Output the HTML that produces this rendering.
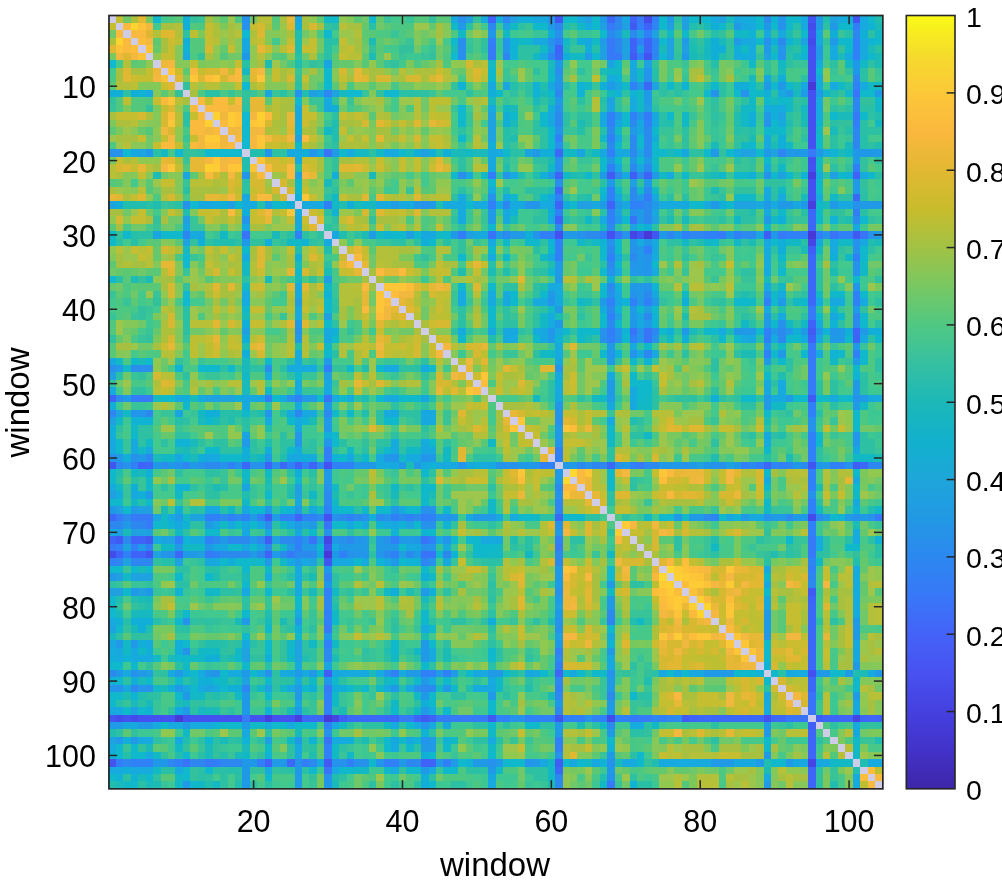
<!DOCTYPE html>
<html><head><meta charset="utf-8"><style>
html,body{margin:0;padding:0;background:#fff;}
svg{display:block;will-change:transform;}
text{font-family:"Liberation Sans",sans-serif;font-size:30.5px;fill:#000;}
</style></head><body>
<svg width="1002" height="887" viewBox="0 0 1002 887">
<rect width="1002" height="887" fill="#fff"/>
<g shape-rendering="crispEdges"><path fill="#cfcce8" d="M108 16h8v7h-8zM116 23h7v7h-7zM123 30h8v8h-8zM131 38h7v7h-7zM138 45h8v8h-8zM146 53h7v7h-7zM153 60h8v8h-8zM161 68h7v7h-7zM168 75h7v7h-7zM175 82h8v8h-8zM183 90h7v7h-7zM190 97h8v8h-8zM198 105h7v7h-7zM205 112h8v8h-8zM213 120h7v7h-7zM220 127h8v8h-8zM228 135h7v7h-7zM235 142h7v7h-7zM242 149h8v8h-8zM250 157h7v7h-7zM257 164h8v8h-8zM265 172h7v7h-7zM272 179h8v8h-8zM280 187h7v7h-7zM287 194h8v7h-8zM295 201h7v8h-7zM302 209h7v7h-7zM309 216h8v8h-8zM317 224h7v7h-7zM324 231h8v8h-8zM332 239h7v7h-7zM339 246h8v8h-8zM347 254h7v7h-7zM354 261h8v7h-8zM362 268h7v8h-7zM369 276h7v7h-7zM376 283h8v8h-8zM384 291h7v7h-7zM391 298h8v8h-8zM399 306h7v7h-7zM406 313h8v7h-8zM414 320h7v8h-7zM421 328h8v7h-8zM429 335h7v8h-7zM436 343h7v7h-7zM443 350h8v8h-8zM451 358h7v7h-7zM458 365h8v7h-8zM466 372h7v8h-7zM473 380h8v7h-8zM481 387h7v8h-7zM488 395h8v7h-8zM496 402h7v8h-7zM503 410h7v7h-7zM510 417h8v8h-8zM518 425h7v7h-7zM525 432h8v7h-8zM533 439h7v8h-7zM540 447h8v7h-8zM548 454h7v8h-7zM555 462h8v7h-8zM563 469h7v8h-7zM570 477h7v7h-7zM577 484h8v7h-8zM585 491h7v8h-7zM592 499h8v7h-8zM600 506h7v8h-7zM607 514h8v7h-8zM615 521h7v8h-7zM622 529h8v7h-8zM630 536h7v8h-7zM637 544h7v7h-7zM644 551h8v7h-8zM652 558h7v8h-7zM659 566h8v7h-8zM667 573h7v8h-7zM674 581h8v7h-8zM682 588h7v8h-7zM689 596h8v7h-8zM697 603h7v7h-7zM704 610h7v8h-7zM711 618h8v7h-8zM719 625h7v8h-7zM726 633h8v7h-8zM734 640h7v8h-7zM741 648h8v7h-8zM749 655h7v7h-7zM756 662h8v8h-8zM764 670h7v7h-7zM771 677h7v8h-7zM778 685h8v7h-8zM786 692h7v8h-7zM793 700h8v7h-8zM801 707h7v8h-7zM808 715h8v7h-8zM816 722h7v7h-7zM823 729h7v8h-7zM830 737h8v7h-8zM838 744h7v8h-7zM845 752h8v7h-8zM853 759h7v8h-7zM860 767h8v7h-8zM868 774h7v7h-7zM875 781h8v8h-8z"/><path fill="#c4be30" d="M116 16h7v7h-7zM108 23h8v7h-8zM205 23h8v7h-8zM250 23h7v7h-7zM205 30h8v8h-8zM205 38h8v7h-8zM257 38h8v7h-8zM287 38h8v7h-8zM309 38h8v7h-8zM339 38h8v7h-8zM168 45h7v8h-7zM228 45h7v8h-7zM265 45h7v8h-7zM302 45h15v8h-15zM347 45h7v8h-7zM161 53h14v7h-14zM339 53h8v7h-8zM190 60h8v8h-8zM235 60h7v8h-7zM146 68h7v7h-7zM198 68h7v7h-7zM228 68h7v7h-7zM272 68h8v7h-8zM481 68h7v7h-7zM138 75h15v7h-15zM272 75h8v7h-8zM302 75h7v7h-7zM339 75h8v7h-8zM697 75h7v7h-7zM235 82h7v8h-7zM257 82h8v8h-8zM153 97h8v8h-8zM205 97h8v8h-8zM228 97h7v8h-7zM161 105h7v7h-7zM302 105h7v7h-7zM116 112h22v8h-22zM190 112h8v8h-8zM302 112h15v8h-15zM339 112h8v8h-8zM354 112h8v8h-8zM429 112h7v8h-7zM399 120h7v7h-7zM339 127h8v8h-8zM138 135h8v7h-8zM161 135h7v7h-7zM190 135h8v7h-8zM309 135h8v7h-8zM347 135h7v7h-7zM362 135h7v7h-7zM399 135h7v7h-7zM429 135h14v7h-14zM153 142h8v7h-8zM175 142h8v7h-8zM265 142h7v7h-7zM436 142h7v7h-7zM116 157h7v7h-7zM280 157h7v7h-7zM302 157h15v7h-15zM376 157h8v7h-8zM399 157h7v7h-7zM414 157h7v7h-7zM131 164h7v8h-7zM175 164h8v8h-8zM399 164h7v8h-7zM414 164h7v8h-7zM138 172h8v7h-8zM235 172h7v7h-7zM161 179h14v8h-14zM250 187h7v7h-7zM302 187h7v7h-7zM131 194h7v7h-7zM309 194h8v7h-8zM339 194h8v7h-8zM138 209h8v7h-8zM168 209h7v7h-7zM198 209h15v7h-15zM250 209h7v7h-7zM280 209h7v7h-7zM384 209h7v7h-7zM399 209h7v7h-7zM131 216h15v8h-15zM205 216h8v8h-8zM228 216h7v8h-7zM250 216h7v8h-7zM287 216h8v8h-8zM339 216h8v8h-8zM362 224h7v7h-7zM399 224h7v7h-7zM436 224h7v7h-7zM131 246h7v8h-7zM146 246h7v8h-7zM168 246h7v8h-7zM205 246h8v8h-8zM220 246h8v8h-8zM287 246h8v8h-8zM309 246h8v8h-8zM362 246h7v8h-7zM138 254h8v7h-8zM228 254h7v7h-7zM205 261h8v7h-8zM436 261h7v7h-7zM481 261h7v7h-7zM726 261h8v7h-8zM228 268h7v8h-7zM317 268h7v8h-7zM339 268h8v8h-8zM436 268h15v8h-15zM473 268h8v8h-8zM250 283h7v8h-7zM421 283h8v8h-8zM302 291h7v7h-7zM436 291h15v7h-15zM436 298h7v8h-7zM213 306h7v7h-7zM228 306h7v7h-7zM250 306h15v7h-15zM302 306h7v7h-7zM317 306h7v7h-7zM414 306h7v7h-7zM250 320h15v8h-15zM399 320h7v8h-7zM376 328h8v7h-8zM205 335h8v8h-8zM228 335h7v8h-7zM228 343h14v7h-14zM317 343h7v7h-7zM354 343h15v7h-15zM384 343h15v7h-15zM362 350h7v8h-7zM384 350h7v8h-7zM510 365h8v7h-8zM622 365h8v7h-8zM652 365h7v7h-7zM496 372h7v8h-7zM659 372h8v8h-8zM362 380h7v7h-7zM659 380h8v7h-8zM161 387h7v8h-7zM354 387h8v8h-8zM518 387h7v8h-7zM570 387h7v8h-7zM466 402h7v8h-7zM533 410h7v7h-7zM563 410h14v7h-14zM585 410h7v7h-7zM458 417h8v8h-8zM585 417h7v8h-7zM481 425h7v7h-7zM525 425h8v7h-8zM577 425h8v7h-8zM659 425h8v7h-8zM719 425h15v7h-15zM823 425h7v7h-7zM838 425h7v7h-7zM518 432h7v7h-7zM533 432h7v7h-7zM503 439h7v8h-7zM525 439h8v8h-8zM563 439h22v8h-22zM622 454h8v8h-8zM503 469h7v8h-7zM533 469h7v8h-7zM652 469h7v8h-7zM719 469h7v8h-7zM481 477h7v7h-7zM503 477h7v7h-7zM533 477h7v7h-7zM622 477h8v7h-8zM682 477h7v7h-7zM719 477h7v7h-7zM734 477h7v7h-7zM518 484h7v7h-7zM533 484h7v7h-7zM659 484h15v7h-15zM726 484h8v7h-8zM503 491h15v8h-15zM600 491h7v8h-7zM652 491h7v8h-7zM823 491h7v8h-7zM838 491h7v8h-7zM585 506h7v8h-7zM615 506h15v8h-15zM600 521h7v8h-7zM667 521h7v8h-7zM682 521h7v8h-7zM458 529h8v7h-8zM548 529h7v7h-7zM570 529h7v7h-7zM600 529h7v7h-7zM630 529h14v7h-14zM726 529h8v7h-8zM622 536h8v8h-8zM622 544h8v7h-8zM458 558h8v8h-8zM563 558h7v8h-7zM585 558h7v8h-7zM689 558h8v8h-8zM466 566h15v7h-15zM518 566h7v7h-7zM577 566h8v7h-8zM786 566h15v7h-15zM823 566h7v7h-7zM845 566h8v7h-8zM577 573h8v8h-8zM615 573h7v8h-7zM793 573h8v8h-8zM823 573h7v8h-7zM801 581h7v7h-7zM570 588h7v8h-7zM615 588h7v8h-7zM704 588h7v8h-7zM749 588h15v8h-15zM801 588h7v8h-7zM652 596h7v7h-7zM741 596h15v7h-15zM168 603h7v7h-7zM786 603h15v7h-15zM682 610h7v8h-7zM734 610h15v8h-15zM756 610h8v8h-8zM786 610h15v8h-15zM719 618h7v7h-7zM734 618h7v7h-7zM786 618h15v7h-15zM518 625h7v8h-7zM563 625h14v8h-14zM711 625h8v8h-8zM749 625h7v8h-7zM793 625h8v8h-8zM845 625h8v8h-8zM354 633h8v7h-8zM518 633h7v7h-7zM577 633h8v7h-8zM622 633h8v7h-8zM845 633h8v7h-8zM570 640h7v8h-7zM704 640h15v8h-15zM771 640h7v8h-7zM845 640h8v8h-8zM689 648h8v7h-8zM704 648h7v7h-7zM793 648h8v7h-8zM823 648h7v7h-7zM682 655h15v7h-15zM719 655h7v7h-7zM771 655h15v7h-15zM801 655h7v7h-7zM823 655h7v7h-7zM682 662h7v8h-7zM704 662h7v8h-7zM786 662h7v8h-7zM801 662h7v8h-7zM734 677h7v8h-7zM749 677h7v8h-7zM749 685h7v7h-7zM793 685h8v7h-8zM659 692h8v8h-8zM697 692h22v8h-22zM756 692h8v8h-8zM659 700h15v7h-15zM697 700h29v7h-29zM741 700h8v7h-8zM778 700h8v7h-8zM674 707h15v8h-15zM749 707h15v8h-15zM518 729h7v8h-7zM585 729h7v8h-7zM659 729h15v8h-15zM741 729h15v8h-15zM518 744h7v8h-7zM585 744h7v8h-7zM659 752h8v7h-8zM719 752h22v7h-22z"/><path fill="#70c868" d="M123 16h8v7h-8zM250 16h7v7h-7zM362 16h7v7h-7zM376 23h8v7h-8zM473 23h8v7h-8zM108 30h8v8h-8zM302 30h7v8h-7zM421 30h8v8h-8zM466 30h7v8h-7zM496 30h7v8h-7zM697 30h7v8h-7zM317 38h7v7h-7zM384 38h7v7h-7zM317 45h7v8h-7zM362 45h7v8h-7zM414 45h7v8h-7zM436 45h7v8h-7zM228 53h14v7h-14zM302 53h7v7h-7zM436 53h7v7h-7zM280 60h7v8h-7zM600 60h7v8h-7zM726 60h8v8h-8zM265 68h7v7h-7zM317 68h7v7h-7zM391 68h8v7h-8zM451 68h7v7h-7zM570 68h7v7h-7zM592 68h8v7h-8zM622 68h8v7h-8zM309 75h15v7h-15zM563 75h7v7h-7zM309 82h8v8h-8zM399 82h15v8h-15zM384 97h7v8h-7zM421 97h8v8h-8zM451 97h7v8h-7zM674 97h8v8h-8zM823 97h7v8h-7zM309 105h8v7h-8zM339 105h8v7h-8zM362 105h7v7h-7zM421 105h8v7h-8zM697 105h7v7h-7zM726 105h8v7h-8zM823 105h7v7h-7zM391 112h8v8h-8zM391 127h8v8h-8zM496 127h7v8h-7zM726 127h8v8h-8zM146 135h7v7h-7zM481 135h7v7h-7zM496 135h7v7h-7zM146 142h7v7h-7zM570 142h7v7h-7zM108 157h8v7h-8zM518 157h7v7h-7zM570 157h7v7h-7zM592 164h8v8h-8zM161 172h7v7h-7zM384 172h7v7h-7zM414 172h7v7h-7zM436 172h15v7h-15zM406 179h8v8h-8zM719 179h7v8h-7zM756 179h8v8h-8zM153 187h8v7h-8zM473 187h8v7h-8zM697 187h7v7h-7zM592 194h8v7h-8zM674 194h8v7h-8zM697 194h7v7h-7zM123 209h8v7h-8zM146 209h7v7h-7zM674 209h8v7h-8zM726 209h8v7h-8zM168 216h15v8h-15zM198 216h7v8h-7zM131 224h15v7h-15zM161 224h14v7h-14zM443 224h8v7h-8zM518 224h7v7h-7zM466 239h7v7h-7zM198 246h7v8h-7zM525 246h8v8h-8zM697 246h7v8h-7zM719 246h7v8h-7zM823 246h7v8h-7zM369 254h7v7h-7zM577 254h8v7h-8zM823 254h7v7h-7zM369 261h7v7h-7zM510 261h8v7h-8zM525 261h8v7h-8zM704 261h7v7h-7zM868 261h15v7h-15zM108 268h8v8h-8zM138 268h8v8h-8zM198 268h7v8h-7zM481 268h7v8h-7zM570 268h7v8h-7zM823 268h7v8h-7zM347 276h15v7h-15zM391 276h8v7h-8zM496 276h14v7h-14zM525 276h8v7h-8zM540 276h8v7h-8zM674 276h8v7h-8zM771 276h7v7h-7zM823 276h7v7h-7zM116 283h7v8h-7zM525 283h8v8h-8zM793 283h8v8h-8zM131 291h7v7h-7zM190 291h8v7h-8zM265 291h7v7h-7zM518 291h7v7h-7zM689 291h8v7h-8zM823 291h7v7h-7zM161 298h7v8h-7zM205 298h8v8h-8zM220 298h8v8h-8zM369 298h7v8h-7zM697 298h7v8h-7zM175 306h8v7h-8zM421 306h8v7h-8zM659 306h8v7h-8zM704 306h7v7h-7zM868 306h7v7h-7zM175 313h8v7h-8zM272 313h8v7h-8zM421 313h8v7h-8zM451 313h7v7h-7zM481 313h7v7h-7zM711 313h8v7h-8zM756 313h8v7h-8zM138 320h8v8h-8zM265 320h7v8h-7zM481 320h7v8h-7zM674 320h8v8h-8zM726 320h8v8h-8zM123 328h8v7h-8zM190 328h15v7h-15zM399 328h15v7h-15zM451 335h7v8h-7zM138 343h15v7h-15zM265 343h7v7h-7zM577 343h23v7h-23zM719 343h7v7h-7zM793 343h8v7h-8zM868 343h7v7h-7zM265 350h7v8h-7zM317 350h7v8h-7zM518 350h7v8h-7zM674 350h8v8h-8zM689 350h8v8h-8zM161 358h7v7h-7zM190 358h8v7h-8zM406 358h8v7h-8zM429 358h7v7h-7zM488 358h8v7h-8zM503 358h7v7h-7zM719 358h7v7h-7zM525 365h8v7h-8zM719 365h7v7h-7zM801 365h7v7h-7zM123 372h8v8h-8zM332 372h7v8h-7zM533 372h7v8h-7zM577 372h8v8h-8zM682 372h7v8h-7zM719 372h7v8h-7zM801 372h7v8h-7zM116 380h7v7h-7zM280 380h7v7h-7zM577 380h8v7h-8zM682 380h7v7h-7zM228 387h7v8h-7zM362 387h7v8h-7zM406 387h15v8h-15zM577 387h8v8h-8zM451 395h7v7h-7zM123 402h8v8h-8zM220 402h15v8h-15zM369 402h7v8h-7zM540 402h8v8h-8zM577 402h15v8h-15zM369 410h7v7h-7zM451 410h7v7h-7zM630 410h14v7h-14zM793 410h8v7h-8zM354 417h8v8h-8zM525 417h15v8h-15zM823 417h7v8h-7zM250 425h7v7h-7zM317 425h7v7h-7zM384 425h7v7h-7zM443 425h8v7h-8zM741 425h8v7h-8zM771 425h7v7h-7zM860 425h15v7h-15zM339 432h8v7h-8zM354 432h8v7h-8zM369 432h15v7h-15zM458 432h8v7h-8zM510 432h8v7h-8zM540 432h8v7h-8zM466 439h7v8h-7zM510 439h8v8h-8zM548 439h7v8h-7zM682 439h7v8h-7zM704 439h7v8h-7zM734 439h7v8h-7zM369 447h7v7h-7zM496 447h7v7h-7zM525 447h8v7h-8zM674 447h8v7h-8zM801 447h7v7h-7zM533 454h7v8h-7zM741 454h8v8h-8zM778 454h8v8h-8zM801 454h7v8h-7zM838 454h7v8h-7zM168 469h7v8h-7zM161 477h7v7h-7zM235 477h7v7h-7zM250 477h7v7h-7zM362 477h7v7h-7zM771 477h7v7h-7zM875 477h8v7h-8zM347 484h7v7h-7zM436 484h7v7h-7zM466 484h22v7h-22zM496 484h7v7h-7zM771 484h7v7h-7zM436 491h7v8h-7zM496 491h7v8h-7zM778 491h8v8h-8zM875 491h8v8h-8zM161 499h7v7h-7zM257 499h8v7h-8zM287 499h8v7h-8zM436 499h7v7h-7zM637 499h7v7h-7zM771 499h7v7h-7zM801 499h7v7h-7zM153 506h8v8h-8zM793 521h8v8h-8zM860 521h8v8h-8zM161 529h7v7h-7zM786 529h7v7h-7zM823 529h7v7h-7zM875 529h8v7h-8zM503 536h7v8h-7zM682 536h7v8h-7zM503 544h7v7h-7zM592 544h8v7h-8zM778 544h8v7h-8zM711 558h8v8h-8zM786 558h7v8h-7zM823 558h7v8h-7zM399 566h7v7h-7zM190 581h8v7h-8zM287 581h8v7h-8zM302 581h7v7h-7zM369 581h7v7h-7zM414 581h7v7h-7zM443 581h8v7h-8zM540 581h8v7h-8zM466 588h15v8h-15zM533 588h7v8h-7zM630 588h7v8h-7zM384 596h7v7h-7zM443 596h8v7h-8zM860 596h8v7h-8zM123 603h8v7h-8zM198 603h7v7h-7zM280 603h15v7h-15zM339 603h8v7h-8zM391 603h8v7h-8zM830 603h8v7h-8zM354 610h8v8h-8zM399 610h7v8h-7zM533 610h7v8h-7zM771 610h7v8h-7zM860 610h8v8h-8zM406 618h8v7h-8zM652 618h7v7h-7zM771 618h7v7h-7zM860 618h8v7h-8zM272 625h8v8h-8zM339 625h8v8h-8zM436 625h7v8h-7zM451 625h22v8h-22zM771 625h7v8h-7zM830 625h8v8h-8zM153 633h8v7h-8zM198 633h7v7h-7zM220 633h8v7h-8zM302 633h7v7h-7zM414 633h7v7h-7zM830 633h8v7h-8zM860 633h8v7h-8zM533 640h7v8h-7zM518 648h7v7h-7zM548 648h7v7h-7zM272 662h8v8h-8zM406 662h8v8h-8zM369 677h7v8h-7zM518 677h7v8h-7zM570 677h15v8h-15zM592 677h8v8h-8zM704 677h22v8h-22zM548 685h7v7h-7zM585 685h7v7h-7zM637 685h7v7h-7zM823 685h7v7h-7zM875 685h8v7h-8zM622 692h8v8h-8zM652 692h7v8h-7zM376 700h8v7h-8zM436 700h7v7h-7zM503 700h7v7h-7zM615 700h7v7h-7zM458 707h15v8h-15zM540 707h15v8h-15zM592 707h8v8h-8zM190 729h15v8h-15zM339 729h15v8h-15zM362 729h14v8h-14zM384 729h7v8h-7zM510 729h8v8h-8zM622 729h8v8h-8zM652 729h7v8h-7zM778 729h8v8h-8zM860 729h8v8h-8zM697 737h7v7h-7zM719 737h15v7h-15zM548 744h7v8h-7zM518 767h7v7h-7zM615 767h7v7h-7zM689 767h8v7h-8zM704 767h15v7h-15zM726 767h8v7h-8zM823 767h7v7h-7zM354 774h8v7h-8zM399 774h7v7h-7zM436 774h7v7h-7zM518 774h7v7h-7zM354 781h8v8h-8zM570 781h7v8h-7zM585 781h7v8h-7zM622 781h8v8h-8zM778 781h8v8h-8z"/><path fill="#acc03c" d="M131 16h7v7h-7zM280 16h7v7h-7zM213 23h7v7h-7zM265 23h7v7h-7zM213 30h7v8h-7zM250 30h7v8h-7zM287 30h8v8h-8zM108 38h8v7h-8zM205 53h8v7h-8zM309 53h8v7h-8zM473 60h8v8h-8zM414 68h22v7h-22zM399 75h7v7h-7zM421 75h8v7h-8zM250 82h7v8h-7zM280 97h7v8h-7zM146 112h7v8h-7zM384 112h7v8h-7zM116 120h15v7h-15zM272 120h8v7h-8zM309 120h8v7h-8zM354 120h8v7h-8zM265 127h7v8h-7zM302 127h7v8h-7zM443 135h8v7h-8zM339 142h30v7h-30zM123 157h8v7h-8zM175 157h8v7h-8zM116 172h7v7h-7zM220 172h8v7h-8zM280 172h7v7h-7zM213 179h7v8h-7zM108 187h8v7h-8zM190 187h8v7h-8zM265 187h7v7h-7zM123 194h8v7h-8zM347 194h7v7h-7zM391 194h8v7h-8zM220 209h8v7h-8zM146 216h7v8h-7zM213 216h7v8h-7zM354 216h8v8h-8zM674 224h8v7h-8zM235 246h7v8h-7zM235 254h7v7h-7zM287 254h8v7h-8zM213 261h7v7h-7zM235 261h7v7h-7zM309 261h8v7h-8zM443 261h8v7h-8zM235 268h7v8h-7zM585 276h7v7h-7zM518 283h7v8h-7zM205 291h8v7h-8zM287 298h8v8h-8zM414 298h7v8h-7zM168 306h7v7h-7zM429 306h7v7h-7zM697 306h7v7h-7zM689 313h15v7h-15zM161 320h7v8h-7zM391 320h8v8h-8zM421 320h8v8h-8zM161 328h14v7h-14zM414 328h7v7h-7zM161 335h7v8h-7zM399 335h7v8h-7zM228 350h7v8h-7zM354 350h8v8h-8zM510 372h8v8h-8zM153 380h8v7h-8zM570 402h7v8h-7zM548 410h7v7h-7zM577 410h8v7h-8zM622 410h8v7h-8zM466 417h7v8h-7zM577 417h8v8h-8zM376 425h8v7h-8zM592 425h8v7h-8zM704 425h7v7h-7zM563 432h7v7h-7zM682 447h7v7h-7zM503 454h7v8h-7zM525 469h8v8h-8zM496 477h7v7h-7zM503 484h15v7h-15zM689 484h8v7h-8zM369 491h7v8h-7zM704 491h7v8h-7zM518 499h7v7h-7zM503 529h7v7h-7zM652 551h7v7h-7zM644 558h8v8h-8zM719 558h15v8h-15zM778 573h8v8h-8zM317 581h7v7h-7zM540 588h8v8h-8zM711 588h8v8h-8zM823 588h7v8h-7zM406 596h8v7h-8zM577 596h8v7h-8zM771 596h7v7h-7zM786 596h7v7h-7zM399 603h15v7h-15zM518 610h7v8h-7zM585 610h7v8h-7zM682 618h7v7h-7zM823 618h7v7h-7zM652 625h7v8h-7zM652 633h7v7h-7zM689 677h8v8h-8zM786 677h7v8h-7zM667 685h7v7h-7zM689 692h8v8h-8zM771 692h7v8h-7zM682 729h7v8h-7zM711 729h8v8h-8z"/><path fill="#e2b832" d="M138 16h8v7h-8zM168 30h7v8h-7zM108 45h8v8h-8zM123 75h8v7h-8zM175 75h8v7h-8zM250 75h7v7h-7zM168 82h7v8h-7zM376 120h8v7h-8zM414 120h7v7h-7zM376 135h8v7h-8zM168 157h7v7h-7zM436 157h7v7h-7zM354 164h8v8h-8zM362 194h7v7h-7zM376 194h8v7h-8zM414 194h7v7h-7zM376 209h8v7h-8zM317 216h7v8h-7zM309 224h8v7h-8zM257 261h8v7h-8zM287 268h8v8h-8zM518 276h7v7h-7zM213 283h7v8h-7zM228 283h7v8h-7zM287 283h8v8h-8zM302 283h7v8h-7zM414 283h7v8h-7zM406 306h8v7h-8zM399 313h7v7h-7zM213 320h7v8h-7zM287 320h8v8h-8zM376 320h8v8h-8zM250 343h7v7h-7zM481 358h7v7h-7zM503 365h7v7h-7zM540 365h15v7h-15zM451 387h7v8h-7zM458 410h8v7h-8zM563 417h7v8h-7zM369 425h7v7h-7zM667 425h7v7h-7zM458 447h8v7h-8zM458 454h8v8h-8zM510 469h8v8h-8zM615 469h7v8h-7zM734 469h7v8h-7zM845 477h8v7h-8zM682 491h15v8h-15zM563 521h7v8h-7zM659 558h8v8h-8zM652 566h7v7h-7zM518 573h7v8h-7zM719 573h7v8h-7zM756 573h8v8h-8zM749 581h15v7h-15zM585 588h7v8h-7zM585 596h7v7h-7zM734 603h7v7h-7zM667 625h7v8h-7zM563 640h7v8h-7zM697 640h7v8h-7zM674 655h8v7h-8zM786 655h15v7h-15zM667 662h15v8h-15zM749 692h7v8h-7zM749 700h7v7h-7zM570 752h7v7h-7z"/><path fill="#78c860" d="M146 16h7v7h-7zM108 53h8v7h-8zM659 60h8v8h-8zM689 60h8v8h-8zM719 60h7v8h-7zM659 68h8v7h-8zM719 68h7v7h-7zM659 75h8v7h-8zM719 75h7v7h-7zM756 75h8v7h-8zM726 97h8v8h-8zM496 112h7v8h-7zM369 120h7v7h-7zM570 135h7v7h-7zM592 135h8v7h-8zM674 135h8v7h-8zM391 142h8v7h-8zM496 164h7v8h-7zM369 179h7v8h-7zM726 179h8v8h-8zM793 179h8v8h-8zM823 179h7v8h-7zM473 209h8v7h-8zM801 224h7v7h-7zM868 224h15v7h-15zM518 246h7v8h-7zM429 261h7v7h-7zM570 261h7v7h-7zM719 261h7v7h-7zM786 261h7v7h-7zM801 261h7v7h-7zM466 268h7v8h-7zM213 276h7v7h-7zM272 276h8v7h-8zM384 276h7v7h-7zM414 276h7v7h-7zM577 276h8v7h-8zM719 276h7v7h-7zM481 283h7v8h-7zM563 283h7v8h-7zM756 283h8v8h-8zM823 283h7v8h-7zM875 283h8v8h-8zM369 291h7v7h-7zM421 291h8v7h-8zM235 298h7v8h-7zM563 306h14v7h-14zM466 313h7v7h-7zM518 313h7v7h-7zM570 313h7v7h-7zM369 320h7v8h-7zM518 320h7v8h-7zM570 320h7v8h-7zM689 320h15v8h-15zM384 328h7v7h-7zM354 335h8v8h-8zM823 343h7v7h-7zM622 358h8v7h-8zM674 358h8v7h-8zM488 365h8v7h-8zM697 365h7v7h-7zM756 365h8v7h-8zM362 372h7v8h-7zM406 372h8v8h-8zM704 372h7v8h-7zM302 380h7v7h-7zM756 380h8v7h-8zM823 380h7v7h-7zM376 387h8v8h-8zM823 387h7v8h-7zM458 395h8v7h-8zM205 402h8v8h-8zM257 402h8v8h-8zM563 402h7v8h-7zM726 402h8v8h-8zM674 410h8v7h-8zM756 410h8v7h-8zM734 417h7v8h-7zM339 425h8v7h-8zM406 425h15v7h-15zM830 425h8v7h-8zM600 432h7v7h-7zM667 432h15v7h-15zM704 432h7v7h-7zM697 439h7v8h-7zM719 439h7v8h-7zM793 439h8v8h-8zM823 439h7v8h-7zM793 447h8v7h-8zM838 447h7v7h-7zM570 454h7v8h-7zM630 454h7v8h-7zM644 454h8v8h-8zM376 469h8v8h-8zM399 469h7v8h-7zM496 469h7v8h-7zM630 469h7v8h-7zM228 477h7v7h-7zM354 477h8v7h-8zM399 477h22v7h-22zM548 477h7v7h-7zM860 477h8v7h-8zM369 484h7v7h-7zM704 484h7v7h-7zM860 484h8v7h-8zM228 499h7v7h-7zM525 506h8v8h-8zM637 506h15v8h-15zM697 521h7v8h-7zM778 521h8v8h-8zM451 529h7v7h-7zM711 529h8v7h-8zM548 536h7v8h-7zM563 536h7v8h-7zM734 536h7v8h-7zM600 544h7v7h-7zM548 551h7v7h-7zM600 551h7v7h-7zM659 551h8v7h-8zM734 551h7v7h-7zM756 558h8v8h-8zM771 558h7v8h-7zM153 566h22v7h-22zM644 566h8v7h-8zM525 573h8v8h-8zM228 581h7v7h-7zM451 581h7v7h-7zM503 581h7v7h-7zM525 581h8v7h-8zM830 588h8v8h-8zM153 596h8v7h-8zM414 596h7v7h-7zM414 603h7v7h-7zM458 603h8v7h-8zM533 603h7v7h-7zM615 603h7v7h-7zM778 603h8v7h-8zM466 610h7v8h-7zM525 610h8v8h-8zM577 610h8v8h-8zM622 618h8v7h-8zM153 625h22v8h-22zM354 625h8v8h-8zM369 625h7v8h-7zM533 625h7v8h-7zM190 633h8v7h-8zM272 633h8v7h-8zM496 633h7v7h-7zM510 640h8v8h-8zM630 640h7v8h-7zM644 640h8v8h-8zM168 662h7v8h-7zM376 662h8v8h-8zM458 662h8v8h-8zM473 662h8v8h-8zM503 662h7v8h-7zM652 662h7v8h-7zM652 677h7v8h-7zM615 685h7v7h-7zM697 685h7v7h-7zM354 692h8v8h-8zM272 700h8v7h-8zM533 700h15v7h-15zM317 707h7v8h-7zM354 707h8v8h-8zM838 707h7v8h-7zM272 729h8v8h-8zM376 729h8v8h-8zM436 729h7v8h-7zM473 729h15v8h-15zM533 729h7v8h-7zM518 737h7v7h-7zM682 737h7v7h-7zM540 744h8v8h-8zM801 744h7v8h-7zM570 767h15v7h-15zM317 774h7v7h-7zM317 781h7v8h-7zM376 781h8v8h-8z"/><path fill="#10b8d0" d="M153 16h8v7h-8zM369 16h7v7h-7zM704 16h7v7h-7zM242 30h8v8h-8zM451 53h7v7h-7zM108 60h8v8h-8zM242 82h8v8h-8zM347 90h15v7h-15zM384 90h15v7h-15zM295 97h7v8h-7zM458 105h8v7h-8zM242 112h8v8h-8zM242 120h8v7h-8zM242 127h8v8h-8zM242 135h8v7h-8zM242 142h8v7h-8zM123 149h8v8h-8zM175 149h8v8h-8zM205 149h37v8h-37zM190 201h8v8h-8zM183 254h7v7h-7zM183 261h7v7h-7zM108 276h8v7h-8zM183 291h7v7h-7zM183 298h7v8h-7zM146 358h7v7h-7zM198 365h7v7h-7zM659 514h15v7h-15zM607 566h8v7h-8zM607 573h8v8h-8zM108 610h8v8h-8z"/><path fill="#43c88d" d="M161 16h7v7h-7zM391 16h8v7h-8zM153 23h8v7h-8zM481 23h7v7h-7zM332 30h7v8h-7zM518 30h7v8h-7zM704 30h7v8h-7zM272 38h8v7h-8zM443 38h8v7h-8zM332 45h7v8h-7zM384 45h15v8h-15zM421 45h8v8h-8zM756 45h8v8h-8zM116 60h7v8h-7zM302 60h7v8h-7zM399 60h7v8h-7zM503 60h15v8h-15zM533 60h15v8h-15zM577 60h15v8h-15zM108 68h8v7h-8zM540 68h8v7h-8zM585 68h7v7h-7zM801 68h7v7h-7zM510 75h8v7h-8zM533 75h15v7h-15zM577 75h15v7h-15zM667 75h7v7h-7zM570 82h7v8h-7zM689 82h8v8h-8zM443 90h15v7h-15zM563 90h14v7h-14zM689 90h8v7h-8zM391 97h8v8h-8zM510 97h8v8h-8zM525 97h8v8h-8zM563 97h7v8h-7zM585 97h7v8h-7zM682 97h7v8h-7zM347 105h7v7h-7zM391 105h8v7h-8zM466 105h7v7h-7zM496 105h7v7h-7zM563 105h7v7h-7zM622 105h8v7h-8zM659 105h15v7h-15zM756 105h8v7h-8zM324 112h8v8h-8zM451 112h7v8h-7zM704 112h7v8h-7zM451 120h7v7h-7zM481 120h7v7h-7zM704 120h7v7h-7zM868 120h7v7h-7zM451 127h7v8h-7zM466 127h7v8h-7zM704 127h7v8h-7zM719 127h7v8h-7zM756 127h8v8h-8zM868 135h15v7h-15zM704 142h7v7h-7zM756 142h8v7h-8zM324 157h8v7h-8zM451 157h7v7h-7zM704 157h22v7h-22zM868 157h7v7h-7zM324 164h8v8h-8zM510 164h8v8h-8zM577 164h8v8h-8zM786 164h7v8h-7zM875 164h8v8h-8zM406 172h8v7h-8zM421 172h8v7h-8zM473 172h8v7h-8zM131 179h7v8h-7zM391 179h8v8h-8zM421 179h8v8h-8zM503 179h15v8h-15zM533 179h7v8h-7zM577 179h15v8h-15zM749 179h7v8h-7zM801 179h7v8h-7zM391 187h8v7h-8zM451 187h7v7h-7zM466 187h7v7h-7zM496 187h7v7h-7zM577 187h8v7h-8zM875 187h8v7h-8zM496 194h7v7h-7zM570 194h7v7h-7zM756 194h8v7h-8zM153 209h8v7h-8zM659 209h8v7h-8zM711 209h8v7h-8zM845 209h8v7h-8zM868 209h15v7h-15zM697 216h7v8h-7zM726 216h8v8h-8zM823 216h7v8h-7zM451 224h7v7h-7zM525 224h15v7h-15zM577 224h8v7h-8zM592 224h8v7h-8zM734 224h7v7h-7zM816 224h7v7h-7zM205 231h8v8h-8zM250 231h15v8h-15zM123 239h8v7h-8zM138 239h8v7h-8zM451 239h7v7h-7zM510 239h8v7h-8zM659 239h8v7h-8zM451 246h7v8h-7zM585 246h7v8h-7zM704 246h7v8h-7zM741 246h8v8h-8zM198 254h7v7h-7zM510 254h8v7h-8zM533 254h7v7h-7zM570 254h7v7h-7zM689 254h8v7h-8zM704 254h7v7h-7zM786 254h15v7h-15zM868 254h7v7h-7zM458 261h8v7h-8zM503 261h7v7h-7zM533 261h7v7h-7zM577 261h15v7h-15zM749 261h7v7h-7zM771 261h7v7h-7zM838 261h15v7h-15zM510 268h8v8h-8zM704 268h22v8h-22zM771 268h7v8h-7zM786 268h22v8h-22zM548 276h7v7h-7zM830 276h8v7h-8zM845 276h8v7h-8zM451 283h7v8h-7zM734 283h7v8h-7zM801 283h7v8h-7zM838 283h7v8h-7zM138 291h8v7h-8zM466 291h7v7h-7zM481 291h7v7h-7zM563 291h7v7h-7zM845 291h8v7h-8zM868 291h7v7h-7zM108 298h8v8h-8zM138 298h8v8h-8zM190 298h15v8h-15zM272 298h15v8h-15zM518 298h7v8h-7zM570 298h7v8h-7zM756 298h8v8h-8zM153 306h8v7h-8zM451 306h7v7h-7zM875 306h8v7h-8zM265 313h7v7h-7zM585 313h7v7h-7zM667 313h7v7h-7zM585 320h7v8h-7zM868 320h7v8h-7zM138 328h8v7h-8zM265 328h15v7h-15zM726 335h8v8h-8zM711 343h8v7h-8zM131 350h7v8h-7zM183 350h7v8h-7zM488 350h8v8h-8zM622 350h8v8h-8zM786 350h7v8h-7zM183 358h7v7h-7zM205 358h23v7h-23zM250 358h7v7h-7zM280 358h7v7h-7zM317 358h7v7h-7zM332 358h15v7h-15zM376 358h8v7h-8zM399 358h7v7h-7zM533 358h7v7h-7zM741 358h8v7h-8zM354 365h8v7h-8zM198 372h7v8h-7zM220 372h8v8h-8zM280 372h7v8h-7zM384 372h7v8h-7zM749 372h7v8h-7zM786 372h7v8h-7zM265 380h7v7h-7zM741 380h15v7h-15zM786 380h7v7h-7zM868 380h7v7h-7zM116 387h7v8h-7zM213 387h7v8h-7zM384 387h7v8h-7zM540 387h8v8h-8zM801 387h7v8h-7zM838 387h15v8h-15zM443 395h8v7h-8zM510 395h8v7h-8zM198 402h7v8h-7zM280 402h15v8h-15zM711 402h8v8h-8zM734 402h7v8h-7zM793 402h8v8h-8zM845 402h8v8h-8zM153 410h8v7h-8zM272 410h8v7h-8zM354 410h8v7h-8zM711 410h8v7h-8zM153 417h8v8h-8zM168 417h7v8h-7zM190 417h8v8h-8zM257 417h8v8h-8zM272 417h8v8h-8zM332 417h7v8h-7zM347 417h7v8h-7zM362 417h7v8h-7zM488 417h8v8h-8zM600 417h7v8h-7zM875 417h8v8h-8zM123 425h8v7h-8zM391 425h8v7h-8zM778 425h8v7h-8zM816 425h7v7h-7zM190 432h8v7h-8zM317 432h7v7h-7zM801 432h7v7h-7zM845 432h8v7h-8zM153 439h8v8h-8zM168 439h7v8h-7zM272 439h8v8h-8zM317 439h7v8h-7zM347 439h15v8h-15zM451 439h7v8h-7zM741 439h8v8h-8zM153 447h22v7h-22zM481 447h7v7h-7zM369 454h7v8h-7zM756 454h8v8h-8zM771 454h7v8h-7zM183 469h22v8h-22zM384 469h7v8h-7zM816 469h7v8h-7zM175 477h15v7h-15zM287 477h8v7h-8zM347 477h7v7h-7zM391 477h8v7h-8zM816 477h7v7h-7zM153 484h8v7h-8zM168 484h7v7h-7zM257 484h8v7h-8zM272 484h15v7h-15zM317 484h7v7h-7zM354 484h8v7h-8zM644 484h8v7h-8zM153 491h22v8h-22zM190 491h8v8h-8zM272 491h8v8h-8zM339 491h8v8h-8zM354 491h8v8h-8zM406 491h15v8h-15zM816 491h7v8h-7zM317 499h7v7h-7zM510 506h8v8h-8zM607 506h8v8h-8zM674 506h8v8h-8zM749 506h7v8h-7zM600 514h7v7h-7zM198 529h7v7h-7zM443 529h8v7h-8zM697 536h7v8h-7zM726 536h8v8h-8zM719 544h7v7h-7zM577 551h8v7h-8zM830 551h8v7h-8zM198 566h7v7h-7zM302 566h7v7h-7zM332 566h7v7h-7zM168 573h7v8h-7zM198 573h7v8h-7zM406 573h8v8h-8zM600 581h7v7h-7zM816 581h7v7h-7zM190 588h8v8h-8zM175 596h15v7h-15zM347 596h7v7h-7zM816 596h7v7h-7zM830 596h8v7h-8zM309 603h8v7h-8zM630 603h7v7h-7zM816 603h7v7h-7zM123 610h8v8h-8zM205 610h23v8h-23zM235 610h7v8h-7zM250 610h7v8h-7zM339 610h15v8h-15zM362 610h7v8h-7zM816 610h7v8h-7zM250 618h7v7h-7zM302 618h7v7h-7zM362 618h7v7h-7zM436 618h7v7h-7zM496 618h14v7h-14zM220 625h8v8h-8zM250 625h7v8h-7zM362 625h7v8h-7zM637 625h7v8h-7zM816 625h7v8h-7zM309 633h8v7h-8zM429 633h7v7h-7zM630 633h7v7h-7zM816 633h7v7h-7zM317 640h7v8h-7zM376 640h8v8h-8zM496 640h7v8h-7zM816 640h7v8h-7zM339 648h8v7h-8zM451 648h7v7h-7zM473 648h8v7h-8zM533 648h7v7h-7zM816 648h7v7h-7zM272 655h8v7h-8zM354 655h8v7h-8zM466 655h15v7h-15zM600 655h7v7h-7zM816 655h7v7h-7zM138 662h8v8h-8zM198 662h7v8h-7zM220 662h8v8h-8zM235 662h7v8h-7zM287 662h8v8h-8zM391 662h8v8h-8zM548 662h7v8h-7zM816 662h7v8h-7zM354 677h15v8h-15zM548 677h7v8h-7zM830 677h8v8h-8zM518 685h7v7h-7zM257 692h8v8h-8zM347 692h7v8h-7zM362 692h7v8h-7zM443 692h8v8h-8zM466 692h15v8h-15zM347 700h7v7h-7zM362 700h7v7h-7zM496 700h7v7h-7zM161 707h7v8h-7zM272 707h8v8h-8zM362 707h7v8h-7zM376 707h8v8h-8zM481 707h7v8h-7zM525 707h8v8h-8zM317 722h7v7h-7zM518 722h7v7h-7zM563 722h14v7h-14zM585 722h7v7h-7zM674 722h8v7h-8zM689 722h22v7h-22zM719 722h45v7h-45zM309 729h8v8h-8zM369 737h7v7h-7zM644 737h8v7h-8zM689 737h8v7h-8zM771 737h7v7h-7zM354 744h8v8h-8zM376 744h8v8h-8zM481 744h7v8h-7zM302 752h7v7h-7zM354 752h8v7h-8zM369 752h7v7h-7zM384 752h7v7h-7zM481 752h7v7h-7zM496 752h7v7h-7zM525 752h8v7h-8zM213 774h7v7h-7zM228 774h7v7h-7zM250 774h7v7h-7zM302 774h7v7h-7zM347 774h7v7h-7zM384 774h7v7h-7zM414 774h7v7h-7zM473 774h8v7h-8zM228 781h7v8h-7zM257 781h8v8h-8zM280 781h7v8h-7zM302 781h7v8h-7zM399 781h7v8h-7zM510 781h8v8h-8z"/><path fill="#4dc883" d="M168 16h7v7h-7zM235 16h7v7h-7zM198 23h7v7h-7zM391 23h23v7h-23zM376 30h15v8h-15zM399 30h7v8h-7zM451 30h7v8h-7zM190 53h8v7h-8zM391 53h8v7h-8zM443 53h8v7h-8zM287 60h8v8h-8zM414 60h7v8h-7zM443 60h8v8h-8zM667 60h15v8h-15zM667 68h7v7h-7zM704 68h7v7h-7zM741 68h8v7h-8zM108 75h8v7h-8zM734 75h7v7h-7zM317 82h7v8h-7zM466 82h7v8h-7zM697 82h7v8h-7zM198 90h7v7h-7zM235 90h7v7h-7zM481 90h7v7h-7zM146 97h7v8h-7zM659 97h15v8h-15zM719 97h7v8h-7zM116 105h7v7h-7zM183 105h7v7h-7zM406 105h8v7h-8zM689 105h8v7h-8zM719 105h7v7h-7zM592 112h8v8h-8zM674 112h8v8h-8zM823 112h7v8h-7zM496 120h7v7h-7zM518 120h7v7h-7zM592 120h8v7h-8zM674 120h8v7h-8zM518 127h15v8h-15zM622 127h8v8h-8zM674 127h8v8h-8zM793 127h8v8h-8zM793 135h8v7h-8zM108 142h8v7h-8zM183 142h7v7h-7zM533 142h7v7h-7zM674 142h8v7h-8zM466 157h7v7h-7zM592 157h8v7h-8zM659 157h15v7h-15zM793 157h8v7h-8zM466 164h7v8h-7zM659 164h15v8h-15zM793 164h8v8h-8zM518 179h7v8h-7zM622 179h8v8h-8zM667 179h7v8h-7zM510 187h8v7h-8zM793 187h8v7h-8zM845 187h8v7h-8zM153 194h8v7h-8zM793 194h8v7h-8zM369 209h7v7h-7zM793 209h8v7h-8zM823 209h7v7h-7zM406 216h8v8h-8zM421 216h8v8h-8zM674 216h8v8h-8zM175 224h8v7h-8zM421 224h8v7h-8zM622 224h8v7h-8zM682 224h7v7h-7zM786 224h7v7h-7zM406 239h8v7h-8zM436 239h7v7h-7zM622 239h8v7h-8zM421 246h15v8h-15zM563 246h7v8h-7zM577 246h8v8h-8zM592 246h8v8h-8zM622 246h8v8h-8zM659 246h8v8h-8zM466 254h7v7h-7zM481 254h7v7h-7zM496 254h7v7h-7zM592 254h8v7h-8zM414 261h7v7h-7zM592 261h8v7h-8zM622 261h8v7h-8zM451 268h7v8h-7zM496 268h7v8h-7zM875 268h8v8h-8zM302 276h7v7h-7zM443 276h8v7h-8zM615 276h7v7h-7zM652 276h7v7h-7zM868 276h7v7h-7zM123 283h8v8h-8zM123 291h8v7h-8zM525 291h8v7h-8zM592 291h8v7h-8zM786 291h7v7h-7zM116 298h7v8h-7zM146 298h7v8h-7zM674 298h8v8h-8zM689 298h8v8h-8zM116 306h15v7h-15zM481 306h7v7h-7zM525 306h8v7h-8zM585 306h7v7h-7zM749 306h7v7h-7zM786 306h15v7h-15zM845 306h8v7h-8zM116 313h7v7h-7zM198 313h7v7h-7zM309 313h8v7h-8zM332 313h7v7h-7zM563 313h7v7h-7zM845 313h8v7h-8zM868 313h15v7h-15zM153 320h8v8h-8zM354 320h8v8h-8zM451 320h7v8h-7zM756 320h8v8h-8zM823 320h7v8h-7zM845 320h8v8h-8zM309 328h15v7h-15zM339 328h8v7h-8zM339 335h8v8h-8zM697 335h7v8h-7zM332 343h7v7h-7zM838 343h7v7h-7zM146 350h15v8h-15zM369 350h7v8h-7zM704 350h7v8h-7zM823 350h7v8h-7zM845 350h8v8h-8zM868 350h7v8h-7zM123 358h8v7h-8zM362 358h7v7h-7zM414 358h7v7h-7zM548 358h7v7h-7zM600 358h7v7h-7zM793 358h15v7h-15zM823 358h7v7h-7zM868 358h7v7h-7zM674 365h8v7h-8zM704 365h7v7h-7zM778 365h8v7h-8zM860 365h15v7h-15zM175 372h8v8h-8zM250 372h15v8h-15zM347 372h7v8h-7zM548 372h7v8h-7zM615 372h7v8h-7zM652 372h7v8h-7zM741 372h8v8h-8zM845 372h8v8h-8zM488 380h8v7h-8zM600 380h7v7h-7zM711 380h8v7h-8zM793 380h8v7h-8zM875 380h8v7h-8zM183 387h7v8h-7zM347 387h7v8h-7zM399 387h7v8h-7zM793 387h8v8h-8zM473 395h8v7h-8zM496 395h7v7h-7zM570 395h7v7h-7zM213 402h7v8h-7zM347 402h7v8h-7zM362 402h7v8h-7zM488 402h8v8h-8zM875 402h8v8h-8zM741 410h15v7h-15zM801 410h7v7h-7zM860 410h8v7h-8zM280 417h7v8h-7zM704 417h7v8h-7zM741 417h8v8h-8zM860 417h8v8h-8zM213 425h15v7h-15zM272 425h8v7h-8zM548 425h7v7h-7zM220 432h8v7h-8zM384 432h7v7h-7zM399 432h7v7h-7zM235 439h7v8h-7zM711 447h8v7h-8zM771 447h7v7h-7zM823 447h7v7h-7zM451 454h7v8h-7zM466 454h7v8h-7zM518 454h7v8h-7zM830 454h8v8h-8zM339 469h8v8h-8zM406 469h8v8h-8zM488 477h8v7h-8zM339 484h8v7h-8zM637 484h7v7h-7zM711 484h8v7h-8zM399 491h7v8h-7zM205 499h15v7h-15zM250 499h7v7h-7zM339 499h23v7h-23zM384 499h7v7h-7zM451 506h7v8h-7zM473 506h8v8h-8zM615 514h7v7h-7zM369 521h7v8h-7zM466 521h7v8h-7zM607 521h8v8h-8zM220 529h8v7h-8zM272 529h8v7h-8zM317 529h7v7h-7zM332 529h15v7h-15zM354 529h8v7h-8zM719 536h7v8h-7zM741 536h15v8h-15zM577 544h8v7h-8zM697 544h7v7h-7zM801 544h7v7h-7zM830 544h15v7h-15zM860 544h15v7h-15zM741 551h15v7h-15zM801 551h7v7h-7zM369 558h7v8h-7zM466 558h7v8h-7zM190 566h8v7h-8zM250 566h15v7h-15zM339 566h8v7h-8zM153 573h15v8h-15zM190 573h8v8h-8zM250 573h15v8h-15zM272 573h8v8h-8zM153 581h8v7h-8zM205 581h23v7h-23zM235 581h7v7h-7zM309 581h8v7h-8zM391 581h8v7h-8zM458 581h8v7h-8zM317 588h7v8h-7zM198 596h7v7h-7zM391 596h8v7h-8zM175 603h8v7h-8zM429 603h7v7h-7zM637 603h7v7h-7zM161 610h7v8h-7zM443 610h8v8h-8zM458 610h8v8h-8zM510 610h8v8h-8zM473 618h8v7h-8zM540 618h8v7h-8zM577 618h8v7h-8zM190 625h15v8h-15zM630 625h7v8h-7zM860 625h15v8h-15zM168 640h7v8h-7zM161 648h7v7h-7zM466 648h7v7h-7zM503 648h15v7h-15zM630 648h7v7h-7zM644 648h8v7h-8zM399 655h7v7h-7zM503 655h7v7h-7zM630 655h7v7h-7zM644 655h8v7h-8zM414 662h7v8h-7zM540 677h8v8h-8zM458 685h8v7h-8zM317 692h7v8h-7zM384 692h7v8h-7zM399 692h7v8h-7zM220 700h15v7h-15zM250 700h15v7h-15zM280 700h15v7h-15zM302 700h7v7h-7zM399 700h7v7h-7zM451 700h7v7h-7zM473 700h15v7h-15zM451 707h7v8h-7zM503 707h7v8h-7zM637 707h15v8h-15zM823 722h7v7h-7zM205 729h8v8h-8zM302 729h7v8h-7zM414 729h7v8h-7zM443 729h15v8h-15zM540 729h8v8h-8zM816 729h7v8h-7zM548 737h7v7h-7zM637 737h7v7h-7zM436 744h7v8h-7zM637 744h7v8h-7zM280 752h7v7h-7zM399 752h22v7h-22zM443 752h8v7h-8zM466 752h7v7h-7zM458 767h8v7h-8zM503 767h15v7h-15zM637 767h7v7h-7zM719 767h7v7h-7zM369 774h7v7h-7zM406 774h8v7h-8zM443 774h23v7h-23zM637 774h7v7h-7zM719 774h7v7h-7zM362 781h7v8h-7zM406 781h8v8h-8zM473 781h8v8h-8zM496 781h7v8h-7z"/><path fill="#5dc873" d="M175 16h8v7h-8zM220 16h8v7h-8zM317 16h7v7h-7zM354 16h8v7h-8zM272 23h8v7h-8zM384 23h7v7h-7zM362 30h7v8h-7zM570 30h7v8h-7zM674 30h8v8h-8zM823 30h7v8h-7zM153 38h8v7h-8zM376 38h8v7h-8zM391 38h8v7h-8zM332 53h7v7h-7zM362 53h7v7h-7zM376 53h8v7h-8zM131 60h7v8h-7zM622 60h8v8h-8zM838 60h7v8h-7zM183 68h7v7h-7zM510 68h8v7h-8zM563 68h7v7h-7zM108 82h8v8h-8zM332 82h7v8h-7zM369 82h7v8h-7zM481 82h7v8h-7zM496 82h7v8h-7zM161 90h7v7h-7zM436 90h7v7h-7zM265 97h7v8h-7zM570 97h7v8h-7zM689 97h8v8h-8zM838 97h7v8h-7zM384 105h7v7h-7zM525 105h8v7h-8zM697 112h7v8h-7zM108 127h8v8h-8zM317 127h7v8h-7zM689 127h8v8h-8zM533 135h7v7h-7zM823 135h7v7h-7zM689 142h8v7h-8zM823 142h7v7h-7zM674 157h8v7h-8zM756 157h8v7h-8zM823 157h7v7h-7zM190 172h8v7h-8zM391 172h8v7h-8zM116 179h7v8h-7zM347 179h7v8h-7zM466 179h7v8h-7zM481 179h7v8h-7zM592 179h8v8h-8zM704 179h7v8h-7zM369 187h7v7h-7zM429 187h7v7h-7zM481 187h7v7h-7zM726 187h8v7h-8zM823 194h7v7h-7zM570 209h7v7h-7zM704 209h7v7h-7zM496 216h7v8h-7zM108 224h8v7h-8zM220 224h8v7h-8zM510 224h8v7h-8zM711 224h8v7h-8zM838 224h15v7h-15zM146 239h7v7h-7zM175 239h8v7h-8zM369 246h7v8h-7zM466 246h7v8h-7zM674 246h8v8h-8zM272 254h8v7h-8zM525 254h8v7h-8zM674 254h8v7h-8zM801 254h7v7h-7zM108 261h8v7h-8zM123 268h8v8h-8zM146 268h7v8h-7zM592 268h8v8h-8zM659 268h8v8h-8zM868 268h7v8h-7zM175 276h8v7h-8zM280 276h7v7h-7zM339 276h8v7h-8zM734 276h7v7h-7zM131 283h7v8h-7zM146 283h7v8h-7zM466 283h7v8h-7zM496 283h7v8h-7zM116 291h7v7h-7zM198 291h7v7h-7zM570 291h7v7h-7zM131 298h7v8h-7zM265 298h7v8h-7zM592 306h8v7h-8zM496 313h7v7h-7zM592 313h8v7h-8zM719 313h7v7h-7zM466 320h7v8h-7zM592 320h8v8h-8zM280 335h7v8h-7zM183 343h7v7h-7zM622 343h8v7h-8zM845 343h8v7h-8zM577 358h8v7h-8zM682 358h7v7h-7zM577 365h8v7h-8zM644 365h8v7h-8zM272 372h8v8h-8zM339 372h8v8h-8zM376 372h8v8h-8zM414 372h7v8h-7zM793 372h8v8h-8zM838 372h7v8h-7zM734 380h7v7h-7zM845 380h8v7h-8zM175 387h8v8h-8zM272 387h15v8h-15zM622 395h8v7h-8zM175 402h8v8h-8zM309 402h8v8h-8zM376 402h8v8h-8zM406 402h8v8h-8zM823 402h7v8h-7zM830 410h8v7h-8zM161 417h7v8h-7zM317 417h7v8h-7zM592 417h8v8h-8zM749 417h7v8h-7zM801 417h7v8h-7zM198 432h7v7h-7zM347 432h7v7h-7zM228 439h7v8h-7zM652 439h7v8h-7zM674 439h8v8h-8zM801 439h7v8h-7zM838 439h7v8h-7zM577 447h8v7h-8zM704 447h7v7h-7zM778 447h8v7h-8zM719 454h7v8h-7zM161 469h7v8h-7zM123 477h8v7h-8zM190 477h8v7h-8zM302 477h7v7h-7zM384 477h7v7h-7zM451 484h15v7h-15zM540 484h8v7h-8zM875 484h8v7h-8zM272 499h8v7h-8zM362 499h7v7h-7zM399 499h22v7h-22zM510 499h8v7h-8zM845 499h8v7h-8zM860 499h8v7h-8zM704 521h7v8h-7zM756 521h8v8h-8zM153 529h8v7h-8zM436 529h7v7h-7zM488 529h8v7h-8zM667 536h7v8h-7zM458 551h8v7h-8zM838 551h7v7h-7zM860 551h8v7h-8zM533 558h7v8h-7zM362 566h7v7h-7zM630 573h7v8h-7zM123 581h8v7h-8zM250 581h7v7h-7zM339 581h15v7h-15zM533 581h7v7h-7zM451 588h7v8h-7zM190 596h8v7h-8zM220 596h8v7h-8zM235 596h7v7h-7zM778 596h8v7h-8zM205 603h8v7h-8zM272 610h8v8h-8zM302 610h7v8h-7zM540 610h8v8h-8zM615 610h7v8h-7zM778 610h8v8h-8zM317 618h7v7h-7zM406 625h8v8h-8zM548 625h7v8h-7zM280 633h7v7h-7zM369 640h7v8h-7zM473 640h8v8h-8zM510 655h8v7h-8zM250 662h7v8h-7zM615 662h7v8h-7zM540 685h8v7h-8zM689 685h8v7h-8zM704 685h7v7h-7zM838 692h7v8h-7zM466 700h7v7h-7zM347 707h7v8h-7zM510 707h8v8h-8zM533 707h7v8h-7zM123 729h8v8h-8zM228 729h14v8h-14zM250 729h7v8h-7zM287 729h8v8h-8zM496 729h7v8h-7zM503 737h7v7h-7zM153 744h8v8h-8zM190 744h8v8h-8zM317 744h7v8h-7zM466 744h7v8h-7zM533 744h7v8h-7zM644 744h8v8h-8zM786 744h7v8h-7zM317 752h7v7h-7zM436 752h7v7h-7zM473 752h8v7h-8zM592 752h8v7h-8zM592 767h8v7h-8zM644 767h8v7h-8zM362 774h7v7h-7zM577 781h8v8h-8z"/><path fill="#11afd7" d="M183 16h7v7h-7zM496 16h7v7h-7zM518 16h15v7h-15zM749 16h7v7h-7zM845 16h8v7h-8zM183 23h7v7h-7zM295 23h7v7h-7zM711 23h8v7h-8zM548 30h7v8h-7zM830 30h8v8h-8zM860 30h8v8h-8zM183 38h7v7h-7zM577 38h8v7h-8zM711 38h8v7h-8zM771 38h7v7h-7zM585 45h7v8h-7zM711 45h15v8h-15zM734 45h7v8h-7zM563 53h7v7h-7zM711 53h8v7h-8zM741 53h8v7h-8zM778 75h8v7h-8zM600 82h7v8h-7zM734 82h15v8h-15zM108 90h15v7h-15zM131 90h7v7h-7zM488 90h8v7h-8zM764 90h7v7h-7zM332 105h7v7h-7zM548 105h7v7h-7zM771 105h7v7h-7zM503 112h7v8h-7zM749 112h7v8h-7zM771 112h7v8h-7zM503 120h7v7h-7zM749 120h7v7h-7zM295 127h7v8h-7zM652 135h7v7h-7zM778 135h8v7h-8zM488 142h8v7h-8zM778 142h8v7h-8zM302 149h7v8h-7zM414 149h7v8h-7zM429 149h7v8h-7zM443 149h8v8h-8zM540 149h15v8h-15zM540 172h8v7h-8zM749 172h7v7h-7zM295 194h7v7h-7zM116 201h7v8h-7zM220 201h8v8h-8zM287 201h8v8h-8zM347 201h7v8h-7zM563 201h7v8h-7zM719 201h7v8h-7zM242 209h8v7h-8zM548 209h7v7h-7zM778 216h8v8h-8zM644 224h8v7h-8zM525 231h8v8h-8zM198 239h7v7h-7zM421 239h8v7h-8zM778 239h8v7h-8zM778 246h8v8h-8zM295 254h7v7h-7zM830 254h8v7h-8zM607 276h8v7h-8zM682 298h7v8h-7zM242 320h8v8h-8zM332 328h7v7h-7zM667 328h7v7h-7zM793 328h8v7h-8zM845 328h8v7h-8zM868 328h15v7h-15zM242 335h8v8h-8zM682 335h7v8h-7zM242 350h8v8h-8zM555 380h8v7h-8zM183 395h7v7h-7zM235 395h7v7h-7zM711 395h8v7h-8zM108 402h8v8h-8zM205 410h15v7h-15zM108 425h8v7h-8zM108 432h8v7h-8zM324 432h8v7h-8zM242 447h8v7h-8zM265 447h7v7h-7zM123 454h8v8h-8zM198 454h7v8h-7zM242 454h8v8h-8zM302 454h7v8h-7zM473 462h8v7h-8zM146 469h7v8h-7zM295 469h7v8h-7zM131 484h7v7h-7zM138 491h8v8h-8zM175 506h8v8h-8zM369 514h7v7h-7zM317 551h7v7h-7zM228 558h7v8h-7zM421 573h8v8h-8zM391 588h8v8h-8zM429 588h7v8h-7zM116 618h7v7h-7zM131 618h22v7h-22zM488 618h8v7h-8zM138 625h8v8h-8zM295 625h7v8h-7zM138 640h8v8h-8zM175 640h8v8h-8zM146 648h7v7h-7zM175 648h8v7h-8zM108 655h8v7h-8zM205 655h15v7h-15zM265 655h7v7h-7zM183 670h7v7h-7zM131 677h7v8h-7zM198 677h15v8h-15zM168 685h7v7h-7zM228 685h14v7h-14zM309 685h8v7h-8zM332 685h15v7h-15zM421 700h8v7h-8zM123 737h8v7h-8zM347 737h7v7h-7zM108 752h8v7h-8zM421 752h8v7h-8zM123 767h8v7h-8zM421 774h8v7h-8zM421 781h8v8h-8z"/><path fill="#33c19d" d="M190 16h8v7h-8zM429 16h7v7h-7zM473 16h8v7h-8zM324 23h8v7h-8zM719 30h7v8h-7zM481 38h7v7h-7zM697 38h7v7h-7zM823 38h7v7h-7zM369 45h7v8h-7zM399 45h15v8h-15zM466 45h7v8h-7zM726 45h8v8h-8zM838 45h7v8h-7zM198 53h7v7h-7zM429 53h7v7h-7zM674 53h8v7h-8zM726 53h8v7h-8zM756 53h8v7h-8zM309 60h8v8h-8zM391 60h8v8h-8zM652 60h7v8h-7zM764 60h7v8h-7zM845 68h8v7h-8zM295 75h7v7h-7zM771 75h7v7h-7zM183 82h7v8h-7zM451 82h7v8h-7zM175 90h8v7h-8zM242 90h8v7h-8zM376 90h8v7h-8zM838 90h7v7h-7zM108 97h8v8h-8zM242 97h8v8h-8zM332 97h7v8h-7zM793 97h8v8h-8zM860 97h15v8h-15zM146 105h7v7h-7zM711 105h8v7h-8zM734 105h7v7h-7zM711 120h8v7h-8zM838 120h15v7h-15zM734 135h15v7h-15zM682 142h7v7h-7zM183 149h15v8h-15zM719 149h7v8h-7zM332 157h7v7h-7zM860 157h8v7h-8zM332 164h7v8h-7zM749 164h7v8h-7zM845 164h8v8h-8zM860 164h8v8h-8zM637 179h7v8h-7zM771 179h7v8h-7zM860 179h8v8h-8zM734 187h22v7h-22zM168 201h7v8h-7zM771 209h7v7h-7zM838 209h7v7h-7zM153 216h8v8h-8zM369 216h7v8h-7zM577 216h8v8h-8zM659 216h8v8h-8zM868 216h7v8h-7zM116 231h7v8h-7zM190 239h8v7h-8zM250 239h15v7h-15zM458 239h8v7h-8zM458 246h8v8h-8zM421 254h8v7h-8zM533 268h7v8h-7zM749 268h7v8h-7zM138 276h8v7h-8zM309 276h8v7h-8zM630 276h7v7h-7zM183 283h7v8h-7zM153 298h8v8h-8zM659 298h8v8h-8zM711 298h8v8h-8zM138 306h8v7h-8zM860 306h8v7h-8zM138 313h8v7h-8zM347 328h7v7h-7zM108 335h8v8h-8zM146 335h7v8h-7zM637 343h7v7h-7zM175 358h8v7h-8zM615 358h7v7h-7zM332 365h15v7h-15zM138 372h8v8h-8zM644 372h8v8h-8zM108 380h8v7h-8zM131 387h7v8h-7zM682 395h7v7h-7zM362 439h7v8h-7zM309 484h8v7h-8zM451 521h7v8h-7zM764 529h7v7h-7zM369 536h7v8h-7zM272 544h8v7h-8zM436 544h7v7h-7zM466 551h7v7h-7zM764 551h7v7h-7zM793 551h8v7h-8zM823 551h7v7h-7zM853 551h7v7h-7zM153 558h8v8h-8zM309 566h8v7h-8zM391 566h8v7h-8zM146 581h7v7h-7zM235 588h7v8h-7zM488 588h8v8h-8zM131 603h7v7h-7zM198 618h7v7h-7zM213 618h7v7h-7zM391 618h8v7h-8zM123 625h8v8h-8zM242 625h8v8h-8zM138 633h15v7h-15zM198 640h7v8h-7zM228 640h7v8h-7zM280 640h7v8h-7zM228 648h7v7h-7zM280 648h7v7h-7zM257 655h8v7h-8zM280 655h7v7h-7zM362 655h7v7h-7zM146 662h7v8h-7zM153 670h8v7h-8zM622 670h8v7h-8zM644 670h8v7h-8zM168 677h7v8h-7zM272 677h8v8h-8zM302 677h7v8h-7zM190 700h8v7h-8zM644 700h8v7h-8zM868 722h7v7h-7zM131 729h7v8h-7zM644 729h8v8h-8zM138 744h8v8h-8zM183 744h7v8h-7zM213 744h7v8h-7zM302 744h7v8h-7zM161 752h7v7h-7zM213 752h7v7h-7zM257 752h8v7h-8zM644 759h8v8h-8zM190 767h8v7h-8zM250 767h15v7h-15zM272 767h8v7h-8zM399 767h7v7h-7zM190 774h8v7h-8zM309 774h8v7h-8zM816 774h7v7h-7z"/><path fill="#38c498" d="M198 16h7v7h-7zM384 16h7v7h-7zM406 16h8v7h-8zM525 23h8v7h-8zM674 23h8v7h-8zM391 30h8v8h-8zM533 30h15v8h-15zM577 30h15v8h-15zM659 30h8v8h-8zM793 30h8v8h-8zM838 30h7v8h-7zM406 38h8v7h-8zM466 38h7v7h-7zM496 38h7v7h-7zM674 38h8v7h-8zM429 45h7v8h-7zM496 45h7v8h-7zM570 45h15v8h-15zM674 45h8v8h-8zM399 53h7v7h-7zM421 53h8v7h-8zM317 60h7v8h-7zM384 60h7v8h-7zM682 60h7v8h-7zM793 60h15v8h-15zM295 68h7v7h-7zM503 68h7v7h-7zM711 68h8v7h-8zM830 68h8v7h-8zM875 68h8v7h-8zM503 75h7v7h-7zM682 75h7v7h-7zM518 82h7v8h-7zM592 82h8v8h-8zM228 90h7v7h-7zM250 90h7v7h-7zM272 90h8v7h-8zM362 90h7v7h-7zM429 90h7v7h-7zM667 90h7v7h-7zM682 90h7v7h-7zM309 97h15v8h-15zM347 97h7v8h-7zM503 97h7v8h-7zM652 97h7v8h-7zM108 105h8v7h-8zM317 105h7v7h-7zM451 105h7v7h-7zM838 105h7v7h-7zM466 112h7v8h-7zM689 112h8v8h-8zM719 112h7v8h-7zM756 112h8v8h-8zM793 112h8v8h-8zM324 120h8v7h-8zM466 120h7v7h-7zM793 120h8v7h-8zM563 127h14v8h-14zM659 127h15v8h-15zM711 127h8v8h-8zM801 127h7v8h-7zM838 127h7v8h-7zM183 135h7v7h-7zM622 135h8v7h-8zM667 135h7v7h-7zM711 135h8v7h-8zM786 135h7v7h-7zM845 135h8v7h-8zM324 142h8v7h-8zM458 142h8v7h-8zM510 142h8v7h-8zM600 142h7v7h-7zM667 142h7v7h-7zM183 157h7v7h-7zM577 157h15v7h-15zM741 157h8v7h-8zM786 157h7v7h-7zM540 164h8v8h-8zM622 164h8v8h-8zM711 164h8v8h-8zM734 164h15v8h-15zM771 164h7v8h-7zM674 172h8v7h-8zM689 172h15v7h-15zM726 172h8v7h-8zM183 179h7v8h-7zM332 179h7v8h-7zM324 187h8v7h-8zM406 187h8v7h-8zM719 187h7v7h-7zM801 187h7v7h-7zM711 194h8v7h-8zM786 194h7v7h-7zM161 201h7v8h-7zM451 209h7v7h-7zM466 209h7v7h-7zM481 209h7v7h-7zM533 209h7v7h-7zM585 209h7v7h-7zM682 209h7v7h-7zM786 209h7v7h-7zM190 216h8v8h-8zM466 216h7v8h-7zM481 216h7v8h-7zM570 216h7v8h-7zM704 216h15v8h-15zM793 216h15v8h-15zM875 216h8v8h-8zM153 224h8v7h-8zM190 224h15v7h-15zM332 224h7v7h-7zM503 224h7v7h-7zM213 231h7v8h-7zM235 231h7v8h-7zM280 231h7v8h-7zM272 239h8v7h-8zM317 239h7v7h-7zM376 239h15v7h-15zM473 239h8v7h-8zM719 239h7v7h-7zM682 246h7v8h-7zM786 246h15v8h-15zM845 246h8v8h-8zM190 254h8v7h-8zM585 254h7v7h-7zM711 254h8v7h-8zM838 254h7v7h-7zM183 268h7v8h-7zM682 268h7v8h-7zM711 276h8v7h-8zM741 276h15v7h-15zM778 276h15v7h-15zM332 283h7v8h-7zM108 291h8v7h-8zM153 291h8v7h-8zM332 291h7v7h-7zM451 291h7v7h-7zM577 291h15v7h-15zM793 291h8v7h-8zM123 298h8v8h-8zM451 298h7v8h-7zM466 298h7v8h-7zM481 298h7v8h-7zM563 298h7v8h-7zM146 306h7v7h-7zM533 306h7v7h-7zM577 306h8v7h-8zM734 306h15v7h-15zM838 306h7v7h-7zM108 313h8v7h-8zM131 313h7v7h-7zM280 313h7v7h-7zM510 313h8v7h-8zM749 313h7v7h-7zM682 320h7v8h-7zM719 320h7v8h-7zM146 328h7v7h-7zM525 328h8v7h-8zM138 335h8v8h-8zM183 335h7v8h-7zM689 335h8v8h-8zM548 343h7v7h-7zM615 343h7v7h-7zM741 343h15v7h-15zM816 343h7v7h-7zM830 343h8v7h-8zM860 343h8v7h-8zM503 350h15v8h-15zM198 358h7v7h-7zM302 358h7v7h-7zM384 358h15v7h-15zM637 358h7v7h-7zM652 358h7v7h-7zM749 358h7v7h-7zM845 358h8v7h-8zM235 365h7v7h-7zM131 372h7v8h-7zM205 372h15v8h-15zM302 372h15v8h-15zM391 372h8v8h-8zM332 380h7v7h-7zM652 380h7v7h-7zM302 387h15v8h-15zM391 387h8v8h-8zM667 395h7v7h-7zM726 395h8v7h-8zM131 402h15v8h-15zM161 410h14v7h-14zM190 410h8v7h-8zM317 410h7v7h-7zM443 410h8v7h-8zM607 410h8v7h-8zM778 410h8v7h-8zM235 417h7v8h-7zM406 417h8v8h-8zM443 417h8v8h-8zM711 417h8v8h-8zM830 417h8v8h-8zM175 425h8v7h-8zM637 425h7v7h-7zM116 432h7v7h-7zM421 432h8v7h-8zM741 432h8v7h-8zM830 432h8v7h-8zM875 432h8v7h-8zM123 439h8v8h-8zM302 439h7v8h-7zM399 439h7v8h-7zM123 447h8v7h-8zM257 447h8v7h-8zM875 447h8v7h-8zM436 454h7v8h-7zM220 469h8v8h-8zM391 469h8v8h-8zM138 477h8v7h-8zM220 477h8v7h-8zM309 477h8v7h-8zM637 477h7v7h-7zM123 484h8v7h-8zM138 484h8v7h-8zM250 484h7v7h-7zM384 484h7v7h-7zM399 484h7v7h-7zM123 491h8v8h-8zM250 491h7v8h-7zM302 491h7v8h-7zM347 491h7v8h-7zM384 491h7v8h-7zM175 499h8v7h-8zM644 499h8v7h-8zM235 506h7v8h-7zM711 506h8v8h-8zM771 506h22v8h-22zM845 506h8v8h-8zM503 514h7v7h-7zM637 514h7v7h-7zM436 521h7v8h-7zM764 521h7v8h-7zM875 521h8v8h-8zM228 529h7v7h-7zM257 529h8v7h-8zM704 536h7v8h-7zM764 536h7v8h-7zM793 536h15v8h-15zM451 544h7v7h-7zM518 544h7v7h-7zM570 544h7v7h-7zM607 544h8v7h-8zM704 544h7v7h-7zM749 544h7v7h-7zM793 544h8v7h-8zM592 551h8v7h-8zM704 551h7v7h-7zM756 551h8v7h-8zM778 551h8v7h-8zM190 558h8v8h-8zM451 558h7v8h-7zM473 558h8v8h-8zM123 566h8v7h-8zM220 566h8v7h-8zM183 573h7v8h-7zM220 573h22v8h-22zM488 573h8v8h-8zM116 581h7v7h-7zM131 581h15v7h-15zM265 581h7v7h-7zM153 588h8v8h-8zM168 588h7v8h-7zM183 588h7v8h-7zM302 588h7v8h-7zM339 588h8v8h-8zM362 588h7v8h-7zM414 588h7v8h-7zM205 596h8v7h-8zM265 596h7v7h-7zM429 596h7v7h-7zM265 603h7v7h-7zM309 610h8v8h-8zM630 610h22v8h-22zM161 618h7v7h-7zM220 618h15v7h-15zM257 618h8v7h-8zM287 618h8v7h-8zM309 618h8v7h-8zM347 618h7v7h-7zM369 618h7v7h-7zM510 618h8v7h-8zM600 618h7v7h-7zM205 625h8v8h-8zM280 625h7v8h-7zM332 625h7v8h-7zM414 625h7v8h-7zM265 633h7v7h-7zM488 633h8v7h-8zM257 640h8v8h-8zM399 640h7v8h-7zM250 648h15v7h-15zM369 648h7v7h-7zM399 648h7v7h-7zM436 648h7v7h-7zM525 648h8v7h-8zM369 655h7v7h-7zM406 655h8v7h-8zM436 655h7v7h-7zM451 655h7v7h-7zM637 655h7v7h-7zM205 662h8v8h-8zM644 662h8v8h-8zM615 670h7v7h-7zM630 670h7v7h-7zM257 677h8v8h-8zM600 677h7v8h-7zM369 685h7v7h-7zM503 685h7v7h-7zM600 685h7v7h-7zM644 685h8v7h-8zM816 685h7v7h-7zM228 692h7v8h-7zM250 692h7v8h-7zM287 692h8v8h-8zM302 692h7v8h-7zM339 692h8v8h-8zM369 692h7v8h-7zM600 692h7v8h-7zM123 700h8v7h-8zM153 700h8v7h-8zM205 700h15v7h-15zM309 700h8v7h-8zM339 700h8v7h-8zM384 700h7v7h-7zM630 700h14v7h-14zM153 707h8v8h-8zM220 707h8v8h-8zM280 707h7v8h-7zM309 707h8v8h-8zM630 707h7v8h-7zM436 722h7v7h-7zM778 722h8v7h-8zM161 737h7v7h-7zM436 737h7v7h-7zM510 737h8v7h-8zM525 737h8v7h-8zM860 737h15v7h-15zM123 744h8v8h-8zM198 744h7v8h-7zM220 744h8v8h-8zM347 744h7v8h-7zM399 744h7v8h-7zM228 752h7v7h-7zM339 752h8v7h-8zM451 752h7v7h-7zM600 752h7v7h-7zM436 767h7v7h-7zM830 767h8v7h-8zM830 774h8v7h-8zM161 781h7v8h-7zM309 781h8v8h-8zM525 781h8v8h-8zM540 781h8v8h-8zM615 781h7v8h-7z"/><path fill="#a8c040" d="M205 16h8v7h-8zM302 16h7v7h-7zM161 23h14v7h-14zM228 23h7v7h-7zM302 23h7v7h-7zM317 23h7v7h-7zM347 23h15v7h-15zM436 23h7v7h-7zM228 30h7v8h-7zM436 30h7v8h-7zM161 38h7v7h-7zM228 38h7v7h-7zM354 38h8v7h-8zM161 45h7v8h-7zM354 45h8v8h-8zM257 60h8v8h-8zM436 60h7v8h-7zM116 68h7v7h-7zM131 68h15v7h-15zM280 68h7v7h-7zM309 68h8v7h-8zM369 68h15v7h-15zM689 68h15v7h-15zM116 75h7v7h-7zM280 75h7v7h-7zM347 75h7v7h-7zM369 75h7v7h-7zM570 75h7v7h-7zM689 75h8v7h-8zM726 75h8v7h-8zM287 82h8v8h-8zM302 82h7v8h-7zM339 82h8v8h-8zM190 90h8v7h-8zM183 97h7v8h-7zM287 97h8v8h-8zM376 97h8v8h-8zM473 97h8v8h-8zM265 105h7v7h-7zM280 105h15v7h-15zM108 112h8v8h-8zM280 112h7v8h-7zM473 112h8v8h-8zM280 120h7v7h-7zM339 120h15v7h-15zM391 120h8v7h-8zM406 120h8v7h-8zM309 127h8v8h-8zM376 127h15v8h-15zM116 135h22v7h-22zM354 135h8v7h-8zM384 135h15v7h-15zM309 142h8v7h-8zM376 142h8v7h-8zM317 157h7v7h-7zM339 157h15v7h-15zM153 164h8v8h-8zM317 164h7v8h-7zM384 164h7v8h-7zM198 172h7v7h-7zM339 172h15v7h-15zM287 179h8v8h-8zM161 187h14v7h-14zM198 187h22v7h-22zM175 194h8v7h-8zM190 194h15v7h-15zM272 194h8v7h-8zM354 194h8v7h-8zM421 194h8v7h-8zM108 209h15v7h-15zM175 209h8v7h-8zM406 209h8v7h-8zM161 216h7v8h-7zM220 216h8v8h-8zM235 216h7v8h-7zM362 216h7v8h-7zM376 216h23v8h-23zM116 224h7v7h-7zM250 224h15v7h-15zM689 224h15v7h-15zM175 246h8v8h-8zM213 246h7v8h-7zM250 246h7v8h-7zM265 246h7v8h-7zM399 246h15v8h-15zM473 246h8v8h-8zM116 254h7v7h-7zM168 254h7v7h-7zM213 254h7v7h-7zM250 254h7v7h-7zM265 254h7v7h-7zM116 261h7v7h-7zM131 261h15v7h-15zM228 261h7v7h-7zM287 261h8v7h-8zM391 261h23v7h-23zM451 261h7v7h-7zM697 261h7v7h-7zM823 261h7v7h-7zM309 268h8v8h-8zM369 268h7v8h-7zM161 276h14v7h-14zM362 276h7v7h-7zM376 276h8v7h-8zM473 276h8v7h-8zM161 283h7v8h-7zM190 283h8v8h-8zM220 283h8v8h-8zM235 283h7v8h-7zM309 283h8v8h-8zM369 283h7v8h-7zM220 291h15v7h-15zM257 291h8v7h-8zM309 291h8v7h-8zM213 298h7v8h-7zM228 298h7v8h-7zM309 298h8v8h-8zM354 298h8v8h-8zM339 306h8v7h-8zM354 306h8v7h-8zM473 306h8v7h-8zM213 313h7v7h-7zM302 313h7v7h-7zM339 313h8v7h-8zM354 313h8v7h-8zM704 313h7v7h-7zM287 328h8v7h-8zM429 328h7v7h-7zM421 335h8v8h-8zM116 343h15v7h-15zM153 343h8v7h-8zM496 343h7v7h-7zM659 343h8v7h-8zM674 343h8v7h-8zM354 358h8v7h-8zM518 365h7v7h-7zM563 365h14v7h-14zM615 365h7v7h-7zM667 365h7v7h-7zM682 365h7v7h-7zM503 372h7v8h-7zM563 372h7v8h-7zM667 372h7v8h-7zM190 380h8v7h-8zM205 380h8v7h-8zM339 380h8v7h-8zM369 380h7v7h-7zM399 380h7v7h-7zM622 380h8v7h-8zM689 380h8v7h-8zM659 387h8v8h-8zM436 402h7v8h-7zM503 402h22v8h-22zM466 410h7v7h-7zM496 410h7v7h-7zM496 417h7v8h-7zM689 417h15v8h-15zM458 425h8v7h-8zM496 425h7v7h-7zM652 425h7v7h-7zM734 425h7v7h-7zM793 425h8v7h-8zM592 432h8v7h-8zM659 447h8v7h-8zM637 454h7v8h-7zM458 469h15v8h-15zM771 469h7v8h-7zM168 477h7v7h-7zM458 477h8v7h-8zM786 477h7v7h-7zM801 477h7v7h-7zM838 477h7v7h-7zM823 484h7v7h-7zM838 484h7v7h-7zM741 491h8v8h-8zM525 499h8v7h-8zM615 499h7v7h-7zM667 499h30v7h-30zM719 499h7v7h-7zM630 506h7v8h-7zM652 506h7v8h-7zM458 521h8v8h-8zM592 521h8v8h-8zM473 529h8v7h-8zM674 529h8v7h-8zM704 529h7v7h-7zM600 536h7v8h-7zM637 536h7v8h-7zM548 544h7v7h-7zM630 544h7v7h-7zM644 544h8v7h-8zM637 551h7v7h-7zM518 558h7v8h-7zM600 558h7v8h-7zM801 558h7v8h-7zM436 566h7v7h-7zM481 566h7v7h-7zM540 566h8v7h-8zM771 566h15v7h-15zM458 573h15v8h-15zM592 573h8v8h-8zM436 581h7v7h-7zM592 581h8v7h-8zM622 581h8v7h-8zM771 581h7v7h-7zM458 588h8v8h-8zM592 588h8v8h-8zM778 588h15v8h-15zM838 588h15v8h-15zM161 596h14v7h-14zM317 596h7v7h-7zM473 596h8v7h-8zM510 596h8v7h-8zM592 596h8v7h-8zM801 596h7v7h-7zM838 596h7v7h-7zM161 603h7v7h-7zM317 603h7v7h-7zM354 603h8v7h-8zM510 603h8v7h-8zM838 603h7v7h-7zM406 610h8v8h-8zM622 610h8v8h-8zM801 610h7v8h-7zM801 618h7v7h-7zM592 625h8v8h-8zM786 625h7v8h-7zM838 625h7v8h-7zM168 633h7v7h-7zM838 633h7v7h-7zM875 633h8v7h-8zM518 640h7v8h-7zM838 640h7v8h-7zM868 640h7v8h-7zM585 648h7v7h-7zM845 648h8v7h-8zM868 648h7v7h-7zM845 655h8v7h-8zM860 655h8v7h-8zM838 662h15v8h-15zM563 677h7v8h-7zM659 677h8v8h-8zM674 677h8v8h-8zM838 677h7v8h-7zM659 685h8v7h-8zM682 685h7v7h-7zM868 685h7v7h-7zM570 692h7v8h-7zM682 692h7v8h-7zM719 692h7v8h-7zM518 700h7v7h-7zM868 700h7v7h-7zM570 707h7v8h-7zM652 707h7v8h-7zM689 707h8v8h-8zM704 707h15v8h-15zM868 707h7v8h-7zM354 729h8v8h-8zM577 729h8v8h-8zM570 744h15v8h-15zM682 744h22v8h-22zM719 744h22v8h-22zM756 744h8v8h-8zM771 744h7v8h-7zM682 752h7v7h-7zM741 752h23v7h-23zM749 767h7v7h-7zM734 774h15v7h-15zM778 774h8v7h-8zM793 774h15v7h-15zM726 781h8v8h-8z"/><path fill="#7dc85b" d="M213 16h7v7h-7zM220 23h8v7h-8zM198 30h7v8h-7zM198 60h7v8h-7zM406 60h8v8h-8zM429 60h7v8h-7zM704 75h7v7h-7zM123 105h8v7h-8zM153 105h8v7h-8zM108 120h8v7h-8zM116 127h7v8h-7zM592 127h8v8h-8zM592 142h8v7h-8zM339 179h8v8h-8zM376 187h8v7h-8zM354 209h8v7h-8zM406 224h8v7h-8zM704 224h7v7h-7zM272 246h8v8h-8zM510 246h8v8h-8zM399 254h15v7h-15zM518 254h7v7h-7zM302 261h7v7h-7zM421 268h8v8h-8zM756 268h8v8h-8zM429 276h7v7h-7zM659 276h8v7h-8zM280 283h7v8h-7zM697 291h7v7h-7zM347 306h7v7h-7zM153 313h8v7h-8zM317 313h7v7h-7zM347 313h7v7h-7zM362 328h7v7h-7zM153 335h8v8h-8zM369 335h7v8h-7zM503 343h7v7h-7zM756 343h8v7h-8zM704 358h7v7h-7zM473 365h8v7h-8zM458 380h8v7h-8zM704 380h7v7h-7zM689 387h8v8h-8zM436 410h7v7h-7zM339 417h8v8h-8zM347 425h7v7h-7zM689 447h15v7h-15zM600 454h7v8h-7zM734 454h7v8h-7zM637 469h7v8h-7zM860 469h8v8h-8zM771 491h7v8h-7zM830 491h8v8h-8zM220 499h8v7h-8zM235 499h7v7h-7zM548 506h7v8h-7zM801 521h7v8h-7zM563 544h7v7h-7zM734 544h7v7h-7zM793 558h8v8h-8zM845 558h8v8h-8zM369 566h7v7h-7zM481 596h7v7h-7zM540 596h8v7h-8zM868 596h15v7h-15zM384 603h7v7h-7zM540 603h8v7h-8zM860 603h8v7h-8zM168 610h7v8h-7zM317 610h7v8h-7zM451 610h7v8h-7zM473 610h8v8h-8zM548 640h7v8h-7zM637 640h7v8h-7zM838 648h7v7h-7zM362 662h7v8h-7zM436 662h7v8h-7zM585 677h7v8h-7zM845 692h8v8h-8zM652 700h7v7h-7zM615 707h7v8h-7zM868 729h15v8h-15zM585 737h7v7h-7zM838 737h7v7h-7zM741 744h8v8h-8zM830 744h8v8h-8zM860 744h8v8h-8zM652 752h7v7h-7zM786 752h7v7h-7zM563 767h7v7h-7zM697 767h7v7h-7zM838 767h7v7h-7zM689 774h8v7h-8zM823 774h7v7h-7zM689 781h8v8h-8zM823 781h7v8h-7z"/><path fill="#9cc64c" d="M228 16h7v7h-7zM235 23h7v7h-7zM280 23h7v7h-7zM414 23h15v7h-15zM220 30h8v8h-8zM339 30h15v8h-15zM473 30h8v8h-8zM302 38h7v7h-7zM347 38h7v7h-7zM436 38h7v7h-7zM384 53h7v7h-7zM272 60h8v8h-8zM496 60h7v8h-7zM347 68h7v7h-7zM406 68h8v7h-8zM518 68h7v7h-7zM391 75h8v7h-8zM451 75h7v7h-7zM496 75h7v7h-7zM518 75h7v7h-7zM674 75h8v7h-8zM198 82h7v8h-7zM436 82h7v8h-7zM362 97h14v8h-14zM399 97h15v8h-15zM697 97h7v8h-7zM175 105h8v7h-8zM376 105h8v7h-8zM436 105h15v7h-15zM473 105h8v7h-8zM525 112h8v8h-8zM421 120h8v7h-8zM123 127h8v8h-8zM280 127h7v8h-7zM354 127h8v8h-8zM399 127h7v8h-7zM414 127h7v8h-7zM436 127h7v8h-7zM823 127h7v8h-7zM108 135h8v7h-8zM317 135h7v7h-7zM339 135h8v7h-8zM406 135h8v7h-8zM116 142h7v7h-7zM384 142h7v7h-7zM399 142h7v7h-7zM481 142h7v7h-7zM496 142h7v7h-7zM384 157h7v7h-7zM406 157h8v7h-8zM443 157h8v7h-8zM473 157h8v7h-8zM369 164h7v8h-7zM406 164h8v8h-8zM697 164h7v8h-7zM726 164h8v8h-8zM823 164h7v8h-7zM272 172h8v7h-8zM153 179h8v8h-8zM265 179h7v8h-7zM317 179h7v8h-7zM362 179h7v8h-7zM414 179h7v8h-7zM496 179h7v8h-7zM689 179h8v8h-8zM116 187h7v7h-7zM220 187h8v7h-8zM309 187h15v7h-15zM362 187h7v7h-7zM436 187h15v7h-15zM570 187h7v7h-7zM317 194h7v7h-7zM406 194h8v7h-8zM131 209h7v7h-7zM339 209h15v7h-15zM280 216h7v8h-7zM399 216h7v8h-7zM414 216h7v8h-7zM228 224h7v7h-7zM272 224h23v7h-23zM339 224h8v7h-8zM123 246h8v8h-8zM228 246h7v8h-7zM302 246h7v8h-7zM317 246h7v8h-7zM414 246h7v8h-7zM123 254h15v7h-15zM161 254h7v7h-7zM302 254h7v7h-7zM436 254h7v7h-7zM220 261h8v7h-8zM496 261h7v7h-7zM659 261h8v7h-8zM689 261h8v7h-8zM190 268h8v8h-8zM272 268h15v8h-15zM689 268h15v8h-15zM190 276h8v7h-8zM257 276h8v7h-8zM399 276h7v7h-7zM451 276h15v7h-15zM481 276h7v7h-7zM592 276h8v7h-8zM689 276h15v7h-15zM726 276h8v7h-8zM198 283h7v8h-7zM592 283h8v8h-8zM786 283h7v8h-7zM868 283h7v8h-7zM146 291h7v7h-7zM235 291h7v7h-7zM250 291h7v7h-7zM726 291h8v7h-8zM168 298h7v8h-7zM190 306h8v7h-8zM220 306h8v7h-8zM235 306h7v7h-7zM309 306h8v7h-8zM369 306h7v7h-7zM518 306h7v7h-7zM674 306h8v7h-8zM756 306h8v7h-8zM161 313h7v7h-7zM190 313h8v7h-8zM228 313h7v7h-7zM250 313h15v7h-15zM287 313h8v7h-8zM116 320h7v8h-7zM220 320h8v8h-8zM272 320h8v8h-8zM309 320h8v8h-8zM339 320h8v8h-8zM116 328h7v7h-7zM213 328h7v7h-7zM131 343h7v7h-7zM175 343h8v7h-8zM198 343h7v7h-7zM220 343h8v7h-8zM280 343h7v7h-7zM347 343h7v7h-7zM458 343h8v7h-8zM563 343h7v7h-7zM726 343h8v7h-8zM198 350h7v8h-7zM250 350h7v8h-7zM280 350h7v8h-7zM570 350h7v8h-7zM168 358h7v7h-7zM369 358h7v7h-7zM496 358h7v7h-7zM585 358h7v7h-7zM659 358h8v7h-8zM369 365h7v7h-7zM436 365h7v7h-7zM496 365h7v7h-7zM585 365h22v7h-22zM637 365h7v7h-7zM659 365h8v7h-8zM585 372h7v8h-7zM622 372h8v8h-8zM756 372h8v8h-8zM123 380h8v7h-8zM198 380h7v7h-7zM250 380h7v7h-7zM503 380h15v7h-15zM585 380h15v7h-15zM674 380h8v7h-8zM235 387h7v8h-7zM369 387h7v8h-7zM488 387h8v8h-8zM503 387h7v8h-7zM585 387h7v8h-7zM726 387h8v8h-8zM481 395h7v7h-7zM153 402h8v8h-8zM168 402h7v8h-7zM235 402h7v8h-7zM272 402h8v8h-8zM354 402h8v8h-8zM451 402h15v8h-15zM533 402h7v8h-7zM473 410h15v7h-15zM682 410h22v7h-22zM838 410h7v7h-7zM473 417h8v8h-8zM540 417h15v8h-15zM622 417h8v8h-8zM674 417h15v8h-15zM838 417h7v8h-7zM161 425h14v7h-14zM399 425h7v7h-7zM540 425h8v7h-8zM801 425h7v7h-7zM845 425h8v7h-8zM205 432h8v7h-8zM577 432h15v7h-15zM622 432h8v7h-8zM659 432h8v7h-8zM726 432h8v7h-8zM496 439h7v8h-7zM540 439h8v8h-8zM592 439h15v8h-15zM622 439h8v8h-8zM659 439h8v8h-8zM726 439h8v8h-8zM510 447h15v7h-15zM533 447h7v7h-7zM570 447h7v7h-7zM585 447h7v7h-7zM600 447h7v7h-7zM667 447h7v7h-7zM510 454h8v8h-8zM667 454h7v8h-7zM682 454h7v8h-7zM436 469h7v8h-7zM600 469h7v8h-7zM711 469h8v8h-8zM280 477h7v7h-7zM443 477h8v7h-8zM540 477h8v7h-8zM600 477h7v7h-7zM615 477h7v7h-7zM652 477h7v7h-7zM741 477h15v7h-15zM525 484h8v7h-8zM622 484h8v7h-8zM741 484h8v7h-8zM786 484h15v7h-15zM451 491h37v8h-37zM525 491h8v8h-8zM540 491h8v8h-8zM630 491h7v8h-7zM749 491h7v8h-7zM801 491h7v8h-7zM860 491h8v8h-8zM369 499h15v7h-15zM458 499h8v7h-8zM473 499h8v7h-8zM533 499h7v7h-7zM756 499h8v7h-8zM823 499h7v7h-7zM458 506h8v8h-8zM533 506h15v8h-15zM563 506h14v8h-14zM719 506h7v8h-7zM734 506h7v8h-7zM570 521h7v8h-7zM838 521h7v8h-7zM466 529h7v7h-7zM510 529h8v7h-8zM525 529h15v7h-15zM577 529h8v7h-8zM719 529h7v7h-7zM749 529h15v7h-15zM868 529h7v7h-7zM585 536h7v8h-7zM458 544h8v7h-8zM667 544h7v7h-7zM570 558h7v8h-7zM741 558h15v8h-15zM354 566h8v7h-8zM451 566h15v7h-15zM525 566h15v7h-15zM868 566h7v7h-7zM540 573h15v8h-15zM637 573h7v8h-7zM868 573h7v8h-7zM168 581h7v7h-7zM399 581h7v7h-7zM473 581h8v7h-8zM510 581h8v7h-8zM838 581h7v7h-7zM503 588h15v8h-15zM548 588h7v8h-7zM868 588h7v8h-7zM272 596h8v7h-8zM354 596h22v7h-22zM503 596h7v7h-7zM190 603h8v7h-8zM257 603h8v7h-8zM362 603h14v7h-14zM503 603h7v7h-7zM563 618h7v7h-7zM600 625h7v8h-7zM622 625h8v8h-8zM257 633h8v7h-8zM369 633h7v7h-7zM384 633h7v7h-7zM436 633h7v7h-7zM481 633h7v7h-7zM525 633h15v7h-15zM778 633h8v7h-8zM600 640h7v8h-7zM860 640h8v8h-8zM875 640h8v8h-8zM570 648h15v7h-15zM652 648h7v7h-7zM860 648h8v7h-8zM570 655h7v7h-7zM585 655h7v7h-7zM622 655h8v7h-8zM652 655h7v7h-7zM838 655h7v7h-7zM868 655h15v7h-15zM399 662h7v8h-7zM466 662h7v8h-7zM592 662h8v8h-8zM622 662h8v8h-8zM726 685h8v7h-8zM376 692h8v8h-8zM577 692h8v8h-8zM577 700h8v7h-8zM518 707h7v8h-7zM585 707h7v8h-7zM220 729h8v8h-8zM257 729h8v8h-8zM592 729h8v8h-8zM503 744h15v8h-15zM615 744h7v8h-7zM674 744h8v8h-8zM749 744h7v8h-7zM518 752h7v7h-7zM860 752h8v7h-8zM585 767h7v7h-7zM734 767h15v7h-15zM845 767h8v7h-8zM376 774h8v7h-8zM622 774h8v7h-8zM659 774h15v7h-15zM682 774h7v7h-7zM749 774h7v7h-7zM734 781h7v8h-7zM749 781h7v8h-7z"/><path fill="#2692eb" d="M242 16h8v7h-8zM548 16h7v7h-7zM242 23h8v7h-8zM778 23h8v7h-8zM555 30h8v8h-8zM548 38h7v7h-7zM764 38h7v7h-7zM778 53h8v7h-8zM644 75h8v7h-8zM555 82h8v8h-8zM295 90h7v7h-7zM711 90h8v7h-8zM741 90h8v7h-8zM555 105h8v7h-8zM764 120h7v7h-7zM555 127h8v8h-8zM555 142h8v7h-8zM108 149h15v8h-15zM555 157h8v7h-8zM555 164h8v8h-8zM764 172h7v7h-7zM488 194h8v7h-8zM183 201h7v8h-7zM421 201h8v8h-8zM853 201h7v8h-7zM630 209h7v7h-7zM577 231h8v8h-8zM622 231h8v8h-8zM823 231h7v8h-7zM868 231h7v8h-7zM607 239h8v7h-8zM853 239h7v7h-7zM630 246h7v8h-7zM853 246h7v8h-7zM644 254h8v7h-8zM853 261h7v7h-7zM607 268h8v8h-8zM853 268h7v8h-7zM607 291h8v7h-8zM630 291h7v7h-7zM764 291h7v7h-7zM778 320h8v8h-8zM295 328h7v7h-7zM600 328h7v7h-7zM615 328h7v7h-7zM637 328h7v7h-7zM600 335h7v8h-7zM615 335h7v8h-7zM652 335h7v8h-7zM287 395h8v7h-8zM853 395h7v7h-7zM555 417h8v8h-8zM808 417h8v8h-8zM808 425h8v7h-8zM108 454h8v8h-8zM131 454h7v8h-7zM123 462h8v7h-8zM175 462h8v7h-8zM198 462h7v7h-7zM220 462h8v7h-8zM235 462h7v7h-7zM250 462h15v7h-15zM510 462h8v7h-8zM585 462h7v7h-7zM615 462h7v7h-7zM682 462h7v7h-7zM711 462h15v7h-15zM845 462h8v7h-8zM324 484h8v7h-8zM555 491h8v8h-8zM808 491h8v8h-8zM421 506h15v8h-15zM332 514h7v7h-7zM362 514h7v7h-7zM384 514h7v7h-7zM764 514h7v7h-7zM853 514h7v7h-7zM868 514h7v7h-7zM421 521h15v8h-15zM555 521h8v8h-8zM324 529h8v7h-8zM302 536h7v8h-7zM339 536h8v8h-8zM384 536h7v8h-7zM421 544h8v7h-8zM168 551h7v7h-7zM347 551h7v7h-7zM429 558h7v8h-7zM555 588h8v8h-8zM183 618h7v7h-7zM555 618h8v7h-8zM555 625h8v8h-8zM183 648h7v7h-7zM131 670h7v7h-7zM213 670h7v7h-7zM265 670h7v7h-7zM384 670h7v7h-7zM607 670h8v7h-8zM116 685h7v7h-7zM146 685h7v7h-7zM414 685h7v7h-7zM510 715h15v7h-15zM585 715h7v7h-7zM324 729h8v8h-8zM555 752h8v7h-8zM295 759h7v8h-7zM332 759h15v8h-15zM354 759h15v8h-15zM488 759h8v8h-8zM607 759h8v8h-8zM324 774h8v7h-8zM607 774h8v7h-8z"/><path fill="#b7c036" d="M257 16h15v7h-15zM339 23h8v7h-8zM235 30h7v8h-7zM213 38h7v7h-7zM250 38h7v7h-7zM280 45h7v8h-7zM339 45h8v8h-8zM257 53h8v7h-8zM347 53h15v7h-15zM481 60h7v8h-7zM287 68h8v7h-8zM362 68h7v7h-7zM399 68h7v7h-7zM466 68h7v7h-7zM443 75h8v7h-8zM466 75h7v7h-7zM481 75h7v7h-7zM190 82h8v8h-8zM205 82h15v8h-15zM175 97h8v8h-8zM272 97h8v8h-8zM414 97h7v8h-7zM272 105h8v7h-8zM414 105h7v7h-7zM429 105h7v7h-7zM175 112h8v8h-8zM414 112h7v8h-7zM131 120h7v7h-7zM175 120h8v7h-8zM473 135h8v7h-8zM123 142h8v7h-8zM414 142h7v7h-7zM429 142h7v7h-7zM473 142h8v7h-8zM131 157h7v7h-7zM429 157h7v7h-7zM108 164h8v8h-8zM146 164h7v8h-7zM473 164h8v8h-8zM108 172h8v7h-8zM190 179h15v8h-15zM138 187h8v7h-8zM161 194h7v7h-7zM399 194h7v7h-7zM414 224h7v7h-7zM116 246h7v8h-7zM138 246h8v8h-8zM146 254h7v7h-7zM146 261h7v7h-7zM376 261h8v7h-8zM161 268h7v8h-7zM414 268h7v8h-7zM429 268h7v8h-7zM436 276h7v7h-7zM466 276h7v7h-7zM354 283h8v8h-8zM674 283h8v8h-8zM689 283h15v8h-15zM726 283h8v8h-8zM414 291h7v7h-7zM473 291h8v7h-8zM443 298h8v8h-8zM161 306h7v7h-7zM287 306h8v7h-8zM443 306h8v7h-8zM414 313h7v7h-7zM429 313h7v7h-7zM190 320h23v8h-23zM235 320h7v8h-7zM317 320h7v8h-7zM362 320h7v8h-7zM384 320h7v8h-7zM406 320h8v8h-8zM198 335h7v8h-7zM235 335h7v8h-7zM250 335h7v8h-7zM362 335h7v8h-7zM406 335h8v8h-8zM369 343h7v7h-7zM451 343h7v7h-7zM518 343h7v7h-7zM168 350h7v8h-7zM391 350h15v8h-15zM436 358h7v7h-7zM481 365h7v7h-7zM161 372h14v8h-14zM369 372h7v8h-7zM228 380h14v7h-14zM257 380h8v7h-8zM384 380h7v7h-7zM563 380h7v7h-7zM697 380h7v7h-7zM153 387h8v8h-8zM168 387h7v8h-7zM458 387h8v8h-8zM510 387h8v8h-8zM563 387h7v8h-7zM659 410h15v7h-15zM481 417h7v8h-7zM436 425h7v7h-7zM622 425h8v7h-8zM473 469h15v8h-15zM592 469h8v8h-8zM786 469h22v8h-22zM592 477h8v7h-8zM592 484h8v7h-8zM793 491h8v8h-8zM563 499h22v7h-22zM697 499h7v7h-7zM518 529h7v7h-7zM801 529h7v7h-7zM503 566h7v7h-7zM801 566h7v7h-7zM503 573h7v8h-7zM771 573h7v8h-7zM838 573h15v8h-15zM376 581h8v7h-8zM875 581h8v7h-8zM771 588h7v8h-7zM793 588h8v8h-8zM376 596h8v7h-8zM823 596h7v7h-7zM376 603h8v7h-8zM473 603h8v7h-8zM592 603h8v7h-8zM771 603h7v7h-7zM875 603h8v7h-8zM823 610h7v8h-7zM875 610h8v8h-8zM875 618h8v7h-8zM741 625h8v8h-8zM823 625h7v8h-7zM376 633h8v7h-8zM771 633h7v7h-7zM868 633h7v7h-7zM778 640h8v8h-8zM823 640h7v8h-7zM719 648h7v7h-7zM875 648h8v7h-8zM823 662h7v8h-7zM667 677h7v8h-7zM682 677h7v8h-7zM697 677h7v8h-7zM726 677h8v8h-8zM793 677h15v8h-15zM734 685h7v7h-7zM860 685h8v7h-8zM563 692h7v8h-7zM823 692h7v8h-7zM868 692h15v8h-15zM563 700h7v7h-7zM585 700h7v7h-7zM682 700h7v7h-7zM771 700h7v7h-7zM823 700h7v7h-7zM563 707h7v8h-7zM622 707h8v8h-8zM659 707h8v8h-8zM771 707h7v8h-7zM689 729h8v8h-8zM704 729h7v8h-7zM719 729h7v8h-7zM734 729h7v8h-7zM756 729h8v8h-8zM786 729h15v8h-15zM845 729h8v8h-8zM667 744h7v8h-7zM845 744h8v8h-8zM667 752h7v7h-7zM823 752h7v7h-7zM838 752h7v7h-7zM778 767h8v7h-8zM726 774h8v7h-8zM786 774h7v7h-7zM674 781h8v8h-8zM697 781h22v8h-22zM741 781h8v8h-8zM786 781h7v8h-7z"/><path fill="#53c87d" d="M272 16h8v7h-8zM414 16h15v7h-15zM190 23h8v7h-8zM190 38h15v7h-15zM190 45h15v8h-15zM220 53h8v7h-8zM280 53h7v7h-7zM518 60h7v8h-7zM257 90h8v7h-8zM116 97h7v8h-7zM131 97h15v8h-15zM131 105h15v7h-15zM570 105h7v7h-7zM585 105h7v7h-7zM518 112h7v8h-7zM525 120h8v7h-8zM146 127h7v8h-7zM838 157h7v7h-7zM183 164h7v8h-7zM108 179h8v8h-8zM563 179h7v8h-7zM146 187h7v7h-7zM525 194h8v7h-8zM756 209h8v7h-8zM667 261h7v7h-7zM823 313h7v7h-7zM108 320h8v8h-8zM108 328h8v7h-8zM466 335h7v8h-7zM525 335h8v8h-8zM563 350h7v8h-7zM592 358h8v7h-8zM823 365h15v7h-15zM845 365h8v7h-8zM429 372h7v8h-7zM153 425h8v7h-8zM205 425h8v7h-8zM644 425h8v7h-8zM213 432h7v7h-7zM287 432h8v7h-8zM429 432h7v7h-7zM682 432h7v7h-7zM830 447h8v7h-8zM845 447h8v7h-8zM577 454h8v8h-8zM272 469h8v8h-8zM443 469h8v8h-8zM198 477h7v7h-7zM548 484h7v7h-7zM749 484h7v7h-7zM198 491h7v8h-7zM451 499h7v7h-7zM786 499h7v7h-7zM518 551h7v7h-7zM354 573h8v8h-8zM525 588h8v8h-8zM875 588h8v8h-8zM577 655h8v7h-8zM302 662h7v8h-7zM592 692h8v8h-8zM406 729h8v8h-8zM458 729h8v8h-8zM458 737h8v7h-8zM540 737h8v7h-8zM845 737h8v7h-8zM250 744h7v8h-7zM458 752h8v7h-8zM540 752h8v7h-8zM830 752h8v7h-8zM682 781h7v8h-7z"/><path fill="#e6b836" d="M287 16h8v7h-8zM257 45h8v8h-8zM250 68h7v7h-7zM354 68h8v7h-8zM354 75h8v7h-8zM436 75h7v7h-7zM250 97h15v8h-15zM250 105h15v7h-15zM287 112h8v8h-8zM287 120h8v7h-8zM429 120h7v7h-7zM161 157h7v7h-7zM190 157h15v7h-15zM138 164h8v8h-8zM190 164h15v8h-15zM309 172h8v7h-8zM108 194h8v7h-8zM205 194h15v7h-15zM265 216h7v8h-7zM354 246h8v8h-8zM161 261h14v7h-14zM339 261h8v7h-8zM362 261h7v7h-7zM473 261h8v7h-8zM354 268h8v8h-8zM384 268h15v8h-15zM429 283h7v8h-7zM443 283h8v8h-8zM362 291h7v7h-7zM362 298h7v8h-7zM399 298h7v8h-7zM391 306h8v7h-8zM213 335h7v8h-7zM376 335h8v8h-8zM168 343h7v7h-7zM481 343h7v7h-7zM376 350h8v8h-8zM466 365h7v7h-7zM458 372h8v8h-8zM354 380h8v7h-8zM436 387h7v8h-7zM510 410h8v7h-8zM503 417h7v8h-7zM548 447h7v7h-7zM540 454h8v8h-8zM674 469h8v8h-8zM592 491h8v8h-8zM585 499h7v7h-7zM741 566h8v7h-8zM563 581h7v7h-7zM793 581h8v7h-8zM749 633h15v7h-15zM823 633h7v7h-7zM756 640h8v8h-8zM659 648h8v7h-8zM786 648h7v7h-7zM726 655h8v7h-8zM726 662h15v8h-15zM741 692h8v8h-8zM674 700h8v7h-8zM726 729h8v8h-8z"/><path fill="#1ba5e0" d="M295 16h7v7h-7zM242 45h8v8h-8zM324 60h8v8h-8zM607 60h8v8h-8zM630 68h7v7h-7zM503 82h7v8h-7zM265 90h7v7h-7zM607 105h8v7h-8zM138 149h8v8h-8zM525 149h8v8h-8zM577 149h8v8h-8zM183 172h7v7h-7zM108 201h8v8h-8zM153 231h8v8h-8zM756 231h8v8h-8zM175 410h8v7h-8zM242 432h8v7h-8zM242 484h8v7h-8zM153 514h8v7h-8zM198 514h7v7h-7zM161 536h7v8h-7zM324 662h8v8h-8z"/><path fill="#90c850" d="M309 16h8v7h-8zM339 16h8v7h-8zM280 30h7v8h-7zM309 30h8v8h-8zM213 45h7v8h-7zM250 45h7v8h-7zM153 53h8v7h-8zM250 53h7v7h-7zM287 53h8v7h-8zM146 60h7v8h-7zM220 60h8v8h-8zM250 60h7v8h-7zM369 60h7v8h-7zM451 60h15v8h-15zM570 60h7v8h-7zM384 68h7v7h-7zM674 68h8v7h-8zM823 68h7v7h-7zM823 75h7v7h-7zM220 82h15v8h-15zM414 82h7v8h-7zM466 97h7v8h-7zM138 120h8v7h-8zM153 127h8v8h-8zM175 127h8v8h-8zM362 127h7v8h-7zM429 127h7v8h-7zM443 127h8v8h-8zM473 127h8v8h-8zM175 135h8v7h-8zM518 135h15v7h-15zM525 142h8v7h-8zM138 157h23v7h-23zM518 164h15v8h-15zM674 164h8v8h-8zM354 179h8v8h-8zM376 179h8v8h-8zM399 179h7v8h-7zM436 179h15v8h-15zM473 179h8v8h-8zM123 187h8v7h-8zM399 187h7v7h-7zM146 194h7v7h-7zM473 194h8v7h-8zM726 194h8v7h-8zM108 216h8v8h-8zM123 216h8v8h-8zM339 239h8v7h-8zM354 239h8v7h-8zM108 246h8v8h-8zM332 246h7v8h-7zM481 246h7v8h-7zM473 254h8v7h-8zM272 261h8v7h-8zM332 261h7v7h-7zM518 261h7v7h-7zM756 261h8v7h-8zM220 268h8v8h-8zM518 268h7v8h-7zM726 268h8v8h-8zM153 276h8v7h-8zM510 276h8v7h-8zM622 276h8v7h-8zM838 276h7v7h-7zM272 283h8v8h-8zM570 283h7v8h-7zM711 283h8v8h-8zM161 291h7v7h-7zM429 298h7v8h-7zM272 306h15v7h-15zM823 306h7v7h-7zM674 313h8v7h-8zM175 320h8v8h-8zM220 335h8v8h-8zM391 335h8v8h-8zM272 343h8v7h-8zM525 343h8v7h-8zM220 350h8v8h-8zM272 350h8v8h-8zM525 350h8v8h-8zM153 358h8v7h-8zM518 358h7v7h-7zM563 358h7v7h-7zM726 358h8v7h-8zM153 365h8v7h-8zM838 365h7v7h-7zM190 372h8v8h-8zM697 372h7v8h-7zM726 372h8v8h-8zM823 372h7v8h-7zM220 380h8v7h-8zM272 380h8v7h-8zM287 380h8v7h-8zM347 380h7v7h-7zM339 387h8v8h-8zM697 387h7v8h-7zM756 387h8v8h-8zM734 410h7v7h-7zM845 410h8v7h-8zM369 417h7v8h-7zM615 417h7v8h-7zM652 417h7v8h-7zM719 417h7v8h-7zM845 417h8v8h-8zM228 425h7v7h-7zM257 425h8v7h-8zM354 425h15v7h-15zM451 425h7v7h-7zM786 425h7v7h-7zM228 432h14v7h-14zM257 432h8v7h-8zM436 432h15v7h-15zM697 432h7v7h-7zM756 439h8v8h-8zM630 447h7v7h-7zM734 447h15v7h-15zM451 469h7v8h-7zM868 469h15v8h-15zM153 477h8v7h-8zM376 477h8v7h-8zM637 491h7v8h-7zM793 499h8v7h-8zM659 506h8v8h-8zM838 506h7v8h-7zM510 521h8v8h-8zM734 521h7v8h-7zM749 521h7v8h-7zM369 529h7v7h-7zM793 529h8v7h-8zM838 529h7v7h-7zM540 536h8v8h-8zM585 544h7v7h-7zM510 558h8v8h-8zM600 566h7v7h-7zM875 566h8v7h-8zM875 573h8v8h-8zM161 581h7v7h-7zM257 581h8v7h-8zM406 581h8v7h-8zM466 603h7v7h-7zM481 603h7v7h-7zM525 603h8v7h-8zM376 618h8v7h-8zM510 625h8v8h-8zM287 633h8v7h-8zM362 633h7v7h-7zM451 633h7v7h-7zM466 633h7v7h-7zM503 640h7v8h-7zM540 640h8v8h-8zM615 640h7v8h-7zM540 648h8v7h-8zM615 655h7v7h-7zM354 662h8v8h-8zM481 662h7v8h-7zM533 662h7v8h-7zM778 662h8v8h-8zM756 685h8v7h-8zM518 692h7v8h-7zM860 692h8v8h-8zM592 700h8v7h-8zM622 700h8v7h-8zM860 700h8v7h-8zM161 729h14v8h-14zM399 729h7v8h-7zM466 729h7v8h-7zM369 744h7v8h-7zM458 744h8v8h-8zM600 744h7v8h-7zM622 744h8v8h-8zM503 752h15v7h-15zM786 767h15v7h-15zM563 774h7v7h-7zM563 781h7v8h-7zM659 781h15v8h-15z"/><path fill="#13b8c5" d="M324 16h8v7h-8zM451 23h7v7h-7zM510 23h8v7h-8zM577 23h8v7h-8zM458 30h8v8h-8zM503 30h7v8h-7zM667 30h7v8h-7zM734 30h15v8h-15zM875 30h8v8h-8zM518 38h7v7h-7zM563 38h7v7h-7zM592 38h8v7h-8zM540 45h8v8h-8zM741 45h8v8h-8zM533 53h7v7h-7zM570 53h15v7h-15zM749 60h7v8h-7zM778 60h8v8h-8zM845 60h8v8h-8zM860 60h8v8h-8zM548 68h7v7h-7zM607 68h15v7h-15zM637 68h7v7h-7zM548 75h7v7h-7zM637 75h7v7h-7zM585 82h7v8h-7zM622 82h8v8h-8zM838 82h7v8h-7zM868 82h15v8h-15zM607 90h8v7h-8zM637 90h7v7h-7zM756 90h8v7h-8zM823 90h7v7h-7zM637 97h7v8h-7zM749 97h7v8h-7zM786 97h7v8h-7zM503 105h7v7h-7zM637 105h7v7h-7zM741 105h15v7h-15zM786 105h7v7h-7zM875 105h8v7h-8zM682 112h7v8h-7zM741 112h8v8h-8zM682 120h7v7h-7zM741 120h8v7h-8zM875 120h8v7h-8zM324 127h8v8h-8zM615 127h7v8h-7zM771 127h7v8h-7zM816 127h7v8h-7zM600 135h7v7h-7zM741 142h8v7h-8zM786 142h7v7h-7zM354 149h8v8h-8zM376 149h8v8h-8zM466 149h7v8h-7zM563 149h14v8h-14zM592 149h8v8h-8zM845 149h8v8h-8zM652 157h7v7h-7zM816 157h7v7h-7zM548 164h7v8h-7zM778 164h8v8h-8zM816 164h7v8h-7zM481 172h7v7h-7zM563 172h7v7h-7zM659 172h8v7h-8zM615 187h7v7h-7zM637 187h7v7h-7zM652 187h7v7h-7zM778 187h8v7h-8zM332 194h7v7h-7zM734 194h7v7h-7zM749 194h7v7h-7zM830 194h8v7h-8zM332 201h7v8h-7zM585 216h7v8h-7zM734 216h7v8h-7zM771 216h7v8h-7zM108 231h8v8h-8zM220 231h8v8h-8zM376 231h8v8h-8zM436 231h7v8h-7zM287 239h15v7h-15zM577 239h8v7h-8zM592 239h8v7h-8zM682 239h7v7h-7zM704 239h7v7h-7zM734 239h7v7h-7zM786 239h15v7h-15zM838 239h15v7h-15zM816 246h7v8h-7zM540 254h8v7h-8zM845 254h8v7h-8zM242 261h8v7h-8zM860 261h8v7h-8zM860 268h8v8h-8zM242 283h8v8h-8zM324 283h8v8h-8zM778 283h8v8h-8zM682 291h7v7h-7zM771 291h7v7h-7zM816 291h7v7h-7zM577 298h8v8h-8zM749 298h7v8h-7zM793 298h8v8h-8zM548 306h7v7h-7zM830 306h8v7h-8zM540 313h8v7h-8zM540 320h8v8h-8zM741 320h8v8h-8zM786 320h7v8h-7zM801 320h7v8h-7zM667 335h7v8h-7zM324 343h8v7h-8zM778 343h8v7h-8zM540 350h15v8h-15zM116 358h7v7h-7zM830 358h8v7h-8zM123 365h8v7h-8zM242 372h8v8h-8zM265 387h7v8h-7zM533 395h7v7h-7zM592 395h15v7h-15zM644 395h8v7h-8zM823 395h7v7h-7zM838 395h7v7h-7zM637 402h15v8h-15zM771 402h15v8h-15zM860 402h8v8h-8zM123 410h8v7h-8zM198 410h7v7h-7zM116 417h7v8h-7zM131 425h7v7h-7zM644 432h8v7h-8zM146 439h7v8h-7zM488 439h8v8h-8zM607 439h8v8h-8zM138 447h8v7h-8zM347 447h7v7h-7zM406 447h15v7h-15zM443 447h8v7h-8zM161 454h14v8h-14zM257 454h8v8h-8zM399 454h7v8h-7zM443 454h8v8h-8zM853 454h22v8h-22zM131 469h7v8h-7zM242 469h8v8h-8zM265 469h7v8h-7zM146 477h7v7h-7zM242 477h8v7h-8zM116 484h7v7h-7zM146 484h7v7h-7zM332 484h7v7h-7zM391 484h8v7h-8zM175 491h8v8h-8zM309 491h8v8h-8zM853 491h7v8h-7zM131 499h7v7h-7zM242 499h8v7h-8zM332 499h7v7h-7zM488 499h8v7h-8zM228 506h7v8h-7zM488 506h8v8h-8zM764 506h7v8h-7zM816 506h7v8h-7zM875 506h8v8h-8zM161 514h7v7h-7zM183 514h7v7h-7zM533 514h7v7h-7zM644 514h8v7h-8zM682 514h7v7h-7zM161 521h7v8h-7zM220 521h8v8h-8zM280 521h7v8h-7zM175 529h8v7h-8zM161 544h14v7h-14zM183 544h22v7h-22zM280 544h7v7h-7zM496 544h7v7h-7zM711 544h8v7h-8zM488 551h15v7h-15zM525 551h8v7h-8zM607 551h8v7h-8zM250 558h7v8h-7zM280 558h7v8h-7zM816 558h7v8h-7zM265 566h7v7h-7zM123 573h8v8h-8zM429 573h7v8h-7zM205 588h15v8h-15zM332 588h7v8h-7zM384 588h7v8h-7zM607 588h8v8h-8zM332 610h7v8h-7zM637 618h7v7h-7zM123 640h8v8h-8zM287 640h8v8h-8zM309 640h8v8h-8zM332 640h7v8h-7zM123 648h8v7h-8zM138 648h8v7h-8zM198 648h22v7h-22zM235 648h7v7h-7zM414 648h7v7h-7zM153 655h8v7h-8zM190 655h15v7h-15zM287 655h8v7h-8zM391 655h8v7h-8zM183 662h7v8h-7zM600 670h7v7h-7zM220 677h8v8h-8zM309 677h8v8h-8zM384 677h7v8h-7zM496 677h7v8h-7zM153 685h8v7h-8zM257 685h8v7h-8zM280 685h7v7h-7zM376 685h8v7h-8zM436 685h7v7h-7zM496 685h7v7h-7zM190 692h15v8h-15zM235 692h7v8h-7zM332 692h7v8h-7zM414 692h7v8h-7zM332 700h7v7h-7zM391 700h8v7h-8zM414 707h7v8h-7zM220 722h8v7h-8zM250 722h15v7h-15zM339 722h8v7h-8zM384 722h7v7h-7zM600 722h7v7h-7zM652 722h7v7h-7zM183 729h7v8h-7zM488 729h8v8h-8zM287 737h8v7h-8zM399 737h7v7h-7zM451 737h7v7h-7zM853 737h7v7h-7zM175 744h8v8h-8zM332 744h7v8h-7zM488 744h8v8h-8zM853 744h7v8h-7zM153 752h8v7h-8zM242 752h8v7h-8zM332 752h7v7h-7zM347 752h7v7h-7zM853 752h7v7h-7zM548 759h7v8h-7zM585 759h7v8h-7zM830 759h23v8h-23zM153 767h8v7h-8zM354 767h15v7h-15zM496 767h7v7h-7zM548 767h7v7h-7zM175 774h8v7h-8zM548 774h7v7h-7zM123 781h8v8h-8zM175 781h8v8h-8zM198 781h7v8h-7zM213 781h7v8h-7zM600 781h7v8h-7z"/><path fill="#10b8cb" d="M332 16h7v7h-7zM563 16h14v7h-14zM592 16h8v7h-8zM659 16h8v7h-8zM689 16h15v7h-15zM756 16h8v7h-8zM786 16h15v7h-15zM868 16h7v7h-7zM533 23h15v7h-15zM592 23h8v7h-8zM659 23h8v7h-8zM719 23h7v7h-7zM756 23h8v7h-8zM771 23h7v7h-7zM786 23h7v7h-7zM838 23h15v7h-15zM324 30h8v8h-8zM600 30h7v8h-7zM682 30h7v8h-7zM801 30h7v8h-7zM451 38h7v7h-7zM525 38h8v7h-8zM659 38h8v7h-8zM756 38h8v7h-8zM838 38h15v7h-15zM875 38h8v7h-8zM801 45h7v8h-7zM845 45h8v8h-8zM592 53h8v7h-8zM659 53h8v7h-8zM771 53h7v7h-7zM868 53h7v7h-7zM615 60h7v8h-7zM324 68h8v7h-8zM488 68h8v7h-8zM816 68h7v7h-7zM324 75h8v7h-8zM488 75h8v7h-8zM324 82h8v8h-8zM667 82h7v8h-7zM711 82h8v8h-8zM749 82h7v8h-7zM771 82h7v8h-7zM786 82h7v8h-7zM496 90h7v7h-7zM548 90h7v7h-7zM704 90h7v7h-7zM734 90h7v7h-7zM749 90h7v7h-7zM845 90h8v7h-8zM860 90h15v7h-15zM764 97h7v8h-7zM778 97h8v8h-8zM875 97h8v8h-8zM458 112h8v8h-8zM510 112h8v8h-8zM540 112h8v8h-8zM622 112h8v8h-8zM667 112h7v8h-7zM830 112h8v8h-8zM860 112h8v8h-8zM458 120h8v7h-8zM540 120h8v7h-8zM622 120h8v7h-8zM771 120h7v7h-7zM548 127h7v8h-7zM652 127h7v8h-7zM764 127h7v8h-7zM778 127h8v8h-8zM458 135h8v7h-8zM548 135h7v7h-7zM637 135h7v7h-7zM816 135h7v7h-7zM295 142h7v7h-7zM548 142h7v7h-7zM615 142h7v7h-7zM637 142h7v7h-7zM652 142h7v7h-7zM749 142h7v7h-7zM816 142h7v7h-7zM339 149h8v8h-8zM399 149h7v8h-7zM503 149h7v8h-7zM652 149h15v8h-15zM674 149h8v8h-8zM704 149h7v8h-7zM726 149h8v8h-8zM756 149h8v8h-8zM600 157h7v7h-7zM615 157h7v7h-7zM637 157h7v7h-7zM764 157h7v7h-7zM600 164h7v8h-7zM652 164h7v8h-7zM451 172h7v7h-7zM585 172h7v7h-7zM682 172h7v7h-7zM719 172h7v7h-7zM734 172h15v7h-15zM771 172h7v7h-7zM786 172h7v7h-7zM838 172h7v7h-7zM868 172h7v7h-7zM295 179h7v8h-7zM488 179h8v8h-8zM816 179h7v8h-7zM295 187h7v7h-7zM600 187h7v7h-7zM816 187h7v7h-7zM510 194h8v7h-8zM540 194h8v7h-8zM741 194h8v7h-8zM235 201h7v8h-7zM272 201h15v8h-15zM362 201h7v8h-7zM466 201h7v8h-7zM570 201h7v8h-7zM689 201h15v8h-15zM726 201h8v8h-8zM816 201h7v8h-7zM778 209h8v7h-8zM816 209h7v7h-7zM622 216h8v8h-8zM816 216h7v8h-7zM860 216h8v8h-8zM488 224h8v7h-8zM637 224h7v7h-7zM764 224h7v7h-7zM123 231h8v8h-8zM161 231h22v8h-22zM391 231h15v8h-15zM414 231h7v8h-7zM443 231h8v8h-8zM108 239h8v7h-8zM429 239h7v7h-7zM503 239h7v7h-7zM525 239h15v7h-15zM615 239h7v7h-7zM711 239h8v7h-8zM771 239h7v7h-7zM242 246h8v8h-8zM488 246h8v8h-8zM548 246h7v8h-7zM600 246h7v8h-7zM615 246h7v8h-7zM860 246h8v8h-8zM458 254h8v7h-8zM503 254h7v7h-7zM600 254h7v7h-7zM778 254h8v7h-8zM860 254h8v7h-8zM615 261h7v7h-7zM652 261h7v7h-7zM295 268h7v8h-7zM548 268h7v8h-7zM600 268h7v8h-7zM778 268h8v8h-8zM853 276h7v7h-7zM458 283h8v8h-8zM488 283h8v8h-8zM600 283h7v8h-7zM510 291h8v7h-8zM540 291h8v7h-8zM600 291h7v7h-7zM830 291h15v7h-15zM860 291h8v7h-8zM324 298h8v8h-8zM510 298h8v8h-8zM734 298h15v8h-15zM771 298h7v8h-7zM801 298h7v8h-7zM242 306h8v7h-8zM324 306h8v7h-8zM488 306h8v7h-8zM637 306h7v7h-7zM652 306h7v7h-7zM488 313h8v7h-8zM600 313h7v7h-7zM816 313h7v7h-7zM838 313h7v7h-7zM860 313h8v7h-8zM324 320h8v8h-8zM488 320h8v8h-8zM600 320h7v8h-7zM615 320h7v8h-7zM771 320h7v8h-7zM860 320h8v8h-8zM563 328h7v7h-7zM577 328h23v7h-23zM659 328h8v7h-8zM704 328h15v7h-15zM756 328h8v7h-8zM332 335h7v8h-7zM458 335h8v8h-8zM533 335h7v8h-7zM577 335h8v8h-8zM622 335h8v8h-8zM719 335h7v8h-7zM734 335h7v8h-7zM786 335h15v8h-15zM845 335h8v8h-8zM875 335h8v8h-8zM644 343h8v7h-8zM324 350h8v8h-8zM600 350h7v8h-7zM771 350h7v8h-7zM801 350h7v8h-7zM838 350h7v8h-7zM860 350h8v8h-8zM131 358h7v7h-7zM265 358h7v7h-7zM630 358h7v7h-7zM778 358h8v7h-8zM860 358h8v7h-8zM205 365h15v7h-15zM228 365h7v7h-7zM347 365h7v7h-7zM376 365h8v7h-8zM429 365h7v7h-7zM853 365h7v7h-7zM295 372h7v8h-7zM630 372h7v8h-7zM764 372h7v8h-7zM630 380h22v7h-22zM637 387h15v8h-15zM161 395h14v7h-14zM272 395h8v7h-8zM317 395h7v7h-7zM339 395h8v7h-8zM376 395h8v7h-8zM399 395h22v7h-22zM637 395h7v7h-7zM741 395h15v7h-15zM793 395h15v7h-15zM816 395h7v7h-7zM845 395h8v7h-8zM183 402h7v8h-7zM242 410h8v7h-8zM332 410h7v7h-7zM347 410h7v7h-7zM764 410h7v7h-7zM853 410h7v7h-7zM205 417h8v8h-8zM287 417h8v8h-8zM384 417h15v8h-15zM853 417h7v8h-7zM607 425h8v7h-8zM853 425h7v7h-7zM131 432h7v7h-7zM332 432h7v7h-7zM607 432h8v7h-8zM816 432h7v7h-7zM116 439h7v8h-7zM332 439h7v8h-7zM429 439h7v8h-7zM816 439h7v8h-7zM116 447h7v7h-7zM205 447h15v7h-15zM287 447h8v7h-8zM384 447h7v7h-7zM764 447h7v7h-7zM183 454h7v8h-7zM220 454h22v8h-22zM339 454h8v8h-8zM362 454h7v8h-7zM108 469h8v8h-8zM421 469h8v8h-8zM607 469h8v8h-8zM764 469h7v8h-7zM853 469h7v8h-7zM108 477h8v7h-8zM295 477h7v7h-7zM607 477h8v7h-8zM421 484h15v7h-15zM607 484h8v7h-8zM764 484h7v7h-7zM853 484h7v7h-7zM265 491h7v8h-7zM421 491h8v8h-8zM108 499h15v7h-15zM146 499h7v7h-7zM421 499h8v7h-8zM764 499h7v7h-7zM123 506h8v8h-8zM250 506h15v8h-15zM280 506h7v8h-7zM339 506h15v8h-15zM362 506h7v8h-7zM376 506h15v8h-15zM406 506h15v8h-15zM443 506h8v8h-8zM518 514h15v7h-15zM563 514h22v7h-22zM719 514h7v7h-7zM830 514h8v7h-8zM153 521h8v8h-8zM235 521h7v8h-7zM250 521h7v8h-7zM332 521h15v8h-15zM354 521h8v8h-8zM414 521h7v8h-7zM205 529h15v7h-15zM309 529h8v7h-8zM429 529h7v7h-7zM451 536h7v8h-7zM466 536h15v8h-15zM786 536h7v8h-7zM228 544h14v7h-14zM250 544h7v7h-7zM317 544h7v7h-7zM399 544h7v7h-7zM473 544h23v7h-23zM845 544h15v7h-15zM436 551h7v7h-7zM473 551h15v7h-15zM220 558h8v8h-8zM235 558h15v8h-15zM257 558h8v8h-8zM354 558h8v8h-8zM399 558h7v8h-7zM108 566h15v7h-15zM131 566h7v7h-7zM146 566h7v7h-7zM242 566h8v7h-8zM421 566h8v7h-8zM175 573h8v8h-8zM205 573h8v8h-8zM764 573h7v8h-7zM242 581h8v7h-8zM123 588h8v8h-8zM265 588h7v8h-7zM764 588h7v8h-7zM108 596h8v7h-8zM295 596h7v7h-7zM108 603h8v7h-8zM295 603h7v7h-7zM183 610h7v8h-7zM242 610h8v8h-8zM421 610h8v8h-8zM175 618h8v7h-8zM332 618h7v7h-7zM421 618h8v7h-8zM116 625h7v8h-7zM265 625h7v8h-7zM429 625h7v8h-7zM607 625h8v8h-8zM242 633h8v7h-8zM295 633h7v7h-7zM183 640h7v8h-7zM265 640h7v8h-7zM391 640h8v8h-8zM429 640h7v8h-7zM764 640h7v8h-7zM265 648h7v7h-7zM287 648h8v7h-8zM391 648h8v7h-8zM488 648h8v7h-8zM764 648h7v7h-7zM175 655h15v7h-15zM235 655h7v7h-7zM488 655h8v7h-8zM764 655h7v7h-7zM108 662h15v8h-15zM131 662h7v8h-7zM242 662h8v8h-8zM421 662h8v8h-8zM190 670h8v7h-8zM220 670h8v7h-8zM250 670h7v7h-7zM317 670h7v7h-7zM466 670h7v7h-7zM503 670h7v7h-7zM540 670h8v7h-8zM563 670h7v7h-7zM577 670h8v7h-8zM592 670h8v7h-8zM667 670h7v7h-7zM682 670h7v7h-7zM734 670h22v7h-22zM771 670h7v7h-7zM830 670h15v7h-15zM116 677h7v8h-7zM146 677h7v8h-7zM175 677h8v8h-8zM213 677h7v8h-7zM265 677h7v8h-7zM332 677h7v8h-7zM391 677h8v8h-8zM414 677h7v8h-7zM443 677h8v8h-8zM764 677h7v8h-7zM853 677h7v8h-7zM190 685h8v7h-8zM220 685h8v7h-8zM302 685h7v7h-7zM347 685h7v7h-7zM362 685h7v7h-7zM451 685h7v7h-7zM853 685h7v7h-7zM108 692h15v8h-15zM175 692h8v8h-8zM265 692h7v8h-7zM429 692h7v8h-7zM630 692h7v8h-7zM108 700h8v7h-8zM429 700h7v7h-7zM488 700h8v7h-8zM123 707h8v8h-8zM138 707h8v8h-8zM391 707h8v8h-8zM443 707h8v8h-8zM488 707h8v8h-8zM161 722h7v7h-7zM228 722h14v7h-14zM272 722h15v7h-15zM295 722h22v7h-22zM406 722h8v7h-8zM488 722h8v7h-8zM525 722h15v7h-15zM205 737h8v7h-8zM384 737h7v7h-7zM607 737h8v7h-8zM764 737h7v7h-7zM116 744h7v8h-7zM131 744h7v8h-7zM265 744h7v8h-7zM384 744h7v8h-7zM406 744h8v8h-8zM443 744h8v8h-8zM764 744h7v8h-7zM116 752h7v7h-7zM131 752h15v7h-15zM183 752h7v7h-7zM429 752h7v7h-7zM488 752h8v7h-8zM637 752h7v7h-7zM369 759h7v8h-7zM458 759h8v8h-8zM503 759h22v8h-22zM563 759h7v8h-7zM577 759h8v8h-8zM637 759h7v8h-7zM771 759h15v8h-15zM183 767h7v7h-7zM205 767h8v7h-8zM309 767h8v7h-8zM339 767h15v7h-15zM384 767h7v7h-7zM406 767h15v7h-15zM443 767h15v7h-15zM108 774h8v7h-8zM146 774h7v7h-7zM183 774h7v7h-7zM265 774h7v7h-7zM131 781h7v8h-7zM190 781h8v8h-8zM429 781h7v8h-7z"/><path fill="#83c858" d="M347 16h7v7h-7zM443 23h8v7h-8zM265 30h15v8h-15zM414 30h7v8h-7zM429 30h7v8h-7zM481 30h7v8h-7zM265 38h7v7h-7zM414 38h7v7h-7zM175 45h8v8h-8zM175 53h8v7h-8zM175 60h8v8h-8zM205 60h15v8h-15zM354 60h8v8h-8zM756 68h8v7h-8zM183 75h7v7h-7zM332 75h7v7h-7zM138 82h23v8h-23zM265 82h22v8h-22zM354 82h15v8h-15zM376 82h8v8h-8zM421 82h15v8h-15zM443 82h8v8h-8zM473 82h8v8h-8zM168 90h7v7h-7zM369 90h7v7h-7zM302 97h7v8h-7zM354 97h8v8h-8zM399 105h7v7h-7zM153 112h8v8h-8zM317 112h7v8h-7zM399 112h7v8h-7zM153 120h8v7h-8zM697 120h7v7h-7zM369 127h7v8h-7zM406 127h8v8h-8zM481 127h7v8h-7zM697 127h7v8h-7zM369 135h7v7h-7zM726 135h8v7h-8zM317 142h7v7h-7zM421 142h8v7h-8zM697 142h7v7h-7zM697 157h7v7h-7zM123 172h15v7h-15zM175 172h8v7h-8zM317 172h7v7h-7zM376 172h8v7h-8zM123 179h8v8h-8zM175 179h8v8h-8zM309 179h8v8h-8zM175 187h8v7h-8zM347 187h7v7h-7zM838 187h7v7h-7zM190 209h8v7h-8zM421 209h8v7h-8zM592 209h8v7h-8zM689 209h15v7h-15zM272 216h8v8h-8zM436 216h7v8h-7zM205 224h8v7h-8zM235 224h7v7h-7zM265 224h7v7h-7zM473 224h8v7h-8zM563 224h7v7h-7zM659 224h15v7h-15zM719 224h7v7h-7zM168 239h7v7h-7zM108 254h8v7h-8zM280 254h7v7h-7zM756 254h8v7h-8zM153 261h8v7h-8zM175 261h8v7h-8zM190 261h8v7h-8zM175 268h8v8h-8zM674 268h8v8h-8zM183 276h7v7h-7zM220 276h15v7h-15zM682 276h7v7h-7zM175 283h8v8h-8zM265 283h7v8h-7zM719 283h7v8h-7zM845 283h8v8h-8zM421 298h8v8h-8zM473 298h8v8h-8zM198 306h15v7h-15zM726 306h8v7h-8zM220 313h8v7h-8zM726 313h8v7h-8zM123 320h15v8h-15zM175 328h8v7h-8zM235 328h7v7h-7zM302 328h7v7h-7zM391 328h8v7h-8zM123 335h8v8h-8zM175 335h8v8h-8zM309 343h8v7h-8zM667 343h7v7h-7zM704 343h7v7h-7zM116 350h7v8h-7zM175 350h8v8h-8zM697 350h7v8h-7zM667 358h7v7h-7zM734 358h7v7h-7zM756 358h8v7h-8zM689 365h8v7h-8zM734 365h7v7h-7zM488 372h8v8h-8zM592 372h15v8h-15zM674 372h8v8h-8zM734 372h7v8h-7zM175 380h8v7h-8zM317 380h7v7h-7zM391 380h8v7h-8zM123 387h8v8h-8zM220 387h8v8h-8zM667 387h15v8h-15zM466 395h7v7h-7zM622 402h8v8h-8zM667 402h15v8h-15zM697 402h14v8h-14zM719 402h7v8h-7zM726 417h8v8h-8zM749 425h7v7h-7zM667 439h7v8h-7zM592 447h8v7h-8zM637 447h15v7h-15zM719 447h15v7h-15zM585 454h7v8h-7zM317 469h7v8h-7zM778 469h8v8h-8zM830 469h8v8h-8zM830 477h8v7h-8zM868 477h7v7h-7zM652 484h7v7h-7zM719 484h7v7h-7zM845 484h8v7h-8zM548 491h7v8h-7zM644 491h8v8h-8zM711 491h8v8h-8zM845 491h8v8h-8zM868 491h7v8h-7zM302 499h7v7h-7zM466 499h7v7h-7zM540 499h8v7h-8zM630 499h7v7h-7zM652 499h7v7h-7zM711 499h8v7h-8zM741 499h8v7h-8zM838 499h7v7h-7zM466 506h7v8h-7zM667 506h7v8h-7zM682 506h7v8h-7zM726 506h8v8h-8zM793 506h8v8h-8zM496 529h7v7h-7zM771 529h15v7h-15zM592 536h8v8h-8zM540 544h8v7h-8zM659 544h8v7h-8zM540 551h8v7h-8zM585 551h7v7h-7zM577 558h8v8h-8zM592 558h8v8h-8zM704 558h7v8h-7zM778 558h8v8h-8zM317 566h7v7h-7zM637 566h7v7h-7zM838 566h7v7h-7zM317 573h7v8h-7zM436 573h7v8h-7zM451 573h7v8h-7zM481 573h7v8h-7zM496 573h7v8h-7zM533 573h7v8h-7zM600 573h7v8h-7zM860 573h8v8h-8zM362 581h7v7h-7zM466 581h7v7h-7zM481 581h7v7h-7zM496 581h7v7h-7zM369 588h7v8h-7zM600 588h7v8h-7zM302 596h7v7h-7zM458 596h8v7h-8zM213 603h15v7h-15zM235 603h7v7h-7zM250 603h7v7h-7zM302 603h7v7h-7zM443 603h8v7h-8zM496 603h7v7h-7zM436 610h7v8h-7zM496 610h7v8h-7zM652 610h7v8h-7zM838 610h7v8h-7zM585 618h15v7h-15zM317 625h7v8h-7zM376 625h8v8h-8zM496 625h7v8h-7zM540 625h8v8h-8zM577 625h8v8h-8zM801 625h7v8h-7zM228 633h7v7h-7zM399 633h15v7h-15zM510 633h8v7h-8zM540 633h8v7h-8zM600 633h7v7h-7zM451 640h22v8h-22zM830 640h8v8h-8zM592 648h8v7h-8zM518 655h7v7h-7zM161 662h7v8h-7zM347 662h7v8h-7zM451 662h7v8h-7zM860 662h15v8h-15zM622 677h8v8h-8zM823 677h7v8h-7zM845 677h8v8h-8zM860 677h23v8h-23zM563 685h7v7h-7zM622 685h8v7h-8zM652 685h7v7h-7zM600 700h7v7h-7zM875 700h8v7h-8zM719 707h7v8h-7zM771 729h7v8h-7zM838 729h7v8h-7zM563 737h14v7h-14zM734 737h7v7h-7zM280 744h7v8h-7zM592 744h8v8h-8zM659 744h8v8h-8zM704 744h7v8h-7zM823 744h7v8h-7zM376 752h8v7h-8zM577 752h15v7h-15zM771 752h7v7h-7zM868 752h15v7h-15zM667 767h7v7h-7zM756 767h8v7h-8zM771 767h7v7h-7zM570 774h7v7h-7zM585 774h7v7h-7zM756 774h8v7h-8zM771 774h7v7h-7zM845 774h8v7h-8zM771 781h7v8h-7zM793 781h8v8h-8zM845 781h8v8h-8z"/><path fill="#65c86d" d="M376 16h8v7h-8zM362 23h7v7h-7zM429 23h7v7h-7zM362 38h7v7h-7zM421 38h8v7h-8zM153 45h8v8h-8zM220 45h8v8h-8zM138 60h8v8h-8zM339 60h15v8h-15zM421 60h8v8h-8zM458 68h8v7h-8zM525 68h8v7h-8zM525 75h8v7h-8zM592 90h8v7h-8zM756 97h8v8h-8zM481 105h7v7h-7zM726 112h8v8h-8zM726 120h8v7h-8zM138 127h8v8h-8zM421 127h8v8h-8zM563 135h7v7h-7zM689 135h8v7h-8zM704 135h7v7h-7zM756 135h8v7h-8zM451 142h7v7h-7zM466 142h7v7h-7zM518 142h7v7h-7zM726 142h8v7h-8zM481 157h7v7h-7zM496 157h7v7h-7zM525 157h8v7h-8zM689 157h8v7h-8zM726 157h8v7h-8zM570 164h7v8h-7zM689 164h8v8h-8zM756 164h8v8h-8zM399 172h7v7h-7zM429 172h7v7h-7zM429 179h7v8h-7zM570 179h7v8h-7zM659 179h8v8h-8zM563 187h7v7h-7zM689 187h8v7h-8zM756 187h8v7h-8zM823 187h7v7h-7zM689 194h8v7h-8zM443 216h8v8h-8zM473 216h8v8h-8zM429 224h7v7h-7zM466 224h7v7h-7zM153 246h8v8h-8zM689 246h8v8h-8zM756 246h8v8h-8zM153 254h8v7h-8zM697 254h7v7h-7zM563 261h7v7h-7zM741 261h8v7h-8zM116 268h7v8h-7zM131 268h7v8h-7zM563 268h7v8h-7zM600 276h7v7h-7zM108 283h8v8h-8zM659 283h15v8h-15zM674 291h8v7h-8zM265 306h7v7h-7zM711 306h8v7h-8zM659 313h8v7h-8zM563 320h7v8h-7zM659 320h8v8h-8zM131 328h7v7h-7zM153 328h8v7h-8zM220 328h8v7h-8zM116 335h7v8h-7zM265 335h15v8h-15zM317 335h7v8h-7zM488 343h8v7h-8zM309 350h8v8h-8zM496 350h7v8h-7zM592 350h8v8h-8zM659 350h8v8h-8zM235 358h7v7h-7zM161 365h7v7h-7zM533 365h7v7h-7zM726 365h8v7h-8zM235 372h7v8h-7zM317 372h7v8h-7zM525 372h8v8h-8zM309 380h8v7h-8zM719 380h7v7h-7zM198 387h7v8h-7zM250 387h7v8h-7zM592 387h8v8h-8zM682 387h7v8h-7zM719 387h7v8h-7zM436 395h7v7h-7zM525 395h8v7h-8zM250 402h7v8h-7zM443 402h8v8h-8zM689 402h8v8h-8zM756 402h8v8h-8zM704 410h7v7h-7zM823 410h7v7h-7zM235 425h7v7h-7zM875 425h8v7h-8zM161 432h14v7h-14zM250 432h7v7h-7zM466 432h7v7h-7zM488 432h8v7h-8zM689 432h8v7h-8zM719 432h7v7h-7zM734 432h7v7h-7zM756 432h8v7h-8zM793 432h8v7h-8zM823 432h7v7h-7zM458 439h8v8h-8zM749 447h15v7h-15zM228 469h7v8h-7zM280 469h7v8h-7zM354 469h15v8h-15zM414 469h7v8h-7zM257 477h8v7h-8zM272 477h8v7h-8zM183 499h7v7h-7zM443 499h8v7h-8zM481 499h7v7h-7zM749 499h7v7h-7zM369 506h7v8h-7zM674 521h8v8h-8zM830 529h8v7h-8zM845 529h8v7h-8zM860 529h8v7h-8zM860 558h8v8h-8zM272 566h8v7h-8zM376 566h8v7h-8zM406 566h15v7h-15zM443 566h8v7h-8zM860 566h8v7h-8zM376 573h8v8h-8zM830 573h8v8h-8zM384 581h7v7h-7zM615 581h7v7h-7zM860 581h8v7h-8zM481 588h7v8h-7zM860 588h8v8h-8zM228 596h7v7h-7zM250 596h15v7h-15zM280 596h15v7h-15zM339 596h8v7h-8zM496 596h7v7h-7zM525 596h8v7h-8zM347 603h7v7h-7zM228 610h7v8h-7zM503 610h7v8h-7zM399 618h7v7h-7zM473 625h15v8h-15zM525 625h8v8h-8zM205 633h15v7h-15zM235 633h7v7h-7zM250 633h7v7h-7zM458 633h8v7h-8zM525 640h8v8h-8zM354 648h8v7h-8zM540 655h8v7h-8zM592 655h8v7h-8zM190 662h8v8h-8zM228 662h7v8h-7zM257 662h8v8h-8zM280 662h7v8h-7zM339 662h8v8h-8zM496 662h7v8h-7zM525 662h8v8h-8zM540 662h8v8h-8zM830 685h15v7h-15zM525 700h8v7h-8zM280 729h7v8h-7zM503 729h7v8h-7zM525 729h8v8h-8zM622 737h8v7h-8zM667 737h7v7h-7zM778 737h8v7h-8zM778 744h8v8h-8zM622 752h8v7h-8zM622 767h8v7h-8zM652 767h15v7h-15zM674 767h15v7h-15zM518 781h7v8h-7z"/><path fill="#48c888" d="M399 16h7v7h-7zM317 30h7v8h-7zM525 30h8v8h-8zM563 30h7v8h-7zM689 30h8v8h-8zM399 38h7v7h-7zM429 38h7v7h-7zM473 38h8v7h-8zM473 45h8v8h-8zM317 53h7v7h-7zM466 53h7v7h-7zM525 60h8v8h-8zM563 60h7v8h-7zM704 60h7v8h-7zM771 60h7v8h-7zM823 60h7v8h-7zM771 68h7v7h-7zM786 68h15v7h-15zM242 75h8v7h-8zM458 75h8v7h-8zM622 75h8v7h-8zM786 75h15v7h-15zM845 75h8v7h-8zM347 82h7v8h-7zM391 82h8v8h-8zM220 90h8v7h-8zM287 90h8v7h-8zM458 90h8v7h-8zM473 90h8v7h-8zM518 90h7v7h-7zM585 90h7v7h-7zM697 90h7v7h-7zM458 97h8v8h-8zM674 105h8v7h-8zM689 120h8v7h-8zM183 127h7v8h-7zM585 127h7v8h-7zM577 135h15v7h-15zM659 135h8v7h-8zM577 142h15v7h-15zM168 149h7v8h-7zM563 157h7v7h-7zM585 164h7v8h-7zM682 164h7v8h-7zM704 164h7v8h-7zM838 164h7v8h-7zM324 172h8v7h-8zM451 179h15v8h-15zM540 179h8v8h-8zM734 179h15v8h-15zM830 179h8v8h-8zM845 179h8v8h-8zM868 179h7v8h-7zM518 187h7v7h-7zM585 187h7v7h-7zM868 187h7v7h-7zM183 194h7v7h-7zM369 194h7v7h-7zM518 194h7v7h-7zM868 194h7v7h-7zM756 216h8v8h-8zM123 224h8v7h-8zM146 224h7v7h-7zM265 231h7v8h-7zM347 239h7v7h-7zM362 239h14v7h-14zM481 239h7v7h-7zM570 246h7v8h-7zM175 254h8v7h-8zM332 254h7v7h-7zM429 254h7v7h-7zM443 254h15v7h-15zM563 254h7v7h-7zM659 254h8v7h-8zM875 254h8v7h-8zM421 261h8v7h-8zM682 261h7v7h-7zM711 261h8v7h-8zM734 261h7v7h-7zM332 268h7v8h-7zM525 268h8v8h-8zM287 276h8v7h-8zM332 276h7v7h-7zM585 283h7v8h-7zM711 291h15v7h-15zM175 298h8v8h-8zM726 298h8v8h-8zM108 306h8v7h-8zM131 306h7v7h-7zM496 306h7v7h-7zM510 306h8v7h-8zM719 306h7v7h-7zM771 306h7v7h-7zM525 313h8v7h-8zM786 313h15v7h-15zM525 320h8v8h-8zM704 320h7v8h-7zM354 328h8v7h-8zM473 328h8v7h-8zM131 335h7v8h-7zM347 335h7v8h-7zM496 335h7v8h-7zM518 335h7v8h-7zM570 335h7v8h-7zM734 343h7v7h-7zM786 343h7v7h-7zM347 350h7v8h-7zM756 350h8v8h-8zM793 350h8v8h-8zM272 358h8v7h-8zM347 358h7v7h-7zM540 358h8v7h-8zM168 365h7v7h-7zM183 365h15v7h-15zM272 365h8v7h-8zM630 365h7v7h-7zM741 365h8v7h-8zM771 365h7v7h-7zM146 372h7v8h-7zM637 372h7v8h-7zM868 372h7v8h-7zM131 380h15v7h-15zM183 380h7v7h-7zM421 380h8v7h-8zM540 380h8v7h-8zM332 387h7v8h-7zM734 387h7v8h-7zM503 395h7v7h-7zM659 395h8v7h-8zM399 402h7v8h-7zM429 402h7v8h-7zM592 402h8v8h-8zM682 402h7v8h-7zM801 402h7v8h-7zM488 410h8v7h-8zM644 410h8v7h-8zM399 417h7v8h-7zM793 417h8v8h-8zM183 425h7v7h-7zM280 425h15v7h-15zM429 425h7v7h-7zM630 425h7v7h-7zM123 432h8v7h-8zM153 432h8v7h-8zM362 432h7v7h-7zM406 432h15v7h-15zM615 432h7v7h-7zM652 432h7v7h-7zM711 432h8v7h-8zM786 432h7v7h-7zM838 432h7v7h-7zM615 439h7v8h-7zM689 439h8v8h-8zM786 439h7v8h-7zM845 439h8v8h-8zM272 447h8v7h-8zM451 447h7v7h-7zM473 447h8v7h-8zM592 454h8v8h-8zM689 454h15v8h-15zM726 454h8v8h-8zM749 454h7v8h-7zM793 454h8v8h-8zM123 469h8v8h-8zM153 469h8v8h-8zM250 469h7v8h-7zM347 469h7v8h-7zM644 469h8v8h-8zM339 477h8v7h-8zM429 477h7v7h-7zM778 477h8v7h-8zM228 484h14v7h-14zM778 484h8v7h-8zM830 484h8v7h-8zM868 484h7v7h-7zM183 491h7v8h-7zM220 491h22v8h-22zM257 491h8v8h-8zM280 491h7v8h-7zM376 491h8v8h-8zM496 499h7v7h-7zM548 499h7v7h-7zM778 499h8v7h-8zM830 499h8v7h-8zM868 499h7v7h-7zM689 506h15v8h-15zM741 506h8v8h-8zM801 506h7v8h-7zM823 506h15v8h-15zM525 521h15v8h-15zM771 521h7v8h-7zM868 521h7v8h-7zM168 529h7v7h-7zM458 536h8v8h-8zM518 536h7v8h-7zM689 536h8v8h-8zM830 536h15v8h-15zM860 536h8v8h-8zM466 544h7v7h-7zM689 544h8v7h-8zM726 544h8v7h-8zM741 544h8v7h-8zM756 544h22v7h-22zM503 551h7v7h-7zM563 551h7v7h-7zM674 551h8v7h-8zM689 551h8v7h-8zM719 551h15v7h-15zM525 558h8v8h-8zM868 558h7v8h-7zM228 566h7v7h-7zM347 566h7v7h-7zM488 566h8v7h-8zM830 566h8v7h-8zM816 573h7v8h-7zM198 581h7v7h-7zM644 581h8v7h-8zM830 581h8v7h-8zM257 588h8v8h-8zM354 588h8v8h-8zM496 588h7v8h-7zM123 596h8v7h-8zM213 596h7v7h-7zM533 596h7v7h-7zM548 596h7v7h-7zM600 596h7v7h-7zM630 596h22v7h-22zM183 603h7v7h-7zM548 603h7v7h-7zM600 603h7v7h-7zM153 610h8v8h-8zM257 610h8v8h-8zM414 610h7v8h-7zM830 610h8v8h-8zM354 618h8v7h-8zM384 618h7v7h-7zM525 618h8v7h-8zM838 618h7v7h-7zM384 625h7v8h-7zM399 625h7v8h-7zM644 625h8v8h-8zM875 625h8v8h-8zM391 633h8v7h-8zM548 633h7v7h-7zM637 633h15v7h-15zM272 640h8v8h-8zM354 640h8v8h-8zM436 640h7v8h-7zM481 640h7v8h-7zM272 648h8v7h-8zM458 648h8v7h-8zM600 648h7v7h-7zM637 648h7v7h-7zM830 648h8v7h-8zM548 655h7v7h-7zM830 655h8v7h-8zM309 662h8v8h-8zM443 662h8v8h-8zM637 662h7v8h-7zM830 662h8v8h-8zM637 670h7v7h-7zM153 677h15v8h-15zM399 677h7v8h-7zM458 677h8v8h-8zM615 677h7v8h-7zM637 677h7v8h-7zM570 685h15v7h-15zM592 685h8v7h-8zM845 685h8v7h-8zM161 692h14v8h-14zM406 692h8v8h-8zM436 692h7v8h-7zM525 692h15v8h-15zM161 700h14v7h-14zM406 700h8v7h-8zM443 700h8v7h-8zM510 700h8v7h-8zM548 700h7v7h-7zM496 707h7v8h-7zM600 707h7v8h-7zM667 722h7v7h-7zM845 722h8v7h-8zM153 729h8v8h-8zM600 729h7v8h-7zM830 729h8v8h-8zM272 737h8v7h-8zM577 737h8v7h-8zM592 737h15v7h-15zM630 737h7v7h-7zM659 737h8v7h-8zM674 737h8v7h-8zM704 737h7v7h-7zM741 737h23v7h-23zM823 737h7v7h-7zM257 744h8v8h-8zM525 744h8v8h-8zM630 744h7v8h-7zM711 744h8v8h-8zM868 744h15v8h-15zM168 752h7v7h-7zM272 752h8v7h-8zM533 752h7v7h-7zM778 752h8v7h-8zM816 752h7v7h-7zM630 767h7v7h-7zM272 774h23v7h-23zM466 774h7v7h-7zM577 774h8v7h-8zM592 774h8v7h-8zM615 774h7v7h-7zM652 774h7v7h-7zM838 774h7v7h-7zM347 781h7v8h-7zM719 781h7v8h-7zM838 781h7v8h-7z"/><path fill="#58c878" d="M436 16h15v7h-15zM369 30h7v8h-7zM406 30h8v8h-8zM726 30h8v8h-8zM376 45h8v8h-8zM443 45h8v8h-8zM272 53h8v7h-8zM473 53h8v7h-8zM332 60h7v8h-7zM362 60h7v8h-7zM376 60h8v8h-8zM734 60h7v8h-7zM756 60h8v8h-8zM838 68h7v7h-7zM868 68h7v7h-7zM868 75h7v7h-7zM496 97h7v8h-7zM518 97h7v8h-7zM622 97h8v8h-8zM354 105h8v7h-8zM518 105h7v7h-7zM369 112h7v8h-7zM570 120h7v7h-7zM823 120h7v7h-7zM451 135h7v7h-7zM451 164h7v8h-7zM563 164h7v8h-7zM719 164h7v8h-7zM868 164h7v8h-7zM146 179h7v8h-7zM384 179h7v8h-7zM525 179h8v8h-8zM674 179h8v8h-8zM711 179h8v8h-8zM838 179h7v8h-7zM421 187h8v7h-8zM659 187h8v7h-8zM674 187h8v7h-8zM429 216h7v8h-7zM369 224h7v7h-7zM540 224h8v7h-8zM741 224h15v7h-15zM771 224h7v7h-7zM153 239h8v7h-8zM198 261h7v7h-7zM153 268h8v8h-8zM123 276h8v7h-8zM205 276h8v7h-8zM317 276h7v7h-7zM533 276h7v7h-7zM704 276h7v7h-7zM793 276h15v7h-15zM138 283h8v8h-8zM153 283h8v8h-8zM272 291h8v7h-8zM496 291h7v7h-7zM704 291h7v7h-7zM756 291h8v7h-8zM466 306h7v7h-7zM667 306h7v7h-7zM123 313h8v7h-8zM280 328h7v7h-7zM309 335h8v8h-8zM108 343h8v7h-8zM533 343h15v7h-15zM682 343h7v7h-7zM108 350h8v8h-8zM138 350h8v8h-8zM228 358h7v7h-7zM257 358h8v7h-8zM525 358h8v7h-8zM793 365h8v7h-8zM399 372h7v8h-7zM146 380h7v7h-7zM533 387h7v8h-7zM704 387h7v8h-7zM518 395h7v7h-7zM563 395h7v7h-7zM190 402h8v8h-8zM384 402h7v8h-7zM771 417h7v8h-7zM190 425h15v7h-15zM488 425h8v7h-8zM272 432h8v7h-8zM451 432h7v7h-7zM369 439h7v8h-7zM436 439h7v8h-7zM481 439h7v8h-7zM637 439h7v8h-7zM830 439h8v8h-8zM317 447h7v7h-7zM436 447h7v7h-7zM257 469h8v8h-8zM488 469h8v8h-8zM213 477h7v7h-7zM704 506h7v8h-7zM756 506h8v8h-8zM823 521h7v8h-7zM845 521h8v8h-8zM190 529h8v7h-8zM659 536h8v8h-8zM533 544h7v7h-7zM280 566h7v7h-7zM630 566h7v7h-7zM399 573h7v8h-7zM272 581h15v7h-15zM436 588h7v8h-7zM369 610h7v8h-7zM384 610h7v8h-7zM481 610h7v8h-7zM600 610h7v8h-7zM272 618h8v7h-8zM778 618h8v7h-8zM257 625h8v8h-8zM778 625h8v8h-8zM123 633h8v7h-8zM153 640h8v8h-8zM317 648h7v7h-7zM317 655h7v7h-7zM153 662h8v8h-8zM384 662h7v8h-7zM600 662h7v8h-7zM317 677h7v8h-7zM510 677h8v8h-8zM711 685h15v7h-15zM369 700h7v7h-7zM458 700h8v7h-8zM369 707h7v8h-7zM213 729h7v8h-7zM615 729h7v8h-7zM533 737h7v7h-7zM161 744h7v8h-7zM272 744h8v8h-8zM615 752h7v7h-7zM161 774h14v7h-14zM257 774h8v7h-8z"/><path fill="#18a8e0" d="M451 16h7v7h-7zM533 16h15v7h-15zM622 16h8v7h-8zM734 16h7v7h-7zM801 16h7v7h-7zM741 23h8v7h-8zM764 30h7v8h-7zM778 30h8v8h-8zM816 30h7v8h-7zM242 38h8v7h-8zM533 38h15v7h-15zM585 38h7v7h-7zM741 38h8v7h-8zM816 38h7v7h-7zM183 53h7v7h-7zM540 53h8v7h-8zM764 75h7v7h-7zM488 82h8v8h-8zM548 82h7v8h-7zM615 82h7v8h-7zM801 82h7v8h-7zM146 90h7v7h-7zM317 90h7v7h-7zM778 90h8v7h-8zM295 105h7v7h-7zM324 105h8v7h-8zM295 112h7v8h-7zM548 112h7v8h-7zM600 112h7v8h-7zM652 112h7v8h-7zM548 120h7v7h-7zM600 120h7v7h-7zM615 120h7v7h-7zM637 120h7v7h-7zM637 127h7v8h-7zM615 135h7v7h-7zM131 149h7v8h-7zM287 149h8v8h-8zM317 149h7v8h-7zM488 149h8v8h-8zM600 149h7v8h-7zM615 149h15v8h-15zM637 149h7v8h-7zM682 149h7v8h-7zM488 157h8v7h-8zM488 164h8v8h-8zM615 164h7v8h-7zM637 164h7v8h-7zM622 172h8v7h-8zM242 194h8v7h-8zM548 194h7v7h-7zM615 194h7v7h-7zM652 194h7v7h-7zM764 194h7v7h-7zM198 201h15v8h-15zM309 201h8v8h-8zM518 201h7v8h-7zM548 201h7v8h-7zM592 201h8v8h-8zM622 201h8v8h-8zM682 201h7v8h-7zM793 201h8v8h-8zM838 201h15v8h-15zM503 209h7v7h-7zM652 209h7v7h-7zM764 209h7v7h-7zM295 216h7v8h-7zM503 216h7v8h-7zM183 224h7v7h-7zM242 224h8v7h-8zM853 224h7v7h-7zM198 231h7v8h-7zM332 231h7v8h-7zM421 231h15v8h-15zM473 231h15v8h-15zM324 239h8v7h-8zM652 239h7v7h-7zM764 239h7v7h-7zM816 239h7v7h-7zM860 239h8v7h-8zM652 246h7v8h-7zM548 254h7v7h-7zM615 254h7v7h-7zM764 268h7v8h-7zM652 291h7v7h-7zM503 298h7v8h-7zM555 298h8v8h-8zM615 298h7v8h-7zM830 298h8v8h-8zM637 313h7v7h-7zM830 313h8v7h-8zM637 320h7v8h-7zM324 328h8v7h-8zM488 328h8v7h-8zM503 328h15v7h-15zM540 328h8v7h-8zM324 335h8v8h-8zM503 335h7v8h-7zM540 335h8v8h-8zM749 335h7v8h-7zM816 335h7v8h-7zM860 335h8v8h-8zM652 350h7v8h-7zM816 350h7v8h-7zM108 358h8v7h-8zM555 358h8v7h-8zM555 372h8v8h-8zM607 372h8v8h-8zM324 380h8v7h-8zM764 380h7v7h-7zM324 387h8v8h-8zM630 387h7v8h-7zM764 387h7v8h-7zM175 395h8v7h-8zM242 395h23v7h-23zM421 395h8v7h-8zM555 395h8v7h-8zM778 395h8v7h-8zM868 395h7v7h-7zM607 402h8v8h-8zM630 402h7v8h-7zM302 410h15v7h-15zM391 410h8v7h-8zM421 410h15v7h-15zM421 417h8v8h-8zM295 425h7v7h-7zM764 432h7v7h-7zM108 439h8v8h-8zM131 439h7v8h-7zM108 447h8v7h-8zM131 447h7v7h-7zM146 447h7v7h-7zM421 447h15v7h-15zM853 447h7v7h-7zM175 454h8v8h-8zM205 454h15v8h-15zM287 454h15v8h-15zM347 454h7v8h-7zM391 462h8v7h-8zM451 462h7v7h-7zM466 462h7v7h-7zM488 462h8v7h-8zM764 477h7v7h-7zM853 477h7v7h-7zM131 491h7v8h-7zM295 499h7v7h-7zM853 499h7v7h-7zM205 506h15v8h-15zM242 506h8v8h-8zM466 514h7v7h-7zM496 514h7v7h-7zM726 514h8v7h-8zM749 514h15v7h-15zM175 521h8v8h-8zM213 521h7v8h-7zM228 521h7v8h-7zM242 521h8v8h-8zM257 521h8v8h-8zM287 521h8v8h-8zM347 521h7v8h-7zM391 521h8v8h-8zM108 529h8v7h-8zM242 529h8v7h-8zM265 529h7v7h-7zM295 529h7v7h-7zM481 536h7v8h-7zM496 536h7v8h-7zM213 544h15v7h-15zM242 544h8v7h-8zM257 544h8v7h-8zM406 544h15v7h-15zM205 558h8v8h-8zM287 558h8v8h-8zM302 558h7v8h-7zM332 558h15v8h-15zM384 558h7v8h-7zM443 558h8v8h-8zM764 566h7v7h-7zM764 581h7v7h-7zM242 588h8v8h-8zM295 588h7v8h-7zM764 596h7v7h-7zM764 603h7v7h-7zM607 633h8v7h-8zM108 640h8v8h-8zM853 640h7v8h-7zM116 648h7v7h-7zM131 648h7v7h-7zM853 648h7v7h-7zM429 655h7v7h-7zM607 655h8v7h-8zM853 655h7v7h-7zM607 662h8v8h-8zM123 670h8v7h-8zM168 670h7v7h-7zM287 670h8v7h-8zM302 670h7v7h-7zM332 670h7v7h-7zM362 670h7v7h-7zM473 670h15v7h-15zM525 670h8v7h-8zM570 670h7v7h-7zM659 670h8v7h-8zM674 670h8v7h-8zM689 670h15v7h-15zM786 670h7v7h-7zM123 685h8v7h-8zM183 685h7v7h-7zM488 685h8v7h-8zM764 692h7v8h-7zM295 700h7v7h-7zM853 700h7v7h-7zM108 707h8v8h-8zM175 707h8v8h-8zM853 707h7v8h-7zM123 722h15v7h-15zM332 722h7v7h-7zM429 722h7v7h-7zM443 722h8v7h-8zM853 722h7v7h-7zM853 729h7v8h-7zM391 737h8v7h-8zM406 737h8v7h-8zM295 744h7v8h-7zM295 752h7v7h-7zM317 759h7v8h-7zM540 759h8v8h-8zM570 759h7v8h-7zM592 759h8v8h-8zM734 759h22v8h-22zM793 759h15v8h-15zM816 759h14v8h-14zM332 767h7v7h-7zM429 767h7v7h-7zM488 774h8v7h-8z"/><path fill="#2a8eed" d="M458 16h8v7h-8zM458 38h8v7h-8zM458 45h8v8h-8zM458 53h8v7h-8zM555 68h8v7h-8zM458 172h8v7h-8zM555 179h8v8h-8zM108 365h8v7h-8zM131 365h22v7h-22zM265 365h7v7h-7zM161 462h7v7h-7zM272 462h8v7h-8z"/><path fill="#209fe1" d="M466 16h7v7h-7zM510 16h8v7h-8zM585 16h7v7h-7zM682 16h7v7h-7zM600 23h7v7h-7zM622 23h8v7h-8zM667 23h7v7h-7zM682 23h7v7h-7zM622 38h8v7h-8zM600 45h7v8h-7zM682 45h7v8h-7zM600 53h7v7h-7zM622 53h8v7h-8zM764 53h7v7h-7zM309 90h8v7h-8zM644 105h8v7h-8zM295 135h7v7h-7zM421 149h8v8h-8zM830 172h8v7h-8zM630 179h7v8h-7zM228 201h7v8h-7zM577 201h15v8h-15zM183 216h7v8h-7zM406 231h8v8h-8zM466 231h7v8h-7zM644 306h8v7h-8zM324 313h8v7h-8zM242 328h8v7h-8zM108 372h8v8h-8zM324 372h8v8h-8zM108 417h8v8h-8zM697 462h7v7h-7zM726 462h8v7h-8zM295 484h7v7h-7zM108 491h8v8h-8zM295 491h7v8h-7zM116 506h7v8h-7zM138 506h15v8h-15zM116 529h7v7h-7zM131 529h7v7h-7zM146 529h7v7h-7zM272 536h8v8h-8zM198 551h7v7h-7zM399 551h7v7h-7zM116 573h7v8h-7zM108 588h15v8h-15zM138 588h8v8h-8zM555 603h8v7h-8zM555 633h8v7h-8zM146 670h7v7h-7zM265 737h7v7h-7z"/><path fill="#16aade" d="M481 16h7v7h-7zM577 16h8v7h-8zM711 16h8v7h-8zM741 16h8v7h-8zM838 16h7v7h-7zM860 16h8v7h-8zM749 23h7v7h-7zM801 23h7v7h-7zM860 23h8v7h-8zM749 38h7v7h-7zM860 38h8v7h-8zM749 45h7v8h-7zM830 45h8v8h-8zM860 45h8v8h-8zM734 53h7v7h-7zM749 53h7v7h-7zM830 53h8v7h-8zM845 53h8v7h-8zM860 53h8v7h-8zM630 60h7v8h-7zM816 60h7v8h-7zM607 75h8v7h-8zM816 75h7v7h-7zM816 82h7v8h-7zM830 82h8v8h-8zM860 82h8v8h-8zM324 97h8v8h-8zM630 97h7v8h-7zM816 97h7v8h-7zM488 105h8v7h-8zM630 105h7v7h-7zM764 105h7v7h-7zM778 105h8v7h-8zM816 105h7v7h-7zM816 112h7v8h-7zM652 120h7v7h-7zM778 120h8v7h-8zM764 135h7v7h-7zM764 142h7v7h-7zM295 149h7v8h-7zM347 149h7v8h-7zM384 149h15v8h-15zM496 149h7v8h-7zM734 149h7v8h-7zM823 149h7v8h-7zM295 157h7v7h-7zM764 164h7v8h-7zM466 172h7v7h-7zM510 172h8v7h-8zM667 172h7v7h-7zM816 172h7v7h-7zM860 172h8v7h-8zM488 187h8v7h-8zM764 187h7v7h-7zM458 194h8v7h-8zM503 194h7v7h-7zM778 194h8v7h-8zM816 194h7v7h-7zM242 201h15v8h-15zM302 201h7v8h-7zM317 201h7v8h-7zM376 201h15v8h-15zM399 201h15v8h-15zM443 201h23v8h-23zM473 201h15v8h-15zM496 201h7v8h-7zM510 201h8v8h-8zM540 201h8v8h-8zM659 201h23v8h-23zM704 201h7v8h-7zM756 201h8v8h-8zM771 201h7v8h-7zM295 209h7v7h-7zM458 209h8v7h-8zM458 216h8v8h-8zM548 216h7v8h-7zM600 216h7v8h-7zM295 224h7v7h-7zM190 231h8v8h-8zM488 239h8v7h-8zM637 239h7v7h-7zM830 239h8v7h-8zM764 246h7v8h-7zM830 246h8v8h-8zM242 254h8v7h-8zM488 254h8v7h-8zM652 254h7v7h-7zM764 254h7v7h-7zM764 261h7v7h-7zM615 268h7v8h-7zM652 268h7v8h-7zM295 283h7v8h-7zM548 283h15v8h-15zM764 283h7v8h-7zM242 291h8v7h-8zM295 291h7v7h-7zM458 291h8v7h-8zM488 291h8v7h-8zM503 291h7v7h-7zM555 291h8v7h-8zM615 291h7v7h-7zM778 291h8v7h-8zM242 298h8v8h-8zM458 298h8v8h-8zM488 298h8v8h-8zM533 298h15v8h-15zM816 298h7v8h-7zM838 298h7v8h-7zM860 298h8v8h-8zM295 306h7v7h-7zM600 306h7v7h-7zM764 306h7v7h-7zM295 313h7v7h-7zM548 313h7v7h-7zM778 313h8v7h-8zM548 320h7v8h-7zM816 320h7v8h-7zM533 328h7v7h-7zM555 328h8v7h-8zM719 328h7v7h-7zM510 335h8v8h-8zM741 335h8v8h-8zM771 335h7v8h-7zM801 335h7v8h-7zM555 343h8v7h-8zM630 343h7v7h-7zM295 350h7v8h-7zM555 350h8v8h-8zM637 350h7v8h-7zM295 358h7v7h-7zM287 365h30v7h-30zM384 365h15v7h-15zM265 372h7v8h-7zM295 380h7v7h-7zM778 380h8v7h-8zM108 387h8v8h-8zM295 387h7v8h-7zM555 387h8v8h-8zM778 387h8v8h-8zM198 395h7v7h-7zM280 395h7v7h-7zM332 395h7v7h-7zM347 395h7v7h-7zM384 395h15v7h-15zM630 395h7v7h-7zM771 395h7v7h-7zM830 395h8v7h-8zM875 395h8v7h-8zM242 402h8v8h-8zM295 402h7v8h-7zM287 410h8v7h-8zM384 410h7v7h-7zM265 417h7v8h-7zM295 417h7v8h-7zM429 417h7v8h-7zM607 417h8v8h-8zM391 439h8v8h-8zM421 439h8v8h-8zM764 439h7v8h-7zM295 447h7v7h-7zM391 447h8v7h-8zM309 454h8v8h-8zM376 454h8v8h-8zM406 454h15v8h-15zM376 462h15v7h-15zM421 462h8v7h-8zM436 462h15v7h-15zM481 462h7v7h-7zM108 484h8v7h-8zM309 506h8v8h-8zM399 506h7v8h-7zM168 514h7v7h-7zM510 514h8v7h-8zM362 521h7v8h-7zM384 521h7v8h-7zM853 529h7v7h-7zM153 536h8v8h-8zM190 536h15v8h-15zM436 536h7v8h-7zM488 536h8v8h-8zM816 536h7v8h-7zM853 536h7v8h-7zM332 544h7v7h-7zM443 544h8v7h-8zM816 544h7v7h-7zM213 558h7v8h-7zM347 558h7v8h-7zM362 558h7v8h-7zM295 566h7v7h-7zM853 566h7v7h-7zM265 573h7v8h-7zM295 573h7v8h-7zM853 573h7v8h-7zM295 581h7v7h-7zM853 581h7v7h-7zM853 588h7v8h-7zM853 596h7v7h-7zM853 603h7v7h-7zM295 610h7v8h-7zM853 610h7v8h-7zM108 618h8v7h-8zM421 625h8v8h-8zM146 640h7v8h-7zM242 640h8v8h-8zM108 648h8v7h-8zM429 648h7v7h-7zM116 655h7v7h-7zM131 655h22v7h-22zM295 662h7v8h-7zM198 670h7v7h-7zM228 670h14v7h-14zM257 670h8v7h-8zM280 670h7v7h-7zM339 670h23v7h-23zM376 670h8v7h-8zM399 670h7v7h-7zM533 670h7v7h-7zM793 670h15v7h-15zM868 670h7v7h-7zM295 677h7v8h-7zM429 677h7v8h-7zM488 677h8v8h-8zM198 685h7v7h-7zM213 685h7v7h-7zM287 685h8v7h-8zM384 685h7v7h-7zM406 685h8v7h-8zM473 685h15v7h-15zM764 700h7v7h-7zM116 707h7v8h-7zM429 707h7v8h-7zM764 707h7v8h-7zM153 722h8v7h-8zM168 722h15v7h-15zM190 722h23v7h-23zM265 722h7v7h-7zM287 722h8v7h-8zM391 722h8v7h-8zM414 722h7v7h-7zM630 722h14v7h-14zM242 729h8v8h-8zM138 737h15v7h-15zM175 737h8v7h-8zM332 737h15v7h-15zM488 737h8v7h-8zM108 744h8v8h-8zM391 744h8v8h-8zM146 752h7v7h-7zM622 759h15v8h-15zM659 759h52v8h-52zM868 759h15v8h-15zM108 767h15v7h-15zM131 767h22v7h-22zM175 767h8v7h-8zM265 767h7v7h-7zM391 767h8v7h-8zM764 774h7v7h-7zM853 774h7v7h-7zM488 781h8v8h-8zM853 781h7v8h-7z"/><path fill="#3f62f8" d="M488 16h8v7h-8zM630 16h7v7h-7zM644 23h8v7h-8zM630 38h7v7h-7zM644 38h8v7h-8zM555 45h8v8h-8zM630 45h7v8h-7zM644 45h8v8h-8zM555 172h8v7h-8zM644 172h8v7h-8zM853 172h7v7h-7zM555 201h8v8h-8zM607 201h8v8h-8zM555 216h8v8h-8zM808 320h8v8h-8zM853 328h7v7h-7zM808 335h8v8h-8zM853 335h7v8h-7zM108 395h8v7h-8zM138 462h8v7h-8zM265 462h7v7h-7zM295 462h7v7h-7zM309 462h8v7h-8zM295 514h7v7h-7zM108 536h8v8h-8zM131 536h15v8h-15zM116 551h7v7h-7zM131 551h15v7h-15zM265 551h7v7h-7zM808 596h8v7h-8zM414 715h7v7h-7zM429 715h7v7h-7zM689 715h8v7h-8zM265 759h7v8h-7zM421 759h15v8h-15z"/><path fill="#2e87f1" d="M503 16h7v7h-7zM615 16h7v7h-7zM555 23h8v7h-8zM652 23h7v7h-7zM853 30h7v8h-7zM615 38h7v7h-7zM652 38h7v7h-7zM615 45h7v8h-7zM652 45h7v8h-7zM503 53h7v7h-7zM548 53h7v7h-7zM652 53h7v7h-7zM853 75h7v7h-7zM324 90h8v7h-8zM555 90h8v7h-8zM853 97h7v8h-7zM853 105h7v7h-7zM853 127h7v8h-7zM853 135h7v7h-7zM853 142h7v7h-7zM778 149h8v8h-8zM503 201h7v8h-7zM183 231h7v8h-7zM667 231h7v8h-7zM689 231h15v8h-15zM853 313h7v7h-7zM652 328h7v7h-7zM644 350h8v8h-8zM108 410h8v7h-8zM146 410h7v7h-7zM295 410h7v7h-7zM146 454h7v8h-7zM116 462h7v7h-7zM183 462h7v7h-7zM592 462h15v7h-15zM771 462h7v7h-7zM786 462h7v7h-7zM868 462h7v7h-7zM555 499h8v7h-8zM555 506h8v8h-8zM711 514h8v7h-8zM108 521h8v8h-8zM131 521h15v8h-15zM443 551h8v7h-8zM116 558h7v8h-7zM131 558h22v8h-22zM421 558h8v8h-8zM808 558h8v8h-8zM324 573h8v8h-8zM808 573h8v8h-8zM324 596h8v7h-8zM324 603h8v7h-8zM607 618h8v7h-8zM555 677h8v8h-8zM242 685h8v7h-8zM555 692h8v8h-8zM652 715h7v7h-7zM667 715h7v7h-7zM123 759h8v8h-8zM168 759h7v8h-7zM190 759h15v8h-15zM220 759h22v8h-22zM406 759h8v8h-8zM555 774h8v7h-8z"/><path fill="#4156f0" d="M555 16h8v7h-8zM637 231h7v8h-7zM652 231h7v8h-7zM108 462h8v7h-8zM808 462h8v7h-8zM324 544h8v7h-8zM324 558h8v8h-8zM555 715h8v7h-8z"/><path fill="#2098e8" d="M600 16h7v7h-7zM764 23h7v7h-7zM488 30h8v8h-8zM242 53h8v7h-8zM682 53h7v7h-7zM555 60h8v8h-8zM853 60h7v8h-7zM853 68h7v7h-7zM555 75h8v7h-8zM146 149h7v8h-7zM793 149h15v8h-15zM853 149h22v8h-22zM853 157h7v7h-7zM659 231h8v8h-8zM674 231h8v8h-8zM726 231h8v8h-8zM771 231h7v8h-7zM875 231h8v8h-8zM630 239h7v7h-7zM644 239h8v7h-8zM630 320h7v8h-7zM123 395h8v7h-8zM153 462h8v7h-8zM168 462h7v7h-7zM704 462h7v7h-7zM734 462h7v7h-7zM793 462h8v7h-8zM816 462h7v7h-7zM108 506h8v8h-8zM860 514h8v7h-8zM332 536h7v8h-7zM414 536h7v8h-7zM332 551h7v7h-7zM324 566h8v7h-8zM324 581h8v7h-8zM146 588h7v8h-7zM555 610h8v8h-8zM324 633h8v7h-8zM555 640h8v8h-8zM116 670h7v7h-7zM324 677h8v8h-8zM242 700h8v7h-8zM555 700h8v7h-8zM242 707h8v8h-8zM555 722h8v7h-8zM153 759h15v8h-15zM242 759h15v8h-15zM242 767h8v7h-8zM607 767h8v7h-8zM242 774h8v7h-8zM324 781h8v8h-8z"/><path fill="#3c68f8" d="M607 16h8v7h-8zM555 53h8v7h-8zM644 82h8v8h-8zM555 149h8v8h-8zM555 187h8v7h-8zM853 194h7v7h-7zM808 209h8v7h-8zM808 216h8v8h-8zM808 224h8v7h-8zM808 254h8v7h-8zM808 261h8v7h-8zM808 268h8v8h-8zM808 276h8v7h-8zM808 283h8v8h-8zM808 291h8v7h-8zM808 298h8v8h-8zM146 462h7v7h-7zM242 462h8v7h-8zM280 462h7v7h-7zM607 462h8v7h-8zM860 462h8v7h-8zM108 514h8v7h-8zM555 514h8v7h-8zM175 551h8v7h-8zM808 603h8v7h-8zM808 610h8v8h-8zM808 618h8v7h-8zM808 625h8v8h-8zM808 633h8v7h-8zM808 640h8v8h-8zM808 648h8v7h-8zM808 655h8v7h-8zM808 662h8v8h-8zM808 677h8v8h-8zM808 685h8v7h-8zM302 715h22v7h-22zM347 715h52v7h-52zM697 715h67v7h-67zM771 715h15v7h-15zM287 759h8v8h-8zM555 767h8v7h-8z"/><path fill="#367af8" d="M637 16h7v7h-7zM607 23h8v7h-8zM607 38h8v7h-8zM488 45h8v8h-8zM607 45h8v8h-8zM488 53h8v7h-8zM607 53h15v7h-15zM644 112h8v8h-8zM853 112h7v8h-7zM808 149h8v8h-8zM644 194h8v7h-8zM719 231h7v8h-7zM778 231h8v8h-8zM808 306h8v7h-8zM808 313h8v7h-8zM808 343h8v7h-8zM808 350h8v8h-8zM808 358h8v7h-8zM808 365h8v7h-8zM808 372h8v8h-8zM808 380h8v7h-8zM808 387h8v8h-8zM138 395h15v7h-15zM637 462h7v7h-7zM116 514h7v7h-7zM131 514h22v7h-22zM875 514h8v7h-8zM146 521h7v8h-7zM808 536h8v8h-8zM108 544h8v7h-8zM555 544h8v7h-8zM808 544h8v7h-8zM205 551h8v7h-8zM287 551h8v7h-8zM808 551h8v7h-8zM324 625h8v8h-8zM324 685h8v7h-8zM242 715h8v7h-8zM399 715h15v7h-15zM436 715h52v7h-52zM630 715h22v7h-22zM205 759h8v8h-8zM607 781h8v8h-8z"/><path fill="#444beb" d="M644 16h8v7h-8zM808 23h8v7h-8zM808 38h8v7h-8zM808 514h8v7h-8zM108 551h8v7h-8zM116 715h7v7h-7zM131 715h7v7h-7zM607 715h8v7h-8z"/><path fill="#3081f7" d="M652 16h7v7h-7zM637 23h7v7h-7zM644 30h8v8h-8zM555 38h8v7h-8zM637 38h7v7h-7zM853 38h7v7h-7zM853 45h7v8h-7zM637 53h7v7h-7zM853 53h7v7h-7zM630 82h7v8h-7zM853 82h7v8h-7zM607 112h8v8h-8zM630 112h7v8h-7zM607 120h8v7h-8zM644 120h8v7h-8zM555 135h8v7h-8zM607 135h8v7h-8zM607 149h8v8h-8zM607 164h8v8h-8zM607 187h8v7h-8zM555 194h8v7h-8zM607 194h8v7h-8zM324 201h8v8h-8zM488 201h8v8h-8zM630 201h14v8h-14zM555 209h8v7h-8zM607 209h8v7h-8zM607 216h8v8h-8zM295 231h7v8h-7zM600 231h7v8h-7zM682 231h7v8h-7zM704 231h15v8h-15zM734 231h7v8h-7zM786 231h22v8h-22zM816 231h7v8h-7zM838 231h15v8h-15zM555 239h8v7h-8zM555 246h8v8h-8zM644 246h8v8h-8zM555 254h8v7h-8zM607 254h8v7h-8zM853 254h7v7h-7zM853 291h7v7h-7zM607 298h8v8h-8zM630 298h7v8h-7zM644 298h8v8h-8zM764 298h7v8h-7zM853 298h7v8h-7zM607 313h8v7h-8zM764 328h7v7h-7zM607 335h8v8h-8zM630 335h7v8h-7zM764 335h7v8h-7zM764 350h7v8h-7zM853 350h7v8h-7zM295 395h7v7h-7zM808 402h8v8h-8zM808 410h8v7h-8zM808 432h8v7h-8zM808 439h8v8h-8zM555 447h8v7h-8zM808 447h8v7h-8zM555 454h8v8h-8zM808 454h8v8h-8zM131 462h7v7h-7zM228 462h7v7h-7zM287 462h8v7h-8zM302 462h7v7h-7zM332 462h22v7h-22zM540 462h15v7h-15zM630 462h7v7h-7zM741 462h8v7h-8zM778 462h8v7h-8zM830 462h15v7h-15zM808 469h8v8h-8zM808 477h8v7h-8zM808 484h8v7h-8zM808 499h8v7h-8zM324 506h8v8h-8zM808 506h8v8h-8zM205 514h15v7h-15zM228 514h7v7h-7zM242 514h8v7h-8zM257 514h8v7h-8zM280 514h15v7h-15zM302 514h15v7h-15zM347 514h7v7h-7zM391 514h8v7h-8zM406 514h8v7h-8zM429 514h7v7h-7zM808 521h8v8h-8zM808 529h8v7h-8zM175 536h8v8h-8zM205 536h8v8h-8zM295 536h7v8h-7zM391 536h8v8h-8zM429 536h7v8h-7zM555 536h8v8h-8zM116 544h7v7h-7zM131 544h7v7h-7zM146 544h7v7h-7zM295 544h7v7h-7zM123 551h8v7h-8zM213 551h7v7h-7zM339 551h8v7h-8zM391 551h8v7h-8zM108 558h8v8h-8zM808 566h8v7h-8zM324 588h8v8h-8zM324 610h8v8h-8zM324 618h8v7h-8zM324 640h8v8h-8zM555 648h8v7h-8zM391 670h8v7h-8zM421 670h15v7h-15zM443 670h8v7h-8zM555 685h8v7h-8zM324 692h8v8h-8zM324 700h8v7h-8zM324 707h8v8h-8zM496 715h14v7h-14zM525 715h30v7h-30zM563 715h22v7h-22zM592 715h15v7h-15zM615 715h15v7h-15zM659 715h8v7h-8zM324 722h8v7h-8zM555 737h8v7h-8zM324 744h8v8h-8zM555 744h8v8h-8zM324 752h8v7h-8zM131 759h22v8h-22zM175 759h8v8h-8zM347 759h7v8h-7zM384 759h15v8h-15zM443 759h8v8h-8z"/><path fill="#209ae6" d="M667 16h7v7h-7zM816 16h7v7h-7zM458 23h8v7h-8zM548 23h7v7h-7zM734 23h7v7h-7zM816 23h7v7h-7zM830 23h8v7h-8zM615 30h7v8h-7zM600 38h7v7h-7zM682 38h7v7h-7zM734 38h7v7h-7zM830 38h8v7h-8zM548 45h7v8h-7zM637 45h7v8h-7zM764 45h7v8h-7zM816 45h7v8h-7zM585 53h7v7h-7zM816 53h7v7h-7zM607 82h8v8h-8zM637 82h7v8h-7zM764 82h7v8h-7zM778 82h8v8h-8zM644 90h8v7h-8zM786 90h7v7h-7zM801 90h7v7h-7zM816 90h7v7h-7zM875 90h8v7h-8zM555 97h8v8h-8zM644 97h8v8h-8zM615 112h7v8h-7zM637 112h7v8h-7zM764 112h7v8h-7zM630 127h7v8h-7zM332 149h7v8h-7zM533 149h7v8h-7zM711 149h8v8h-8zM764 149h7v8h-7zM786 149h7v8h-7zM816 149h7v8h-7zM875 149h8v8h-8zM607 157h8v7h-8zM630 157h7v7h-7zM644 157h8v7h-8zM548 172h7v7h-7zM600 172h7v7h-7zM652 172h7v7h-7zM607 179h8v8h-8zM644 179h8v8h-8zM853 179h7v8h-7zM853 187h7v7h-7zM637 194h7v7h-7zM414 201h7v8h-7zM429 201h7v8h-7zM600 201h7v8h-7zM615 201h7v8h-7zM652 201h7v8h-7zM711 201h8v8h-8zM764 201h7v8h-7zM778 201h15v8h-15zM801 201h7v8h-7zM830 201h8v8h-8zM860 201h23v8h-23zM488 209h8v7h-8zM637 209h7v7h-7zM488 216h8v8h-8zM615 216h7v8h-7zM637 216h7v8h-7zM764 216h7v8h-7zM451 231h7v8h-7zM496 231h7v8h-7zM510 231h15v8h-15zM563 231h14v8h-14zM242 239h8v7h-8zM637 246h7v8h-7zM637 254h7v7h-7zM555 261h8v7h-8zM637 261h7v7h-7zM555 268h8v8h-8zM630 268h14v8h-14zM555 276h8v7h-8zM630 283h14v8h-14zM548 291h7v7h-7zM637 291h7v7h-7zM600 298h7v8h-7zM637 298h7v8h-7zM652 298h7v8h-7zM778 298h8v8h-8zM555 306h8v7h-8zM630 306h7v7h-7zM853 306h7v7h-7zM630 313h7v7h-7zM764 313h7v7h-7zM295 320h7v8h-7zM555 320h8v8h-8zM644 320h8v8h-8zM764 320h7v8h-7zM682 328h7v7h-7zM734 328h22v7h-22zM771 328h7v7h-7zM786 328h7v7h-7zM801 328h7v7h-7zM838 328h7v7h-7zM860 328h8v7h-8zM295 335h7v8h-7zM548 335h7v8h-7zM830 335h15v8h-15zM607 343h8v7h-8zM764 343h7v7h-7zM853 343h7v7h-7zM778 350h8v8h-8zM324 358h8v7h-8zM607 358h8v7h-8zM764 358h7v7h-7zM853 358h7v7h-7zM116 365h7v7h-7zM607 380h8v7h-8zM853 380h7v7h-7zM607 387h8v8h-8zM853 387h7v8h-7zM302 395h15v7h-15zM607 395h8v7h-8zM764 395h7v7h-7zM786 395h7v7h-7zM860 395h8v7h-8zM324 402h8v8h-8zM764 402h7v8h-7zM853 402h7v8h-7zM324 417h8v8h-8zM324 425h8v7h-8zM555 425h8v7h-8zM555 432h8v7h-8zM242 439h8v8h-8zM853 439h7v8h-7zM116 454h7v8h-7zM138 454h8v8h-8zM265 454h7v8h-7zM384 454h7v8h-7zM429 454h7v8h-7zM190 462h8v7h-8zM354 462h22v7h-22zM399 462h7v7h-7zM414 462h7v7h-7zM518 462h15v7h-15zM563 462h14v7h-14zM622 462h8v7h-8zM659 462h23v7h-23zM689 462h8v7h-8zM823 462h7v7h-7zM324 469h8v8h-8zM555 469h8v8h-8zM324 477h8v7h-8zM555 477h8v7h-8zM146 491h7v8h-7zM131 506h7v8h-7zM265 506h7v8h-7zM295 506h7v8h-7zM391 506h8v8h-8zM175 514h8v7h-8zM250 514h7v7h-7zM272 514h8v7h-8zM436 514h7v7h-7zM451 514h7v7h-7zM473 514h23v7h-23zM674 514h8v7h-8zM689 514h15v7h-15zM741 514h8v7h-8zM771 514h15v7h-15zM793 514h15v7h-15zM823 514h7v7h-7zM845 514h8v7h-8zM123 521h8v8h-8zM205 521h8v8h-8zM295 521h7v8h-7zM309 521h8v8h-8zM555 529h8v7h-8zM220 536h8v8h-8zM250 536h7v8h-7zM362 536h7v8h-7zM376 536h8v8h-8zM399 536h15v8h-15zM138 544h8v7h-8zM175 544h8v7h-8zM205 544h8v7h-8zM287 544h8v7h-8zM302 544h15v7h-15zM339 544h30v7h-30zM376 544h23v7h-23zM183 551h15v7h-15zM250 551h7v7h-7zM272 551h8v7h-8zM414 551h7v7h-7zM265 558h7v8h-7zM295 558h7v8h-7zM391 558h8v8h-8zM555 566h8v7h-8zM108 573h8v8h-8zM555 573h8v8h-8zM555 581h8v7h-8zM607 581h8v7h-8zM131 588h7v8h-7zM421 588h8v8h-8zM555 596h8v7h-8zM607 596h8v7h-8zM607 603h8v7h-8zM764 610h7v8h-7zM242 618h8v7h-8zM295 618h7v7h-7zM764 618h7v7h-7zM853 618h7v7h-7zM764 625h7v8h-7zM853 625h7v8h-7zM764 633h7v7h-7zM853 633h7v7h-7zM116 640h7v8h-7zM131 640h7v8h-7zM421 640h8v8h-8zM421 648h8v7h-8zM607 648h8v7h-8zM421 655h8v7h-8zM853 662h7v8h-7zM138 670h8v7h-8zM175 670h8v7h-8zM205 670h8v7h-8zM242 670h8v7h-8zM295 670h7v7h-7zM309 670h8v7h-8zM406 670h15v7h-15zM436 670h7v7h-7zM451 670h7v7h-7zM488 670h15v7h-15zM704 670h30v7h-30zM816 670h14v7h-14zM845 670h8v7h-8zM875 670h8v7h-8zM421 677h8v8h-8zM607 677h8v8h-8zM175 685h8v7h-8zM295 685h7v7h-7zM391 685h8v7h-8zM443 685h8v7h-8zM607 685h8v7h-8zM183 692h7v8h-7zM242 692h8v8h-8zM295 692h7v8h-7zM421 692h8v8h-8zM488 692h8v8h-8zM853 692h7v8h-7zM607 700h8v7h-8zM183 707h7v8h-7zM295 707h7v8h-7zM421 707h8v8h-8zM607 707h8v8h-8zM108 722h15v7h-15zM138 722h15v7h-15zM183 722h7v7h-7zM242 722h8v7h-8zM764 722h7v7h-7zM555 729h8v8h-8zM607 729h8v8h-8zM764 729h7v8h-7zM116 737h7v7h-7zM131 737h7v7h-7zM295 737h7v7h-7zM429 737h7v7h-7zM421 744h15v8h-15zM607 752h8v7h-8zM764 752h7v7h-7zM272 759h15v8h-15zM399 759h7v8h-7zM436 759h7v8h-7zM451 759h7v8h-7zM473 759h15v8h-15zM496 759h7v8h-7zM533 759h7v8h-7zM711 759h23v8h-23zM756 759h8v8h-8zM786 759h7v8h-7zM295 767h7v7h-7zM421 767h8v7h-8zM488 767h8v7h-8zM295 774h7v7h-7zM183 781h7v8h-7zM242 781h8v8h-8zM295 781h7v8h-7zM764 781h7v8h-7z"/><path fill="#2ec0a2" d="M674 16h8v7h-8zM518 23h7v7h-7zM570 23h7v7h-7zM697 23h7v7h-7zM726 23h8v7h-8zM823 23h7v7h-7zM183 30h7v8h-7zM771 30h7v8h-7zM868 30h7v8h-7zM726 38h8v7h-8zM481 45h7v8h-7zM518 45h22v8h-22zM518 53h15v7h-15zM786 60h7v8h-7zM830 60h8v8h-8zM868 60h7v8h-7zM533 68h7v7h-7zM577 68h8v7h-8zM764 68h7v7h-7zM801 75h7v7h-7zM525 82h8v8h-8zM563 82h7v8h-7zM659 82h8v8h-8zM674 82h8v8h-8zM719 82h7v8h-7zM123 90h8v7h-8zM421 90h8v7h-8zM466 90h7v7h-7zM510 90h8v7h-8zM525 90h8v7h-8zM622 90h8v7h-8zM659 90h8v7h-8zM540 97h8v8h-8zM577 97h8v8h-8zM615 97h7v8h-7zM711 97h8v8h-8zM741 97h8v8h-8zM533 105h7v7h-7zM600 105h7v7h-7zM615 105h7v7h-7zM652 105h7v7h-7zM793 105h8v7h-8zM830 105h8v7h-8zM332 112h7v8h-7zM563 112h7v8h-7zM577 112h15v8h-15zM711 112h8v8h-8zM868 112h7v8h-7zM533 120h7v7h-7zM563 120h7v7h-7zM585 120h7v7h-7zM458 127h8v8h-8zM510 127h8v8h-8zM533 127h15v8h-15zM682 127h7v8h-7zM741 127h8v8h-8zM786 127h7v8h-7zM868 127h15v8h-15zM540 135h8v7h-8zM682 135h7v7h-7zM801 135h7v7h-7zM830 135h8v7h-8zM332 142h7v7h-7zM540 142h8v7h-8zM734 142h7v7h-7zM868 142h7v7h-7zM272 149h15v8h-15zM369 149h7v8h-7zM689 149h15v8h-15zM458 157h8v7h-8zM503 157h7v7h-7zM533 157h15v7h-15zM749 157h7v7h-7zM875 157h8v7h-8zM458 164h8v8h-8zM830 164h8v8h-8zM496 172h7v7h-7zM592 172h8v7h-8zM793 172h8v7h-8zM823 172h7v7h-7zM242 179h8v8h-8zM764 179h7v8h-7zM778 179h8v8h-8zM242 187h8v7h-8zM332 187h7v7h-7zM458 187h8v7h-8zM525 187h23v7h-23zM771 187h7v7h-7zM860 187h8v7h-8zM451 194h7v7h-7zM466 194h7v7h-7zM533 194h7v7h-7zM563 194h7v7h-7zM719 194h7v7h-7zM838 194h15v7h-15zM324 209h8v7h-8zM540 209h8v7h-8zM667 209h7v7h-7zM734 209h15v7h-15zM830 209h8v7h-8zM332 216h7v8h-7zM451 216h7v8h-7zM533 216h15v8h-15zM592 216h8v8h-8zM719 216h7v8h-7zM741 216h15v8h-15zM786 216h7v8h-7zM324 224h8v7h-8zM458 224h8v7h-8zM615 224h7v7h-7zM652 224h7v7h-7zM302 231h7v8h-7zM317 231h7v8h-7zM354 231h8v8h-8zM205 239h8v7h-8zM235 239h7v7h-7zM280 239h7v7h-7zM309 239h8v7h-8zM391 239h8v7h-8zM414 239h7v7h-7zM540 239h8v7h-8zM667 239h15v7h-15zM689 239h8v7h-8zM741 239h8v7h-8zM771 246h7v8h-7zM838 246h7v8h-7zM868 246h7v8h-7zM622 254h8v7h-8zM682 254h7v7h-7zM324 261h8v7h-8zM830 261h8v7h-8zM741 268h8v8h-8zM816 268h7v8h-7zM242 276h8v7h-8zM644 276h8v7h-8zM816 276h7v7h-7zM875 276h8v7h-8zM503 283h15v8h-15zM533 283h7v8h-7zM771 283h7v8h-7zM816 283h7v8h-7zM830 283h8v8h-8zM533 291h7v7h-7zM734 291h7v7h-7zM801 291h7v7h-7zM332 298h7v8h-7zM496 298h7v8h-7zM525 298h8v8h-8zM592 298h8v8h-8zM719 298h7v8h-7zM786 298h7v8h-7zM875 298h8v8h-8zM458 306h8v7h-8zM503 306h7v7h-7zM540 306h8v7h-8zM458 313h8v7h-8zM503 313h7v7h-7zM533 313h7v7h-7zM577 313h8v7h-8zM741 313h8v7h-8zM801 313h7v7h-7zM332 320h7v8h-7zM503 320h15v8h-15zM533 320h7v8h-7zM793 320h8v8h-8zM838 320h7v8h-7zM183 328h7v7h-7zM451 328h7v7h-7zM466 328h7v7h-7zM496 328h7v7h-7zM518 328h7v7h-7zM570 328h7v7h-7zM563 335h7v8h-7zM592 335h8v8h-8zM711 335h8v8h-8zM756 335h8v8h-8zM823 335h7v8h-7zM868 335h7v8h-7zM771 343h7v7h-7zM533 350h7v8h-7zM682 350h7v8h-7zM734 350h7v8h-7zM287 358h8v7h-8zM309 358h8v7h-8zM421 358h8v7h-8zM711 358h8v7h-8zM771 358h7v7h-7zM786 358h7v7h-7zM875 358h8v7h-8zM220 365h8v7h-8zM250 365h15v7h-15zM280 365h7v7h-7zM317 365h7v7h-7zM399 365h15v7h-15zM711 365h8v7h-8zM786 365h7v7h-7zM875 365h8v7h-8zM183 372h7v8h-7zM287 372h8v8h-8zM421 372h8v8h-8zM860 372h8v8h-8zM548 380h7v7h-7zM771 380h7v7h-7zM816 380h7v7h-7zM830 380h8v7h-8zM138 387h8v8h-8zM548 387h7v8h-7zM652 387h7v8h-7zM711 387h8v8h-8zM816 387h7v8h-7zM830 387h8v8h-8zM860 387h8v8h-8zM548 395h7v7h-7zM577 395h8v7h-8zM615 395h7v7h-7zM674 395h8v7h-8zM689 395h8v7h-8zM704 395h7v7h-7zM719 395h7v7h-7zM734 395h7v7h-7zM265 402h7v8h-7zM391 402h8v8h-8zM421 402h8v8h-8zM652 402h7v8h-7zM741 402h15v8h-15zM250 410h7v7h-7zM376 410h8v7h-8zM399 410h22v7h-22zM786 410h7v7h-7zM183 417h7v8h-7zM220 417h8v8h-8zM376 417h8v8h-8zM414 417h7v8h-7zM637 417h7v8h-7zM116 425h7v7h-7zM138 425h15v7h-15zM421 425h8v7h-8zM764 425h7v7h-7zM138 432h15v7h-15zM175 432h15v7h-15zM280 432h7v7h-7zM391 432h8v7h-8zM749 432h7v7h-7zM771 432h7v7h-7zM860 432h8v7h-8zM138 439h8v8h-8zM161 439h7v8h-7zM198 439h7v8h-7zM213 439h15v8h-15zM250 439h7v8h-7zM280 439h15v8h-15zM309 439h8v8h-8zM376 439h15v8h-15zM406 439h15v8h-15zM443 439h8v8h-8zM711 439h8v8h-8zM860 439h15v8h-15zM190 447h8v7h-8zM220 447h22v7h-22zM250 447h7v7h-7zM280 447h7v7h-7zM302 447h15v7h-15zM332 447h7v7h-7zM399 447h7v7h-7zM607 447h8v7h-8zM816 447h7v7h-7zM860 447h15v7h-15zM473 454h23v8h-23zM607 454h8v8h-8zM816 454h7v8h-7zM175 469h8v8h-8zM205 469h15v8h-15zM287 469h8v8h-8zM429 469h7v8h-7zM116 477h7v7h-7zM421 477h8v7h-8zM630 477h7v7h-7zM161 484h7v7h-7zM190 484h8v7h-8zM205 484h8v7h-8zM406 484h8v7h-8zM488 484h8v7h-8zM630 484h7v7h-7zM205 491h15v8h-15zM607 491h8v8h-8zM265 499h7v7h-7zM309 499h8v7h-8zM391 499h8v7h-8zM429 499h7v7h-7zM198 506h7v8h-7zM540 514h15v7h-15zM585 514h7v7h-7zM622 514h8v7h-8zM190 521h15v8h-15zM317 521h7v8h-7zM488 521h8v8h-8zM183 529h7v7h-7zM347 529h7v7h-7zM607 529h8v7h-8zM570 536h15v8h-15zM674 536h8v8h-8zM756 536h8v8h-8zM868 536h7v8h-7zM510 544h8v7h-8zM674 544h8v7h-8zM786 544h7v7h-7zM369 551h7v7h-7zM711 551h8v7h-8zM198 558h7v8h-7zM317 558h7v8h-7zM481 558h7v8h-7zM496 558h7v8h-7zM175 566h15v7h-15zM302 573h7v8h-7zM332 573h7v8h-7zM108 581h8v7h-8zM175 581h8v7h-8zM332 581h7v7h-7zM488 581h8v7h-8zM630 581h14v7h-14zM220 588h15v8h-15zM347 588h7v8h-7zM443 588h8v8h-8zM242 596h8v7h-8zM332 596h7v7h-7zM488 596h8v7h-8zM116 603h7v7h-7zM242 603h8v7h-8zM488 610h8v8h-8zM190 618h8v7h-8zM205 618h8v7h-8zM429 618h7v7h-7zM451 618h15v7h-15zM481 618h7v7h-7zM533 618h7v7h-7zM644 618h8v7h-8zM816 618h7v7h-7zM830 618h8v7h-8zM175 625h8v8h-8zM287 625h8v8h-8zM309 625h8v8h-8zM391 625h8v8h-8zM488 625h8v8h-8zM116 633h7v7h-7zM131 633h7v7h-7zM235 640h7v8h-7zM302 640h7v8h-7zM384 640h7v8h-7zM443 640h8v8h-8zM488 640h8v8h-8zM190 648h8v7h-8zM220 648h8v7h-8zM302 648h15v7h-15zM332 648h7v7h-7zM362 648h7v7h-7zM406 648h8v7h-8zM496 648h7v7h-7zM250 655h7v7h-7zM309 655h8v7h-8zM496 655h7v7h-7zM525 655h8v7h-8zM429 662h7v8h-7zM630 662h7v8h-7zM161 670h7v7h-7zM272 670h8v7h-8zM518 670h7v7h-7zM123 677h8v8h-8zM280 677h7v8h-7zM339 677h8v8h-8zM376 677h8v8h-8zM436 677h7v8h-7zM451 677h7v8h-7zM473 677h8v8h-8zM525 677h8v8h-8zM272 685h8v7h-8zM153 692h8v8h-8zM220 692h8v8h-8zM309 692h8v8h-8zM391 692h8v8h-8zM451 692h15v8h-15zM503 692h7v8h-7zM637 692h7v8h-7zM198 700h7v7h-7zM265 700h7v7h-7zM414 700h7v7h-7zM168 707h7v8h-7zM228 707h7v8h-7zM384 707h7v8h-7zM406 707h8v8h-8zM362 722h22v7h-22zM473 722h15v7h-15zM540 722h15v7h-15zM711 722h8v7h-8zM830 722h8v7h-8zM860 722h8v7h-8zM875 722h8v7h-8zM116 729h7v8h-7zM265 729h7v8h-7zM429 729h7v8h-7zM153 737h8v7h-8zM198 737h7v7h-7zM228 737h7v7h-7zM257 737h8v7h-8zM302 737h7v7h-7zM354 737h8v7h-8zM376 737h8v7h-8zM473 737h15v7h-15zM711 737h8v7h-8zM816 737h7v7h-7zM287 744h8v8h-8zM339 744h8v8h-8zM414 744h7v8h-7zM287 752h8v7h-8zM280 767h7v7h-7zM466 767h7v7h-7zM481 767h7v7h-7zM525 767h23v7h-23zM816 767h7v7h-7zM123 774h8v7h-8zM153 774h8v7h-8zM205 774h8v7h-8zM220 774h8v7h-8zM235 774h7v7h-7zM339 774h8v7h-8zM429 774h7v7h-7zM533 774h15v7h-15zM630 774h7v7h-7zM220 781h8v8h-8zM250 781h7v8h-7zM369 781h7v8h-7zM391 781h8v8h-8zM451 781h15v8h-15zM816 781h7v8h-7z"/><path fill="#1ea2e0" d="M719 16h7v7h-7zM830 16h8v7h-8zM503 23h7v7h-7zM637 30h7v8h-7zM652 30h7v8h-7zM667 38h7v7h-7zM801 38h7v7h-7zM622 45h8v8h-8zM667 45h7v8h-7zM667 53h7v7h-7zM644 60h8v8h-8zM630 75h7v7h-7zM652 82h7v8h-7zM332 90h7v7h-7zM607 97h8v8h-8zM488 112h8v8h-8zM778 112h8v8h-8zM488 120h8v7h-8zM488 127h8v8h-8zM488 135h8v7h-8zM741 149h15v8h-15zM771 149h7v8h-7zM295 172h7v7h-7zM778 172h8v7h-8zM265 201h7v8h-7zM734 201h22v8h-22zM615 209h7v7h-7zM652 216h7v8h-7zM630 224h7v7h-7zM183 239h7v7h-7zM615 313h7v7h-7zM205 395h30v7h-30zM116 410h7v7h-7zM190 514h8v7h-8zM302 521h7v8h-7zM406 521h8v8h-8zM138 529h8v7h-8zM168 536h7v8h-7zM317 536h7v8h-7zM123 544h8v7h-8zM153 551h8v7h-8zM123 558h8v8h-8zM175 558h8v8h-8zM309 558h8v8h-8zM131 573h22v8h-22zM108 625h8v8h-8zM295 640h7v8h-7zM242 648h8v7h-8zM295 648h7v7h-7zM242 655h8v7h-8zM295 655h7v7h-7zM242 677h8v8h-8zM205 685h8v7h-8zM265 685h7v7h-7zM131 707h7v8h-7zM108 737h8v7h-8z"/><path fill="#18b8c0" d="M726 16h8v7h-8zM704 45h7v8h-7zM704 53h7v7h-7zM488 60h8v8h-8zM242 68h8v7h-8zM339 90h8v7h-8zM793 90h8v7h-8zM801 105h7v7h-7zM161 149h7v8h-7zM362 149h7v8h-7zM369 201h7v8h-7zM183 246h7v8h-7zM242 268h8v8h-8zM295 276h7v7h-7zM153 395h8v7h-8zM138 610h15v8h-15zM108 633h8v7h-8zM183 700h7v7h-7zM198 707h7v8h-7z"/><path fill="#2c8aef" d="M764 16h7v7h-7zM488 23h8v7h-8zM615 23h7v7h-7zM607 30h8v8h-8zM630 30h7v8h-7zM778 38h8v7h-8zM555 112h8v8h-8zM555 120h8v7h-8zM630 120h7v7h-7zM607 127h8v8h-8zM644 127h8v8h-8zM630 135h7v7h-7zM644 135h8v7h-8zM607 142h8v7h-8zM630 142h7v7h-7zM644 142h8v7h-8zM630 149h7v8h-7zM644 149h8v8h-8zM630 164h7v8h-7zM644 164h8v8h-8zM615 172h7v7h-7zM637 172h7v7h-7zM630 187h7v7h-7zM644 187h8v7h-8zM630 194h7v7h-7zM644 201h8v8h-8zM644 209h8v7h-8zM644 216h8v8h-8zM853 216h7v8h-7zM555 224h8v7h-8zM607 224h8v7h-8zM503 231h7v8h-7zM585 231h15v8h-15zM741 231h15v8h-15zM607 246h8v8h-8zM630 254h7v7h-7zM607 261h8v7h-8zM607 283h8v8h-8zM644 291h8v7h-8zM607 306h8v7h-8zM644 313h8v7h-8zM607 320h8v8h-8zM853 320h7v8h-7zM778 328h8v7h-8zM778 335h8v8h-8zM116 395h7v7h-7zM324 410h8v7h-8zM205 462h15v7h-15zM317 462h7v7h-7zM577 462h8v7h-8zM644 462h15v7h-15zM749 462h7v7h-7zM801 462h7v7h-7zM875 462h8v7h-8zM555 484h8v7h-8zM324 491h8v8h-8zM324 499h8v7h-8zM123 514h8v7h-8zM220 514h8v7h-8zM235 514h7v7h-7zM317 514h7v7h-7zM339 514h8v7h-8zM354 514h8v7h-8zM376 514h8v7h-8zM399 514h7v7h-7zM414 514h7v7h-7zM704 514h7v7h-7zM786 514h7v7h-7zM816 514h7v7h-7zM116 521h7v8h-7zM265 521h7v8h-7zM123 536h8v8h-8zM213 536h7v8h-7zM228 536h22v8h-22zM257 536h8v8h-8zM280 536h15v8h-15zM347 536h7v8h-7zM265 544h7v7h-7zM220 551h30v7h-30zM257 551h8v7h-8zM280 551h7v7h-7zM295 551h22v7h-22zM384 551h7v7h-7zM406 551h8v7h-8zM555 551h8v7h-8zM555 558h8v8h-8zM808 581h8v7h-8zM607 610h8v8h-8zM324 648h8v7h-8zM324 655h8v7h-8zM555 655h8v7h-8zM108 670h8v7h-8zM131 685h7v7h-7zM421 685h15v7h-15zM607 692h8v8h-8zM555 707h8v8h-8zM674 715h8v7h-8zM607 722h8v7h-8zM309 759h8v8h-8zM414 759h7v8h-7zM555 781h8v8h-8z"/><path fill="#10b3d4" d="M771 16h7v7h-7zM868 23h7v7h-7zM749 30h7v8h-7zM510 38h8v7h-8zM786 38h7v7h-7zM868 38h7v7h-7zM183 45h7v8h-7zM510 45h8v8h-8zM510 53h8v7h-8zM801 53h7v7h-7zM615 75h7v7h-7zM458 82h8v8h-8zM533 82h7v8h-7zM577 82h8v8h-8zM682 82h7v8h-7zM138 90h8v7h-8zM533 90h7v7h-7zM577 90h8v7h-8zM615 90h7v7h-7zM630 90h7v7h-7zM816 120h7v7h-7zM830 149h8v8h-8zM801 172h7v7h-7zM845 172h8v7h-8zM600 194h7v7h-7zM332 209h7v7h-7zM510 209h8v7h-8zM830 216h8v8h-8zM384 231h7v8h-7zM302 239h7v7h-7zM548 239h7v7h-7zM600 239h7v7h-7zM615 283h7v8h-7zM652 283h7v8h-7zM324 291h8v7h-8zM622 298h8v8h-8zM615 306h7v7h-7zM652 313h7v7h-7zM652 320h7v8h-7zM830 320h8v8h-8zM622 328h8v7h-8zM823 328h7v7h-7zM555 335h8v8h-8zM615 350h7v8h-7zM830 350h8v8h-8zM644 358h8v7h-8zM175 365h8v7h-8zM853 372h7v8h-7zM131 417h22v8h-22zM302 417h7v8h-7zM175 439h15v8h-15zM332 454h7v8h-7zM429 462h7v7h-7zM175 484h15v7h-15zM287 506h8v8h-8zM332 506h7v8h-7zM853 506h7v8h-7zM734 514h7v7h-7zM838 514h7v7h-7zM168 521h7v8h-7zM183 521h7v8h-7zM376 521h8v8h-8zM399 521h7v8h-7zM443 521h8v8h-8zM391 529h8v7h-8zM421 529h8v7h-8zM183 536h7v8h-7zM875 536h8v8h-8zM451 551h7v7h-7zM376 558h8v8h-8zM406 558h15v8h-15zM175 588h8v8h-8zM607 640h8v8h-8zM123 655h8v7h-8zM764 662h7v8h-7zM756 670h8v7h-8zM108 677h8v8h-8zM131 692h7v8h-7zM146 707h7v8h-7zM265 707h7v8h-7zM213 722h7v7h-7zM421 729h8v8h-8zM242 737h8v7h-8zM309 737h8v7h-8zM414 737h7v7h-7zM443 737h8v7h-8zM607 744h8v8h-8zM265 752h7v7h-7zM466 759h7v8h-7zM600 759h7v8h-7zM116 774h7v7h-7zM131 774h7v7h-7zM630 781h7v8h-7z"/><path fill="#2395ea" d="M778 16h8v7h-8zM503 38h7v7h-7zM503 45h7v8h-7zM778 45h8v8h-8zM644 68h8v7h-8zM265 149h7v8h-7zM309 149h8v8h-8zM242 172h8v7h-8zM503 172h7v7h-7zM525 201h15v8h-15zM242 216h8v8h-8zM533 231h7v8h-7zM630 261h7v7h-7zM644 261h8v7h-8zM644 268h8v8h-8zM644 283h8v8h-8zM853 283h7v8h-7zM548 298h7v8h-7zM548 328h7v7h-7zM816 328h7v7h-7zM830 328h8v7h-8zM637 335h7v8h-7zM607 350h8v8h-8zM630 350h7v8h-7zM555 365h8v7h-8zM555 402h8v8h-8zM131 410h15v7h-15zM265 410h7v7h-7zM555 410h8v7h-8zM295 432h7v7h-7zM853 432h7v7h-7zM295 439h7v8h-7zM324 439h8v8h-8zM555 439h8v8h-8zM391 454h8v8h-8zM421 454h8v8h-8zM458 462h8v7h-8zM496 462h14v7h-14zM533 462h7v7h-7zM443 514h8v7h-8zM354 536h8v8h-8zM443 536h8v8h-8zM429 544h7v7h-7zM161 551h7v7h-7zM354 551h15v7h-15zM376 551h8v7h-8zM108 685h8v7h-8zM138 685h8v7h-8zM421 722h8v7h-8zM421 737h8v7h-8zM376 759h8v8h-8zM525 759h8v8h-8z"/><path fill="#4253f0" d="M808 16h8v7h-8zM853 16h7v7h-7zM644 53h8v7h-8zM808 164h8v8h-8zM146 551h7v7h-7zM108 715h8v7h-8zM257 715h8v7h-8zM108 759h8v8h-8z"/><path fill="#21beaf" d="M823 16h7v7h-7zM875 16h8v7h-8zM563 23h7v7h-7zM689 23h8v7h-8zM295 30h7v8h-7zM295 38h7v7h-7zM689 38h8v7h-8zM295 45h7v8h-7zM786 45h7v8h-7zM697 53h7v7h-7zM719 53h7v7h-7zM295 60h7v8h-7zM540 82h8v8h-8zM845 82h8v8h-8zM302 90h7v7h-7zM830 90h8v7h-8zM734 112h7v8h-7zM875 112h8v8h-8zM332 120h7v7h-7zM667 120h7v7h-7zM734 120h7v7h-7zM786 120h7v7h-7zM332 127h7v8h-7zM332 135h7v7h-7zM510 135h8v7h-8zM875 142h8v7h-8zM250 149h15v8h-15zM436 149h7v8h-7zM585 149h7v8h-7zM242 157h8v7h-8zM242 164h8v8h-8zM503 164h7v8h-7zM518 172h7v7h-7zM533 172h7v7h-7zM577 172h8v7h-8zM704 172h7v7h-7zM503 187h7v7h-7zM548 187h7v7h-7zM585 194h7v7h-7zM123 201h23v8h-23zM153 201h8v8h-8zM339 201h8v8h-8zM436 201h7v8h-7zM183 209h7v7h-7zM749 209h7v7h-7zM845 216h8v8h-8zM339 231h8v8h-8zM213 239h22v7h-22zM697 239h7v7h-7zM868 239h7v7h-7zM295 246h7v8h-7zM324 246h8v8h-8zM548 261h7v7h-7zM458 268h8v8h-8zM503 268h7v8h-7zM540 283h8v8h-8zM741 291h8v7h-8zM778 306h8v7h-8zM682 313h7v7h-7zM488 335h8v8h-8zM242 343h8v7h-8zM295 343h7v7h-7zM362 365h7v7h-7zM778 372h8v8h-8zM429 395h7v7h-7zM257 410h8v7h-8zM280 410h7v7h-7zM362 410h7v7h-7zM228 417h7v8h-7zM630 417h7v8h-7zM265 425h7v7h-7zM778 432h8v7h-8zM265 439h7v8h-7zM175 447h8v7h-8zM376 447h8v7h-8zM280 454h7v8h-7zM354 454h8v8h-8zM711 454h8v8h-8zM116 469h7v8h-7zM265 484h7v7h-7zM242 491h8v8h-8zM287 491h8v8h-8zM868 506h7v8h-7zM510 536h8v8h-8zM711 536h8v8h-8zM771 551h7v7h-7zM853 558h7v8h-7zM213 573h7v8h-7zM406 588h8v8h-8zM116 596h7v7h-7zM131 596h7v7h-7zM146 603h7v7h-7zM332 603h7v7h-7zM265 610h7v8h-7zM548 618h7v7h-7zM630 618h7v7h-7zM146 625h7v8h-7zM205 640h15v8h-15zM384 648h7v7h-7zM302 655h7v7h-7zM853 670h7v7h-7zM644 677h8v8h-8zM399 685h7v7h-7zM466 685h7v7h-7zM525 685h8v7h-8zM138 692h8v8h-8zM213 692h7v8h-7zM108 729h8v8h-8zM183 737h7v7h-7zM875 737h8v7h-8zM175 752h8v7h-8zM309 752h8v7h-8zM652 759h7v8h-7zM764 759h7v8h-7zM860 759h8v8h-8zM853 767h7v7h-7zM332 774h7v7h-7zM600 774h7v7h-7zM108 781h8v8h-8zM205 781h8v8h-8zM235 781h7v8h-7zM830 781h8v8h-8z"/><path fill="#faba3e" d="M123 23h8v7h-8zM116 30h7v8h-7zM131 30h15v8h-15zM123 38h8v7h-8zM123 45h8v8h-8zM190 68h8v7h-8zM235 68h7v7h-7zM235 75h7v7h-7zM161 97h7v8h-7zM198 97h7v8h-7zM213 97h15v8h-15zM235 97h7v8h-7zM190 105h8v7h-8zM205 105h23v7h-23zM198 112h7v8h-7zM265 112h7v8h-7zM190 120h15v7h-15zM220 120h8v7h-8zM190 127h15v8h-15zM213 127h7v8h-7zM235 135h7v7h-7zM302 135h7v7h-7zM161 142h14v7h-14zM190 142h8v7h-8zM228 142h7v7h-7zM265 164h7v8h-7zM287 164h8v8h-8zM205 172h8v7h-8zM257 172h8v7h-8zM287 172h8v7h-8zM257 194h15v7h-15zM228 209h7v7h-7zM354 254h8v7h-8zM347 261h7v7h-7zM376 268h8v8h-8zM399 268h7v8h-7zM362 283h7v8h-7zM362 306h7v7h-7zM577 469h8v8h-8zM667 469h7v8h-7zM577 477h8v7h-8zM563 484h14v7h-14zM697 566h7v7h-7zM563 573h7v8h-7zM704 596h7v7h-7zM659 603h8v7h-8zM689 610h8v8h-8zM726 625h8v8h-8zM719 633h7v7h-7zM875 774h8v7h-8zM868 781h7v8h-7z"/><path fill="#fcd430" d="M131 23h7v7h-7zM116 38h7v7h-7zM704 603h7v7h-7zM697 610h7v8h-7z"/><path fill="#fcc238" d="M138 23h8v7h-8zM116 45h7v8h-7zM146 45h7v8h-7zM138 53h8v7h-8zM168 68h7v7h-7zM161 75h7v7h-7zM235 112h7v8h-7zM235 120h7v7h-7zM205 142h15v7h-15zM257 157h8v7h-8zM250 164h7v8h-7zM682 566h7v7h-7zM697 573h7v8h-7zM704 581h7v7h-7zM659 588h8v8h-8zM689 588h8v8h-8zM682 596h7v7h-7zM667 603h7v7h-7zM674 610h8v8h-8z"/><path fill="#f0b83e" d="M146 23h7v7h-7zM116 53h7v7h-7zM220 68h8v7h-8zM228 105h14v7h-14zM220 112h8v8h-8zM161 127h7v8h-7zM205 127h8v8h-8zM228 127h14v8h-14zM250 127h7v8h-7zM198 135h7v7h-7zM220 135h8v7h-8zM198 142h7v7h-7zM220 142h8v7h-8zM220 157h8v7h-8zM436 283h7v8h-7zM399 291h15v7h-15zM384 306h7v7h-7zM384 313h7v7h-7zM376 343h8v7h-8zM466 358h7v7h-7zM451 372h7v8h-7zM652 521h7v8h-7zM615 558h7v8h-7zM741 581h8v7h-8zM734 588h7v8h-7zM726 618h8v7h-8zM711 633h8v7h-8zM786 633h15v7h-15zM682 640h7v8h-7zM674 648h8v7h-8zM756 648h8v7h-8zM756 655h8v7h-8zM741 662h15v8h-15zM726 692h8v8h-8zM726 700h8v7h-8z"/><path fill="#b2c03a" d="M175 23h8v7h-8zM153 30h8v8h-8zM175 30h8v8h-8zM354 30h8v8h-8zM123 60h8v8h-8zM443 68h8v7h-8zM496 68h7v7h-7zM116 82h15v8h-15zM481 97h7v8h-7zM592 97h8v8h-8zM592 105h8v7h-8zM347 112h7v8h-7zM362 112h7v8h-7zM376 112h8v8h-8zM272 127h8v8h-8zM443 142h8v7h-8zM354 157h15v7h-15zM481 164h7v8h-7zM220 179h8v8h-8zM302 179h7v8h-7zM414 187h7v7h-7zM429 194h7v7h-7zM272 209h8v7h-8zM429 209h22v7h-22zM354 224h8v7h-8zM391 224h8v7h-8zM376 246h23v8h-23zM436 246h15v8h-15zM205 254h8v7h-8zM376 254h23v7h-23zM123 261h8v7h-8zM250 261h7v7h-7zM317 261h7v7h-7zM384 261h7v7h-7zM674 261h8v7h-8zM205 268h8v8h-8zM250 268h7v8h-7zM570 276h7v7h-7zM205 283h8v8h-8zM339 283h15v8h-15zM339 291h23v7h-23zM317 298h7v8h-7zM339 298h15v8h-15zM689 306h8v7h-8zM473 313h8v7h-8zM280 320h7v8h-7zM473 320h8v8h-8zM287 335h8v8h-8zM302 335h7v8h-7zM302 343h7v7h-7zM339 343h8v7h-8zM689 343h8v7h-8zM161 350h7v8h-7zM235 350h7v8h-7zM302 350h7v8h-7zM339 350h8v8h-8zM458 358h8v7h-8zM473 358h8v7h-8zM570 358h7v7h-7zM451 365h7v7h-7zM518 372h7v8h-7zM406 380h15v7h-15zM451 380h7v7h-7zM525 380h8v7h-8zM726 380h8v7h-8zM190 387h8v8h-8zM257 387h8v8h-8zM525 387h8v8h-8zM161 402h7v8h-7zM525 402h8v8h-8zM592 410h15v7h-15zM615 410h7v7h-7zM652 410h7v7h-7zM719 410h7v7h-7zM756 417h8v8h-8zM466 425h7v7h-7zM473 432h15v7h-15zM496 432h7v7h-7zM570 432h7v7h-7zM585 439h7v8h-7zM615 447h15v7h-15zM652 447h7v7h-7zM741 469h15v8h-15zM823 469h7v8h-7zM838 469h15v8h-15zM369 477h7v7h-7zM451 477h7v7h-7zM525 477h8v7h-8zM793 477h8v7h-8zM823 477h7v7h-7zM600 484h7v7h-7zM697 484h7v7h-7zM801 484h7v7h-7zM533 491h7v8h-7zM190 499h15v7h-15zM503 499h7v7h-7zM622 499h8v7h-8zM659 499h8v7h-8zM734 499h7v7h-7zM503 506h7v8h-7zM577 506h8v8h-8zM503 521h7v8h-7zM540 521h8v8h-8zM637 521h7v8h-7zM659 521h8v8h-8zM540 529h8v7h-8zM592 529h8v7h-8zM689 529h15v7h-15zM741 529h8v7h-8zM615 544h7v7h-7zM503 558h7v8h-7zM540 558h8v8h-8zM697 558h7v8h-7zM592 566h8v7h-8zM615 566h7v7h-7zM354 581h8v7h-8zM868 581h7v7h-7zM399 596h7v7h-7zM436 596h7v7h-7zM622 596h8v7h-8zM793 596h8v7h-8zM845 596h8v7h-8zM577 603h8v7h-8zM622 603h8v7h-8zM652 603h7v7h-7zM801 603h7v7h-7zM845 603h8v7h-8zM868 603h7v7h-7zM845 610h8v8h-8zM868 610h7v8h-7zM845 618h8v7h-8zM868 618h7v7h-7zM503 625h7v8h-7zM473 633h8v7h-8zM592 640h8v8h-8zM563 648h7v7h-7zM622 648h8v7h-8zM563 655h7v7h-7zM510 662h8v8h-8zM570 700h7v7h-7zM689 700h8v7h-8zM577 707h8v8h-8zM697 707h7v8h-7zM563 729h14v8h-14zM563 744h7v8h-7zM563 752h7v7h-7zM689 752h30v7h-30zM674 774h8v7h-8zM697 774h22v7h-22z"/><path fill="#d6b930" d="M257 23h8v7h-8zM309 23h8v7h-8zM205 45h8v8h-8zM466 60h7v8h-7zM205 68h15v7h-15zM339 68h8v7h-8zM220 75h8v7h-8zM287 75h8v7h-8zM376 75h15v7h-15zM406 75h15v7h-15zM429 75h7v7h-7zM473 75h8v7h-8zM138 112h8v8h-8zM161 112h7v8h-7zM161 120h7v7h-7zM265 120h7v7h-7zM362 120h7v7h-7zM436 120h7v7h-7zM168 127h7v8h-7zM280 135h7v7h-7zM414 135h7v7h-7zM265 157h15v7h-15zM287 157h8v7h-8zM116 164h7v8h-7zM272 164h15v8h-15zM443 164h8v8h-8zM213 172h7v7h-7zM250 172h7v7h-7zM250 179h15v8h-15zM280 179h7v8h-7zM228 187h7v7h-7zM257 187h8v7h-8zM272 187h8v7h-8zM287 187h8v7h-8zM168 194h7v7h-7zM250 194h7v7h-7zM280 194h7v7h-7zM362 209h7v7h-7zM116 216h7v8h-7zM161 246h7v8h-7zM213 268h7v8h-7zM302 268h7v8h-7zM168 283h7v8h-7zM168 291h7v7h-7zM429 291h7v7h-7zM406 298h8v8h-8zM168 313h7v7h-7zM391 313h8v7h-8zM168 320h7v8h-7zM228 320h7v8h-7zM436 320h15v8h-15zM168 335h7v8h-7zM384 335h7v8h-7zM213 343h7v7h-7zM414 343h7v7h-7zM466 343h15v7h-15zM257 350h8v8h-8zM414 350h7v8h-7zM473 350h8v8h-8zM153 372h8v8h-8zM436 372h7v8h-7zM168 380h7v7h-7zM436 380h15v7h-15zM518 410h7v7h-7zM570 417h7v8h-7zM667 417h7v8h-7zM503 425h7v7h-7zM652 454h7v8h-7zM756 469h8v8h-8zM510 477h8v7h-8zM667 477h15v7h-15zM756 477h8v7h-8zM659 491h8v8h-8zM674 491h8v8h-8zM697 491h7v8h-7zM719 491h15v8h-15zM600 499h7v7h-7zM592 506h8v8h-8zM652 529h7v7h-7zM682 529h7v7h-7zM652 536h7v8h-7zM652 544h7v7h-7zM548 558h7v8h-7zM622 558h22v8h-22zM585 566h7v7h-7zM711 566h15v7h-15zM749 566h15v7h-15zM510 573h8v8h-8zM570 573h7v8h-7zM734 573h22v8h-22zM786 573h7v8h-7zM801 573h7v8h-7zM570 581h7v7h-7zM585 581h7v7h-7zM734 581h7v7h-7zM622 588h8v8h-8zM719 588h7v8h-7zM741 588h8v8h-8zM711 596h15v7h-15zM734 596h7v7h-7zM756 596h8v7h-8zM585 603h7v7h-7zM741 603h8v7h-8zM659 618h8v7h-8zM689 618h8v7h-8zM741 618h8v7h-8zM585 625h7v8h-7zM659 625h8v8h-8zM682 625h15v8h-15zM585 633h7v7h-7zM667 640h15v8h-15zM689 640h8v8h-8zM667 648h7v7h-7zM682 648h7v7h-7zM697 648h7v7h-7zM711 648h8v7h-8zM771 648h15v7h-15zM801 648h7v7h-7zM659 655h15v7h-15zM563 662h14v8h-14zM659 662h8v8h-8zM689 662h8v8h-8zM771 662h7v8h-7zM741 677h8v8h-8zM756 677h8v8h-8zM778 677h8v8h-8zM741 685h8v7h-8zM771 685h7v7h-7zM786 685h7v7h-7zM667 692h7v8h-7zM778 692h8v8h-8zM801 700h7v7h-7zM667 707h7v8h-7zM741 707h8v8h-8zM793 707h8v8h-8z"/><path fill="#ddb830" d="M287 23h8v7h-8zM146 30h7v8h-7zM161 30h7v8h-7zM257 30h8v8h-8zM287 45h8v8h-8zM123 53h8v7h-8zM123 68h8v7h-8zM473 68h8v7h-8zM198 75h7v7h-7zM362 75h7v7h-7zM168 105h7v7h-7zM287 127h8v8h-8zM272 135h8v7h-8zM123 164h8v8h-8zM302 164h7v8h-7zM339 164h15v8h-15zM228 179h7v8h-7zM116 194h7v7h-7zM138 194h8v7h-8zM220 194h8v7h-8zM257 209h8v7h-8zM414 209h7v7h-7zM347 216h7v8h-7zM257 246h8v8h-8zM257 254h8v7h-8zM309 254h8v7h-8zM168 268h7v8h-7zM473 283h8v8h-8zM302 320h7v8h-7zM570 343h7v7h-7zM161 380h7v7h-7zM376 380h8v7h-8zM518 380h7v7h-7zM473 425h8v7h-8zM674 425h8v7h-8zM689 425h15v7h-15zM615 454h7v8h-7zM436 477h7v7h-7zM615 491h15v8h-15zM548 521h7v8h-7zM585 521h7v8h-7zM585 529h7v7h-7zM734 529h7v7h-7zM518 581h7v7h-7zM518 596h7v7h-7zM518 603h7v7h-7zM756 603h8v7h-8zM823 603h7v7h-7zM734 625h7v8h-7zM622 640h8v8h-8zM719 640h7v8h-7zM749 640h7v8h-7zM734 655h7v7h-7zM697 662h7v8h-7zM801 692h7v8h-7zM786 707h7v8h-7zM697 729h7v8h-7z"/><path fill="#2ac0a6" d="M332 23h7v7h-7zM369 23h7v7h-7zM466 23h7v7h-7zM332 38h7v7h-7zM570 38h7v7h-7zM324 45h8v8h-8zM697 45h7v8h-7zM793 45h8v8h-8zM875 45h8v8h-8zM295 53h7v7h-7zM324 53h8v7h-8zM786 53h7v7h-7zM242 60h8v8h-8zM860 68h8v7h-8zM860 75h8v7h-8zM295 82h7v8h-7zM704 82h7v8h-7zM756 82h8v8h-8zM205 90h15v7h-15zM280 90h7v7h-7zM399 90h22v7h-22zM674 90h8v7h-8zM719 90h7v7h-7zM771 90h7v7h-7zM801 97h7v8h-7zM242 105h8v7h-8zM845 105h8v7h-8zM860 105h15v7h-15zM183 112h7v8h-7zM659 112h8v8h-8zM786 112h7v8h-7zM183 120h7v7h-7zM830 120h8v7h-8zM860 120h8v7h-8zM860 127h8v8h-8zM830 142h8v7h-8zM153 149h8v8h-8zM198 149h7v8h-7zM510 149h15v8h-15zM734 157h7v7h-7zM756 172h8v7h-8zM875 172h8v7h-8zM600 179h7v8h-7zM615 179h7v8h-7zM183 187h7v7h-7zM324 194h8v7h-8zM577 194h8v7h-8zM622 194h8v7h-8zM667 194h7v7h-7zM682 194h7v7h-7zM771 194h7v7h-7zM860 194h8v7h-8zM146 201h7v8h-7zM175 201h8v8h-8zM600 209h7v7h-7zM622 209h8v7h-8zM801 209h7v7h-7zM860 209h8v7h-8zM563 216h7v8h-7zM838 216h7v8h-7zM138 231h15v8h-15zM287 231h8v8h-8zM116 239h7v7h-7zM131 239h7v7h-7zM399 239h7v7h-7zM443 239h8v7h-8zM801 239h7v7h-7zM533 246h7v8h-7zM816 254h7v7h-7zM488 261h8v7h-8zM600 261h7v7h-7zM540 268h8v8h-8zM116 276h7v7h-7zM749 291h7v7h-7zM183 306h7v7h-7zM332 306h7v7h-7zM816 306h7v7h-7zM183 313h7v7h-7zM771 313h7v7h-7zM183 320h7v8h-7zM458 320h8v8h-8zM749 320h7v8h-7zM875 320h8v8h-8zM674 328h8v7h-8zM697 328h7v7h-7zM659 335h8v8h-8zM332 350h7v8h-7zM414 365h7v7h-7zM116 372h7v8h-7zM860 380h8v7h-8zM354 395h8v7h-8zM652 395h7v7h-7zM756 395h8v7h-8zM830 402h8v8h-8zM816 410h7v7h-7zM242 417h8v8h-8zM242 425h8v7h-8zM630 432h14v7h-14zM339 439h8v8h-8zM362 447h7v7h-7zM764 454h7v8h-7zM309 469h8v8h-8zM131 477h7v7h-7zM287 484h8v7h-8zM764 491h7v8h-7zM607 499h8v7h-8zM816 499h7v7h-7zM272 506h8v8h-8zM302 506h7v8h-7zM354 506h8v8h-8zM592 514h8v7h-8zM272 521h8v8h-8zM287 529h8v7h-8zM302 529h7v7h-7zM525 536h8v8h-8zM823 536h7v8h-7zM845 536h8v8h-8zM525 544h8v7h-8zM823 544h7v7h-7zM875 544h8v7h-8zM786 551h7v7h-7zM816 551h7v7h-7zM875 551h8v7h-8zM488 558h8v8h-8zM764 558h7v8h-7zM205 566h8v7h-8zM429 566h7v7h-7zM287 573h8v8h-8zM183 581h7v7h-7zM421 581h8v7h-8zM287 588h8v8h-8zM138 603h8v7h-8zM421 603h8v7h-8zM175 610h8v8h-8zM183 625h7v8h-7zM250 640h7v8h-7zM384 655h7v7h-7zM414 655h7v7h-7zM175 662h8v8h-8zM265 662h7v8h-7zM488 662h8v8h-8zM548 670h7v7h-7zM585 670h7v7h-7zM652 670h7v7h-7zM778 670h8v7h-8zM183 677h7v8h-7zM287 677h8v8h-8zM406 677h8v8h-8zM764 685h7v7h-7zM146 692h7v8h-7zM205 692h8v8h-8zM644 692h8v8h-8zM816 692h7v8h-7zM138 700h8v7h-8zM190 707h8v8h-8zM302 707h7v8h-7zM332 707h7v8h-7zM347 722h7v7h-7zM399 722h7v7h-7zM503 722h7v7h-7zM592 722h8v7h-8zM644 722h8v7h-8zM786 722h7v7h-7zM630 729h14v8h-14zM213 737h7v7h-7zM235 737h7v7h-7zM496 737h7v7h-7zM309 744h8v8h-8zM198 752h7v7h-7zM630 752h7v7h-7zM161 767h14v7h-14zM198 767h7v7h-7zM213 767h15v7h-15zM287 767h8v7h-8zM302 767h7v7h-7zM473 767h8v7h-8zM198 774h7v7h-7zM138 781h8v8h-8zM265 781h7v8h-7zM414 781h7v8h-7zM637 781h15v8h-15z"/><path fill="#3dc793" d="M496 23h7v7h-7zM510 30h8v8h-8zM592 30h8v8h-8zM756 30h8v8h-8zM823 45h7v8h-7zM406 53h15v7h-15zM481 53h7v7h-7zM496 53h7v7h-7zM823 53h7v7h-7zM637 60h7v8h-7zM741 60h8v8h-8zM682 68h7v7h-7zM734 68h7v7h-7zM749 68h7v7h-7zM600 75h7v7h-7zM711 75h8v7h-8zM741 75h8v7h-8zM830 75h15v7h-15zM875 75h8v7h-8zM726 82h8v8h-8zM823 82h7v8h-7zM503 90h7v7h-7zM600 90h7v7h-7zM652 90h7v7h-7zM726 90h8v7h-8zM704 97h7v8h-7zM734 97h7v8h-7zM830 97h8v8h-8zM845 97h8v8h-8zM540 105h8v7h-8zM577 105h8v7h-8zM682 105h7v7h-7zM704 105h7v7h-7zM533 112h7v8h-7zM570 112h7v8h-7zM719 120h7v7h-7zM756 120h8v7h-8zM324 135h8v7h-8zM466 135h7v7h-7zM719 135h7v7h-7zM838 135h7v7h-7zM563 142h7v7h-7zM622 142h8v7h-8zM659 142h8v7h-8zM719 142h7v7h-7zM793 142h15v7h-15zM838 142h7v7h-7zM510 157h8v7h-8zM622 157h8v7h-8zM682 157h7v7h-7zM771 157h7v7h-7zM801 157h7v7h-7zM830 157h8v7h-8zM845 157h8v7h-8zM533 164h7v8h-7zM801 164h7v8h-7zM525 172h8v7h-8zM548 179h7v8h-7zM652 179h7v8h-7zM682 179h7v8h-7zM786 179h7v8h-7zM875 179h8v8h-8zM384 187h7v7h-7zM592 187h8v7h-8zM622 187h8v7h-8zM667 187h7v7h-7zM682 187h7v7h-7zM704 187h7v7h-7zM786 187h7v7h-7zM830 187h8v7h-8zM481 194h7v7h-7zM659 194h8v7h-8zM704 194h7v7h-7zM875 194h8v7h-8zM496 209h7v7h-7zM518 209h15v7h-15zM563 209h7v7h-7zM577 209h8v7h-8zM719 209h7v7h-7zM324 216h8v8h-8zM518 216h15v8h-15zM689 216h8v8h-8zM481 224h7v7h-7zM548 224h7v7h-7zM585 224h7v7h-7zM778 224h8v7h-8zM830 224h8v7h-8zM860 224h8v7h-8zM228 231h7v8h-7zM309 231h8v8h-8zM347 231h7v8h-7zM496 239h7v7h-7zM518 239h7v7h-7zM563 239h14v7h-14zM726 239h8v7h-8zM756 239h8v7h-8zM823 239h7v7h-7zM503 246h7v8h-7zM540 246h8v8h-8zM667 246h7v8h-7zM711 246h8v8h-8zM734 246h7v8h-7zM749 246h7v8h-7zM875 246h8v8h-8zM324 254h8v7h-8zM414 254h7v7h-7zM667 254h7v7h-7zM719 254h7v7h-7zM734 254h22v7h-22zM771 254h7v7h-7zM540 261h8v7h-8zM816 261h7v7h-7zM577 268h15v8h-15zM622 268h8v8h-8zM667 268h7v8h-7zM734 268h7v8h-7zM838 268h15v8h-15zM421 276h8v7h-8zM488 276h8v7h-8zM637 276h7v7h-7zM860 276h8v7h-8zM577 283h8v8h-8zM622 283h8v8h-8zM682 283h7v8h-7zM741 283h15v8h-15zM860 283h8v8h-8zM280 291h7v7h-7zM622 291h8v7h-8zM659 291h15v7h-15zM875 291h8v7h-8zM667 298h7v8h-7zM704 298h7v8h-7zM823 298h7v8h-7zM845 298h8v8h-8zM868 298h7v8h-7zM622 306h8v7h-8zM682 306h7v7h-7zM801 306h7v7h-7zM146 313h7v7h-7zM622 313h8v7h-8zM734 313h7v7h-7zM146 320h7v8h-7zM347 320h7v8h-7zM496 320h7v8h-7zM577 320h8v8h-8zM622 320h8v8h-8zM667 320h7v8h-7zM711 320h8v8h-8zM734 320h7v8h-7zM369 328h7v7h-7zM481 328h7v7h-7zM674 335h8v8h-8zM704 335h7v8h-7zM600 343h7v7h-7zM652 343h7v7h-7zM801 343h7v7h-7zM875 343h8v7h-8zM458 350h8v8h-8zM577 350h15v8h-15zM667 350h7v8h-7zM711 350h15v8h-15zM875 350h8v8h-8zM816 358h7v7h-7zM838 358h7v7h-7zM443 365h8v7h-8zM607 365h8v7h-8zM749 365h7v7h-7zM816 365h7v7h-7zM228 372h7v8h-7zM711 372h8v8h-8zM771 372h7v8h-7zM816 372h7v8h-7zM830 372h8v8h-8zM875 372h8v8h-8zM615 380h7v7h-7zM801 380h7v7h-7zM838 380h7v7h-7zM146 387h7v8h-7zM287 387h8v8h-8zM317 387h7v8h-7zM421 387h8v8h-8zM600 387h7v8h-7zM615 387h7v8h-7zM741 387h15v8h-15zM771 387h7v8h-7zM786 387h7v8h-7zM868 387h15v8h-15zM369 395h7v7h-7zM540 395h8v7h-8zM585 395h7v7h-7zM697 395h7v7h-7zM116 402h7v8h-7zM146 402h7v8h-7zM302 402h7v8h-7zM332 402h7v8h-7zM414 402h7v8h-7zM548 402h7v8h-7zM600 402h7v8h-7zM615 402h7v8h-7zM786 402h7v8h-7zM816 402h7v8h-7zM838 402h7v8h-7zM868 402h7v8h-7zM183 410h7v7h-7zM339 410h8v7h-8zM771 410h7v7h-7zM868 410h15v7h-15zM123 417h8v8h-8zM250 417h7v8h-7zM644 417h8v8h-8zM778 417h15v8h-15zM816 417h7v8h-7zM868 417h7v8h-7zM302 425h15v7h-15zM332 425h7v7h-7zM265 432h7v7h-7zM302 432h15v7h-15zM548 432h7v7h-7zM868 432h7v7h-7zM205 439h8v8h-8zM257 439h8v8h-8zM630 439h7v8h-7zM644 439h8v8h-8zM749 439h7v8h-7zM771 439h15v8h-15zM875 439h8v8h-8zM198 447h7v7h-7zM339 447h8v7h-8zM354 447h8v7h-8zM488 447h8v7h-8zM786 447h7v7h-7zM272 454h8v8h-8zM317 454h7v8h-7zM496 454h7v8h-7zM525 454h8v8h-8zM674 454h8v8h-8zM704 454h7v8h-7zM823 454h7v8h-7zM845 454h8v8h-8zM235 469h7v8h-7zM302 469h7v8h-7zM332 469h7v8h-7zM205 477h8v7h-8zM332 477h7v7h-7zM644 477h8v7h-8zM198 484h7v7h-7zM302 484h7v7h-7zM362 484h7v7h-7zM376 484h8v7h-8zM414 484h7v7h-7zM443 484h8v7h-8zM317 491h7v8h-7zM362 491h7v8h-7zM443 491h8v8h-8zM488 491h8v8h-8zM123 499h8v7h-8zM280 499h7v7h-7zM875 499h8v7h-8zM168 506h7v8h-7zM183 506h7v8h-7zM436 506h7v8h-7zM481 506h7v8h-7zM496 506h7v8h-7zM860 506h8v8h-8zM458 514h8v7h-8zM630 514h7v7h-7zM652 514h7v7h-7zM473 521h15v8h-15zM496 521h7v8h-7zM711 521h8v8h-8zM786 521h7v8h-7zM816 521h7v8h-7zM235 529h7v7h-7zM250 529h7v7h-7zM280 529h7v7h-7zM362 529h7v7h-7zM376 529h15v7h-15zM399 529h22v7h-22zM816 529h7v7h-7zM533 536h7v8h-7zM607 536h8v8h-8zM771 536h15v8h-15zM153 544h8v7h-8zM369 544h7v7h-7zM510 551h8v7h-8zM533 551h7v7h-7zM570 551h7v7h-7zM697 551h7v7h-7zM845 551h8v7h-8zM868 551h7v7h-7zM183 558h7v8h-7zM272 558h8v8h-8zM436 558h7v8h-7zM607 558h8v8h-8zM875 558h8v8h-8zM235 566h7v7h-7zM287 566h8v7h-8zM384 566h7v7h-7zM816 566h7v7h-7zM280 573h7v8h-7zM339 573h15v8h-15zM362 573h7v8h-7zM384 573h15v8h-15zM414 573h7v8h-7zM443 573h8v8h-8zM429 581h7v7h-7zM548 581h7v7h-7zM161 588h7v8h-7zM198 588h7v8h-7zM250 588h7v8h-7zM272 588h15v8h-15zM376 588h8v8h-8zM399 588h7v8h-7zM816 588h7v8h-7zM309 596h8v7h-8zM488 603h8v7h-8zM644 603h8v7h-8zM190 610h15v8h-15zM280 610h15v8h-15zM391 610h8v8h-8zM429 610h7v8h-7zM548 610h7v8h-7zM168 618h7v7h-7zM339 618h8v7h-8zM414 618h7v7h-7zM443 618h8v7h-8zM466 618h7v7h-7zM615 618h7v7h-7zM213 625h7v8h-7zM228 625h14v8h-14zM302 625h7v8h-7zM347 625h7v8h-7zM443 625h8v8h-8zM175 633h15v7h-15zM332 633h7v7h-7zM161 640h7v8h-7zM190 640h8v8h-8zM339 640h15v8h-15zM362 640h7v8h-7zM406 640h15v8h-15zM153 648h8v7h-8zM168 648h7v7h-7zM347 648h7v7h-7zM376 648h8v7h-8zM481 648h7v7h-7zM161 655h7v7h-7zM339 655h15v7h-15zM376 655h8v7h-8zM458 655h8v7h-8zM481 655h7v7h-7zM533 655h7v7h-7zM123 662h8v8h-8zM213 662h7v8h-7zM332 662h7v8h-7zM250 677h7v8h-7zM347 677h7v8h-7zM466 677h7v8h-7zM481 677h7v8h-7zM503 677h7v8h-7zM533 677h7v8h-7zM630 677h7v8h-7zM816 677h7v8h-7zM317 685h7v7h-7zM510 685h8v7h-8zM533 685h7v7h-7zM630 685h7v7h-7zM272 692h15v8h-15zM481 692h7v8h-7zM496 692h7v8h-7zM510 692h8v8h-8zM540 692h8v8h-8zM615 692h7v8h-7zM830 692h8v8h-8zM235 700h7v7h-7zM816 700h7v7h-7zM830 700h8v7h-8zM235 707h7v8h-7zM250 707h15v8h-15zM399 707h7v8h-7zM436 707h7v8h-7zM473 707h8v8h-8zM816 707h7v8h-7zM830 707h8v8h-8zM354 722h8v7h-8zM451 722h22v7h-22zM496 722h7v7h-7zM510 722h8v7h-8zM615 722h15v7h-15zM659 722h8v7h-8zM682 722h7v7h-7zM771 722h7v7h-7zM793 722h15v7h-15zM838 722h7v7h-7zM138 729h15v8h-15zM175 729h8v8h-8zM332 729h7v8h-7zM391 729h8v8h-8zM548 729h7v8h-7zM168 737h7v7h-7zM190 737h8v7h-8zM250 737h7v7h-7zM280 737h7v7h-7zM317 737h7v7h-7zM466 737h7v7h-7zM786 737h22v7h-22zM168 744h7v8h-7zM228 744h14v8h-14zM362 744h7v8h-7zM451 744h7v8h-7zM473 744h8v8h-8zM496 744h7v8h-7zM816 744h7v8h-7zM190 752h8v7h-8zM250 752h7v7h-7zM362 752h7v7h-7zM391 752h8v7h-8zM548 752h7v7h-7zM644 752h8v7h-8zM317 767h7v7h-7zM369 767h15v7h-15zM600 767h7v7h-7zM391 774h8v7h-8zM481 774h7v7h-7zM496 774h22v7h-22zM525 774h8v7h-8zM644 774h8v7h-8zM168 781h7v8h-7zM272 781h8v8h-8zM287 781h8v8h-8zM339 781h8v8h-8zM384 781h7v8h-7zM436 781h15v8h-15zM466 781h7v8h-7zM481 781h7v8h-7zM503 781h7v8h-7zM533 781h7v8h-7zM592 781h8v8h-8zM652 781h7v8h-7z"/><path fill="#14acdc" d="M585 23h7v7h-7zM295 120h7v7h-7zM213 201h7v8h-7zM458 328h8v7h-8zM421 365h8v7h-8zM116 491h7v8h-7z"/><path fill="#405af2" d="M630 23h7v7h-7zM630 53h7v7h-7zM607 172h8v7h-8zM853 231h7v8h-7zM808 328h8v7h-8zM808 395h8v7h-8zM265 514h7v7h-7zM116 536h7v8h-7zM146 536h7v8h-7zM808 588h8v8h-8zM421 715h8v7h-8zM488 715h8v7h-8zM682 715h7v7h-7zM324 759h8v8h-8z"/><path fill="#1ababa" d="M704 23h7v7h-7zM875 23h8v7h-8zM622 30h8v8h-8zM704 38h7v7h-7zM719 38h7v7h-7zM793 38h8v7h-8zM451 45h7v8h-7zM563 45h7v8h-7zM659 45h8v8h-8zM771 45h7v8h-7zM868 45h7v8h-7zM689 53h8v7h-8zM793 53h8v7h-8zM838 53h7v7h-7zM875 53h8v7h-8zM548 60h7v8h-7zM778 68h8v7h-8zM749 75h7v7h-7zM540 90h8v7h-8zM488 97h8v8h-8zM533 97h7v8h-7zM548 97h7v8h-7zM771 97h7v8h-7zM510 105h8v7h-8zM801 112h7v8h-7zM838 112h15v8h-15zM510 120h8v7h-8zM830 127h8v8h-8zM711 142h8v7h-8zM845 142h8v7h-8zM406 149h8v8h-8zM451 149h15v8h-15zM473 149h15v8h-15zM667 149h7v8h-7zM838 149h7v8h-7zM369 172h7v7h-7zM711 172h8v7h-8zM324 179h8v8h-8zM801 194h7v7h-7zM354 201h8v8h-8zM823 201h7v8h-7zM682 216h7v8h-7zM600 224h7v7h-7zM272 231h8v8h-8zM875 239h8v7h-8zM295 261h7v7h-7zM265 276h7v7h-7zM764 276h7v7h-7zM585 298h7v8h-7zM242 313h8v7h-8zM689 328h8v7h-8zM138 358h8v7h-8zM242 358h8v7h-8zM242 365h8v7h-8zM242 380h8v7h-8zM242 387h8v8h-8zM190 395h8v7h-8zM198 417h7v8h-7zM213 417h7v8h-7zM190 439h8v8h-8zM183 447h7v7h-7zM153 454h8v8h-8zM190 454h8v8h-8zM138 469h8v8h-8zM391 491h8v8h-8zM317 506h7v8h-7zM123 529h8v7h-8zM138 566h8v7h-8zM242 573h8v8h-8zM309 588h8v8h-8zM146 596h7v7h-7zM421 596h8v7h-8zM116 610h7v8h-7zM131 610h7v8h-7zM235 618h7v7h-7zM265 618h7v7h-7zM131 625h7v8h-7zM168 655h7v7h-7zM369 670h7v7h-7zM138 677h8v8h-8zM190 677h8v8h-8zM161 685h7v7h-7zM131 700h7v7h-7zM146 700h7v7h-7zM205 707h8v8h-8zM287 707h8v8h-8zM295 729h7v8h-7zM220 737h8v7h-8zM146 744h7v8h-7zM205 744h8v8h-8zM242 744h8v8h-8zM205 752h8v7h-8zM235 752h7v7h-7zM138 774h8v7h-8zM116 781h7v8h-7zM146 781h7v8h-7zM332 781h7v8h-7z"/><path fill="#26bfaa" d="M793 23h8v7h-8zM711 30h8v8h-8zM845 30h8v8h-8zM324 38h8v7h-8zM592 45h8v8h-8zM711 60h8v8h-8zM652 68h7v7h-7zM652 75h7v7h-7zM510 82h8v8h-8zM600 97h7v8h-7zM659 120h8v7h-8zM503 127h7v8h-7zM577 127h8v8h-8zM600 127h7v8h-7zM734 127h7v8h-7zM749 127h7v8h-7zM845 127h8v8h-8zM503 135h7v7h-7zM771 135h7v7h-7zM860 135h8v7h-8zM503 142h7v7h-7zM860 142h8v7h-8zM778 157h8v7h-8zM295 164h7v8h-7zM257 201h8v8h-8zM131 231h7v8h-7zM764 365h7v7h-7zM220 410h22v7h-22zM175 417h8v8h-8zM220 484h8v7h-8zM138 499h8v7h-8zM190 506h8v8h-8zM220 506h8v8h-8zM161 558h14v8h-14zM213 566h7v7h-7zM123 618h8v7h-8zM153 618h8v7h-8zM220 640h8v8h-8zM220 655h8v7h-8zM458 670h8v7h-8zM228 677h7v8h-7zM250 685h7v7h-7zM116 700h7v7h-7zM123 752h8v7h-8zM220 752h8v7h-8zM228 767h14v7h-14z"/><path fill="#327ef8" d="M853 23h7v7h-7zM488 38h8v7h-8zM853 120h7v7h-7zM853 164h7v8h-7zM488 172h8v7h-8zM853 209h7v7h-7zM458 231h8v8h-8zM540 231h15v8h-15zM607 328h8v7h-8zM324 365h8v7h-8zM131 395h7v7h-7zM265 395h7v7h-7zM324 447h8v7h-8zM324 454h8v8h-8zM756 462h8v7h-8zM421 514h8v7h-8zM555 662h8v8h-8zM116 759h7v8h-7zM213 759h7v8h-7zM257 759h8v8h-8zM302 759h7v8h-7z"/><path fill="#bdbf33" d="M190 30h8v8h-8zM175 38h8v7h-8zM592 75h8v7h-8zM131 82h7v8h-7zM123 97h8v8h-8zM429 97h22v8h-22zM272 112h8v8h-8zM436 112h15v8h-15zM280 142h7v7h-7zM302 142h7v7h-7zM205 179h8v8h-8zM235 187h7v7h-7zM384 194h7v7h-7zM436 194h15v7h-15zM235 209h7v7h-7zM317 209h7v7h-7zM391 209h8v7h-8zM302 224h7v7h-7zM347 224h7v7h-7zM317 254h7v7h-7zM466 261h7v7h-7zM563 276h7v7h-7zM287 291h8v7h-8zM302 298h7v8h-7zM436 313h15v7h-15zM190 335h8v8h-8zM190 343h8v7h-8zM205 343h8v7h-8zM287 343h8v7h-8zM406 343h8v7h-8zM697 343h7v7h-7zM190 350h8v8h-8zM205 350h8v8h-8zM287 350h8v8h-8zM406 350h8v8h-8zM481 350h7v8h-7zM354 372h8v8h-8zM496 380h7v7h-7zM443 387h8v8h-8zM473 402h8v8h-8zM525 410h8v7h-8zM540 410h8v7h-8zM659 417h8v8h-8zM533 425h7v7h-7zM682 425h7v7h-7zM503 432h7v7h-7zM518 439h7v8h-7zM503 447h7v7h-7zM563 447h7v7h-7zM563 454h7v8h-7zM369 469h7v8h-7zM540 469h15v8h-15zM674 484h15v7h-15zM168 499h7v7h-7zM644 521h8v8h-8zM615 551h7v7h-7zM674 558h8v8h-8zM510 566h8v7h-8zM711 573h8v8h-8zM577 581h8v7h-8zM652 581h7v7h-7zM845 581h8v7h-8zM518 588h7v8h-7zM577 588h8v8h-8zM436 603h7v7h-7zM749 603h7v7h-7zM749 610h7v8h-7zM667 618h7v7h-7zM749 618h15v7h-15zM756 625h8v8h-8zM801 633h7v7h-7zM697 655h22v7h-22zM711 662h15v8h-15zM793 662h8v8h-8zM801 685h7v7h-7zM756 700h8v7h-8zM726 707h8v8h-8zM778 707h8v8h-8zM823 707h7v8h-7zM801 729h7v8h-7zM674 752h8v7h-8zM875 767h8v7h-8zM860 781h8v8h-8z"/><path fill="#88c858" d="M443 30h8v8h-8zM220 38h8v7h-8zM235 38h7v7h-7zM280 38h7v7h-7zM235 45h7v8h-7zM272 45h8v8h-8zM213 53h7v7h-7zM265 53h7v7h-7zM183 60h7v8h-7zM228 60h7v8h-7zM592 60h8v8h-8zM697 60h7v8h-7zM302 68h7v7h-7zM332 68h7v7h-7zM726 68h8v7h-8zM265 75h7v7h-7zM384 82h7v8h-7zM153 90h8v7h-8zM339 97h8v8h-8zM369 105h7v7h-7zM406 112h8v8h-8zM421 112h8v8h-8zM481 112h7v8h-7zM146 120h7v7h-7zM317 120h7v7h-7zM473 120h8v7h-8zM131 127h7v8h-7zM347 127h7v8h-7zM153 135h8v7h-8zM421 135h8v7h-8zM697 135h7v7h-7zM131 142h15v7h-15zM369 142h7v7h-7zM406 142h8v7h-8zM369 157h7v7h-7zM391 157h8v7h-8zM421 157h8v7h-8zM391 164h8v8h-8zM421 164h8v8h-8zM146 172h7v7h-7zM168 172h7v7h-7zM354 172h15v7h-15zM138 179h8v8h-8zM697 179h7v8h-7zM131 187h7v7h-7zM339 187h8v7h-8zM354 187h8v7h-8zM161 209h7v7h-7zM213 224h7v7h-7zM384 224h7v7h-7zM496 224h7v7h-7zM570 224h7v7h-7zM726 224h8v7h-8zM756 224h8v7h-8zM793 224h8v7h-8zM823 224h7v7h-7zM161 239h7v7h-7zM190 246h8v8h-8zM280 246h7v8h-7zM496 246h7v8h-7zM726 246h8v8h-8zM220 254h8v7h-8zM726 254h8v7h-8zM265 261h7v7h-7zM280 261h7v7h-7zM793 261h8v7h-8zM265 268h7v8h-7zM198 276h7v7h-7zM235 276h7v7h-7zM250 276h7v7h-7zM406 276h8v7h-8zM667 276h7v7h-7zM756 276h8v7h-8zM704 283h7v8h-7zM175 291h8v7h-8zM317 291h7v7h-7zM250 298h15v8h-15zM205 313h8v7h-8zM235 313h7v7h-7zM369 313h7v7h-7zM205 328h8v7h-8zM228 328h7v7h-7zM250 328h15v7h-15zM436 328h15v7h-15zM473 335h15v8h-15zM421 343h8v7h-8zM510 343h8v7h-8zM123 350h8v8h-8zM421 350h8v8h-8zM451 350h7v8h-7zM466 350h7v8h-7zM726 350h8v8h-8zM443 358h8v7h-8zM510 358h8v7h-8zM689 358h15v7h-15zM443 372h8v8h-8zM540 372h8v8h-8zM689 372h8v8h-8zM213 380h7v7h-7zM429 380h7v7h-7zM533 380h7v7h-7zM667 380h7v7h-7zM205 387h8v8h-8zM429 387h7v8h-7zM622 387h8v8h-8zM317 402h7v8h-7zM339 402h8v8h-8zM659 402h8v8h-8zM726 410h8v7h-8zM436 417h7v8h-7zM451 417h7v8h-7zM600 425h7v7h-7zM615 425h7v7h-7zM711 425h8v7h-8zM473 439h8v8h-8zM466 447h7v7h-7zM659 454h8v8h-8zM317 477h7v7h-7zM711 477h8v7h-8zM615 484h7v7h-7zM786 491h7v8h-7zM153 499h8v7h-8zM704 499h7v7h-7zM518 506h7v8h-7zM518 521h7v8h-7zM577 521h8v8h-8zM689 521h8v8h-8zM719 521h15v8h-15zM741 521h8v8h-8zM830 521h8v8h-8zM481 529h7v7h-7zM644 536h8v8h-8zM682 544h7v7h-7zM630 551h7v7h-7zM667 551h7v7h-7zM682 551h7v7h-7zM830 558h15v8h-15zM496 566h7v7h-7zM548 566h7v7h-7zM369 573h7v8h-7zM473 573h8v8h-8zM644 573h8v8h-8zM778 581h8v7h-8zM637 588h15v8h-15zM451 596h7v7h-7zM466 596h7v7h-7zM615 596h7v7h-7zM153 603h8v7h-8zM228 603h7v7h-7zM272 603h8v7h-8zM451 603h7v7h-7zM376 610h8v8h-8zM592 610h8v8h-8zM518 618h7v7h-7zM570 618h7v7h-7zM615 625h7v8h-7zM161 633h7v7h-7zM317 633h7v7h-7zM339 633h15v7h-15zM443 633h8v7h-8zM503 633h7v7h-7zM615 633h7v7h-7zM615 648h7v7h-7zM317 662h7v8h-7zM369 662h7v8h-7zM875 662h8v8h-8zM674 685h8v7h-8zM585 692h7v8h-7zM317 700h7v7h-7zM354 700h8v7h-8zM838 700h7v7h-7zM845 707h8v8h-8zM860 707h8v8h-8zM875 707h8v8h-8zM317 729h7v8h-7zM615 737h7v7h-7zM652 737h7v7h-7zM652 744h7v8h-7zM793 744h8v8h-8zM801 752h7v7h-7zM801 767h7v7h-7zM756 781h8v8h-8zM801 781h7v8h-7z"/><path fill="#1cbcb4" d="M786 30h7v8h-7zM369 38h7v7h-7zM689 45h8v8h-8zM369 53h7v7h-7zM265 60h7v8h-7zM875 60h8v8h-8zM600 68h7v7h-7zM793 82h8v8h-8zM577 120h8v7h-8zM801 120h7v7h-7zM749 135h7v7h-7zM771 142h7v7h-7zM548 157h7v7h-7zM153 172h8v7h-8zM570 172h7v7h-7zM711 187h8v7h-8zM510 216h8v8h-8zM667 216h7v8h-7zM362 231h7v8h-7zM585 239h7v7h-7zM749 239h7v7h-7zM801 246h7v8h-7zM778 261h8v7h-8zM324 268h8v8h-8zM488 268h8v8h-8zM830 268h8v8h-8zM131 276h7v7h-7zM146 276h7v7h-7zM555 313h8v7h-8zM726 328h8v7h-8zM585 335h7v8h-7zM741 350h15v8h-15zM362 395h7v7h-7zM309 417h8v8h-8zM764 417h7v8h-7zM250 454h7v8h-7zM786 454h7v8h-7zM875 454h8v8h-8zM406 462h8v7h-8zM265 477h7v7h-7zM213 484h7v7h-7zM816 484h7v7h-7zM332 491h7v8h-7zM429 491h7v8h-7zM161 506h7v8h-7zM853 521h7v8h-7zM309 573h8v8h-8zM138 596h8v7h-8zM280 618h7v7h-7zM421 633h8v7h-8zM443 648h8v7h-8zM228 655h7v7h-7zM332 655h7v7h-7zM443 655h8v7h-8zM510 670h8v7h-8zM860 670h8v7h-8zM235 677h7v8h-7zM354 685h8v7h-8zM123 692h8v8h-8zM548 692h7v8h-7zM175 700h8v7h-8zM213 707h7v8h-7zM339 707h8v8h-8zM577 722h8v7h-8zM362 737h7v7h-7zM615 759h7v8h-7zM764 767h7v7h-7zM153 781h8v8h-8zM548 781h7v8h-7z"/><path fill="#4450f0" d="M808 30h8v8h-8zM808 45h8v8h-8zM808 53h8v7h-8zM808 60h8v8h-8zM808 68h8v7h-8zM808 75h8v7h-8zM808 90h8v7h-8zM808 97h8v8h-8zM808 105h8v7h-8zM808 112h8v8h-8zM808 120h8v7h-8zM808 127h8v8h-8zM808 135h8v7h-8zM808 142h8v7h-8zM808 157h8v7h-8zM808 179h8v8h-8zM808 187h8v7h-8zM808 194h8v7h-8zM555 231h8v8h-8zM607 231h8v8h-8zM324 462h8v7h-8zM324 514h8v7h-8zM808 670h8v7h-8zM123 715h8v7h-8zM138 715h37v7h-37zM183 715h59v7h-59zM250 715h7v7h-7zM272 715h23v7h-23zM764 715h7v7h-7z"/><path fill="#fcbe3a" d="M138 38h8v7h-8zM131 45h7v8h-7zM205 75h8v7h-8zM168 112h7v8h-7zM406 283h8v8h-8zM391 291h8v7h-8zM384 298h7v8h-7zM376 313h8v7h-8zM481 380h7v7h-7zM473 387h8v8h-8zM570 425h7v7h-7zM518 477h7v7h-7zM659 477h8v7h-8zM682 558h7v8h-7zM570 566h7v7h-7zM689 566h8v7h-8zM682 581h7v7h-7zM652 588h7v8h-7zM674 588h8v8h-8zM659 596h8v7h-8zM726 596h8v7h-8zM689 633h8v7h-8zM868 767h7v7h-7zM860 774h8v7h-8z"/><path fill="#f4b840" d="M146 38h7v7h-7zM131 53h7v7h-7zM168 60h7v8h-7zM257 68h8v7h-8zM153 75h8v7h-8zM228 75h7v7h-7zM250 112h7v8h-7zM257 127h8v8h-8zM168 135h7v7h-7zM265 135h7v7h-7zM287 135h8v7h-8zM205 157h8v7h-8zM161 164h7v8h-7zM220 164h8v8h-8zM228 172h7v7h-7zM302 172h7v7h-7zM228 194h7v7h-7zM265 209h7v7h-7zM622 469h8v8h-8zM726 469h8v8h-8zM697 477h7v7h-7zM726 477h8v7h-8zM563 529h7v7h-7zM659 529h8v7h-8zM622 566h8v7h-8zM704 566h7v7h-7zM726 573h8v8h-8zM711 581h8v7h-8zM823 581h7v7h-7zM570 603h7v7h-7zM659 610h8v8h-8zM711 610h8v8h-8zM674 618h8v7h-8zM704 618h7v7h-7zM563 633h14v7h-14zM667 633h7v7h-7zM741 633h8v7h-8zM726 648h8v7h-8zM793 692h8v8h-8zM786 700h7v7h-7zM674 729h8v8h-8z"/><path fill="#ccbc30" d="M168 38h7v7h-7zM175 68h8v7h-8zM436 68h7v7h-7zM131 75h7v7h-7zM161 82h7v8h-7zM302 120h7v7h-7zM384 120h7v7h-7zM443 120h8v7h-8zM272 142h8v7h-8zM287 142h8v7h-8zM309 164h8v8h-8zM362 164h7v8h-7zM376 164h8v8h-8zM429 164h7v8h-7zM235 179h7v8h-7zM235 194h7v7h-7zM213 209h7v7h-7zM309 209h8v7h-8zM257 216h8v8h-8zM302 216h7v8h-7zM376 224h8v7h-8zM347 246h7v8h-7zM339 254h8v7h-8zM362 254h7v7h-7zM257 268h8v8h-8zM347 268h7v8h-7zM406 268h8v8h-8zM257 283h8v8h-8zM317 283h7v8h-7zM213 291h7v7h-7zM436 306h7v7h-7zM362 313h7v7h-7zM429 320h7v8h-7zM257 335h8v8h-8zM414 335h7v8h-7zM436 335h15v8h-15zM161 343h7v7h-7zM399 343h7v7h-7zM429 343h7v7h-7zM213 350h7v8h-7zM429 350h7v8h-7zM473 372h8v8h-8zM570 372h7v8h-7zM466 380h7v7h-7zM570 380h7v7h-7zM496 387h7v8h-7zM481 402h7v8h-7zM756 425h8v7h-8zM704 469h7v8h-7zM466 477h15v7h-15zM704 477h7v7h-7zM734 484h7v7h-7zM756 484h8v7h-8zM756 491h8v8h-8zM726 499h8v7h-8zM734 558h7v8h-7zM719 603h7v7h-7zM563 610h14v8h-14zM719 610h7v8h-7zM697 625h14v8h-14zM592 633h8v7h-8zM577 640h8v8h-8zM652 640h7v8h-7zM786 640h22v8h-22zM518 662h7v8h-7zM577 662h15v8h-15zM734 692h7v8h-7zM734 700h7v7h-7zM734 707h7v8h-7z"/><path fill="#ebb83a" d="M161 60h7v8h-7zM153 68h8v7h-8zM436 164h7v8h-7zM257 343h8v7h-8zM585 425h7v7h-7zM682 469h22v8h-22zM585 477h7v7h-7zM689 477h8v7h-8zM585 484h7v7h-7zM518 491h7v8h-7zM570 491h15v8h-15zM734 491h7v8h-7zM667 529h7v7h-7zM734 566h7v7h-7zM622 573h8v8h-8zM704 573h7v8h-7zM719 581h7v7h-7zM563 588h7v8h-7zM697 588h7v8h-7zM726 588h8v8h-8zM563 596h14v7h-14zM563 603h7v7h-7zM682 603h7v7h-7zM711 603h8v7h-8zM667 610h7v8h-7zM697 618h7v7h-7zM674 625h8v8h-8zM682 633h7v7h-7zM585 640h7v8h-7zM659 640h8v8h-8z"/><path fill="#fcc638" d="M190 75h8v7h-8zM213 75h7v7h-7zM257 75h8v7h-8zM168 97h7v8h-7zM168 120h7v7h-7zM250 120h7v7h-7zM257 135h8v7h-8zM257 142h8v7h-8zM213 157h7v7h-7zM168 164h7v8h-7zM228 164h14v8h-14zM302 194h7v7h-7zM287 209h8v7h-8zM384 283h22v8h-22zM376 291h8v7h-8zM376 298h8v8h-8zM376 306h8v7h-8zM481 372h7v8h-7zM466 387h7v8h-7zM518 417h7v8h-7zM510 425h8v7h-8zM563 425h7v7h-7zM518 469h7v8h-7zM585 469h7v8h-7zM659 469h8v8h-8zM563 491h7v8h-7zM563 566h7v7h-7zM726 566h8v7h-8zM689 573h8v8h-8zM667 596h7v7h-7zM726 603h8v7h-8zM726 610h8v8h-8zM659 633h8v7h-8zM697 633h14v7h-14zM734 633h7v7h-7zM726 640h8v8h-8zM741 640h8v8h-8zM734 648h7v7h-7zM749 648h7v7h-7zM741 655h8v7h-8z"/><path fill="#4838d8" d="M808 82h8v8h-8zM644 231h8v8h-8zM808 231h8v8h-8zM324 551h8v7h-8zM175 715h8v7h-8zM324 715h8v7h-8z"/><path fill="#3973f8" d="M853 90h7v7h-7zM324 149h8v8h-8zM630 216h7v8h-7zM242 231h8v8h-8zM488 231h8v8h-8zM615 231h7v8h-7zM830 231h8v8h-8zM860 231h8v8h-8zM630 328h7v7h-7zM644 328h8v7h-8zM644 335h8v8h-8zM324 395h8v7h-8zM324 521h8v8h-8zM309 536h8v8h-8zM421 536h8v8h-8zM421 551h15v7h-15zM808 692h8v8h-8zM808 700h8v7h-8zM808 707h8v8h-8zM786 715h22v7h-22zM324 737h8v7h-8zM183 759h7v8h-7zM324 767h8v7h-8z"/><path fill="#fcd030" d="M213 112h7v8h-7zM257 112h8v8h-8zM205 120h8v7h-8zM205 164h8v8h-8zM674 573h8v8h-8zM667 581h7v7h-7zM697 596h7v7h-7zM689 603h8v7h-8z"/><path fill="#fccb35" d="M228 112h7v8h-7zM228 120h7v7h-7zM257 120h8v7h-8zM205 135h15v7h-15zM213 164h7v8h-7zM622 521h8v8h-8zM615 529h7v7h-7zM674 566h8v7h-8zM682 573h7v8h-7zM659 581h8v7h-8zM689 581h15v7h-15zM726 581h8v7h-8zM667 588h7v8h-7zM674 596h8v7h-8zM674 603h8v7h-8zM674 633h8v7h-8z"/><path fill="#f8b840" d="M250 135h7v7h-7zM250 142h7v7h-7zM228 157h14v7h-14zM443 343h8v7h-8zM436 350h7v8h-7zM667 491h7v8h-7zM630 521h7v8h-7zM615 536h7v8h-7zM667 558h7v8h-7zM585 573h7v8h-7zM652 573h7v8h-7zM786 581h7v7h-7zM674 692h8v8h-8z"/><path fill="#13add9" d="M332 172h7v7h-7zM265 239h7v7h-7z"/><path fill="#405ef6" d="M630 172h7v7h-7zM764 231h7v8h-7zM808 246h8v8h-8zM853 462h7v7h-7zM265 536h7v8h-7zM324 670h8v7h-8zM339 715h8v7h-8zM816 715h7v7h-7zM808 722h8v7h-8zM555 759h8v8h-8z"/><path fill="#463ede" d="M808 172h8v7h-8zM808 201h8v8h-8zM265 715h7v7h-7zM295 715h7v7h-7z"/><path fill="#209de3" d="M391 201h8v8h-8zM369 231h7v8h-7zM324 276h8v7h-8zM295 298h7v8h-7z"/><path fill="#4545e5" d="M630 231h7v8h-7zM808 239h8v7h-8zM324 536h8v8h-8zM332 715h7v7h-7zM853 715h7v7h-7zM808 759h8v8h-8z"/><path fill="#3e65f8" d="M764 462h7v7h-7zM555 670h8v7h-8zM823 715h30v7h-30zM860 715h23v7h-23zM808 729h8v8h-8zM808 737h8v7h-8zM808 744h8v8h-8zM808 752h8v7h-8zM808 767h8v7h-8zM808 774h8v7h-8zM808 781h8v8h-8z"/><path fill="#fcd830" d="M570 469h7v8h-7zM563 477h7v7h-7zM667 566h7v7h-7zM659 573h8v8h-8z"/><path fill="#a2c346" d="M644 529h8v7h-8zM622 551h8v7h-8zM845 700h8v7h-8zM793 752h8v7h-8z"/></g>
<defs><linearGradient id="cb" x1="0" y1="0" x2="0" y2="1"><stop offset="0.000" stop-color="#f9f916"/><stop offset="0.050" stop-color="#f5dc2c"/><stop offset="0.100" stop-color="#fcc838"/><stop offset="0.150" stop-color="#fab83e"/><stop offset="0.200" stop-color="#e2b832"/><stop offset="0.250" stop-color="#c8bc2c"/><stop offset="0.300" stop-color="#a2c244"/><stop offset="0.350" stop-color="#78c862"/><stop offset="0.400" stop-color="#50c882"/><stop offset="0.450" stop-color="#36c0a2"/><stop offset="0.500" stop-color="#1cb8b8"/><stop offset="0.550" stop-color="#12b0cc"/><stop offset="0.600" stop-color="#1ea6da"/><stop offset="0.650" stop-color="#2298e4"/><stop offset="0.700" stop-color="#2c88f0"/><stop offset="0.750" stop-color="#3878f8"/><stop offset="0.800" stop-color="#4462f8"/><stop offset="0.850" stop-color="#4852f0"/><stop offset="0.900" stop-color="#4540e0"/><stop offset="0.950" stop-color="#4232c8"/><stop offset="1.000" stop-color="#3e26a8"/></linearGradient></defs>
<rect x="906.30" y="15.56" width="48.70" height="773.34" fill="url(#cb)"/>
<g stroke="#262626" stroke-width="1.5"><line x1="108.45" y1="86.20" x2="117.15" y2="86.20"/><line x1="882.60" y1="86.20" x2="873.90" y2="86.20"/><line x1="108.45" y1="160.56" x2="117.15" y2="160.56"/><line x1="882.60" y1="160.56" x2="873.90" y2="160.56"/><line x1="108.45" y1="234.92" x2="117.15" y2="234.92"/><line x1="882.60" y1="234.92" x2="873.90" y2="234.92"/><line x1="108.45" y1="309.28" x2="117.15" y2="309.28"/><line x1="882.60" y1="309.28" x2="873.90" y2="309.28"/><line x1="108.45" y1="383.64" x2="117.15" y2="383.64"/><line x1="882.60" y1="383.64" x2="873.90" y2="383.64"/><line x1="108.45" y1="458.00" x2="117.15" y2="458.00"/><line x1="882.60" y1="458.00" x2="873.90" y2="458.00"/><line x1="108.45" y1="532.36" x2="117.15" y2="532.36"/><line x1="882.60" y1="532.36" x2="873.90" y2="532.36"/><line x1="108.45" y1="606.72" x2="117.15" y2="606.72"/><line x1="882.60" y1="606.72" x2="873.90" y2="606.72"/><line x1="108.45" y1="681.08" x2="117.15" y2="681.08"/><line x1="882.60" y1="681.08" x2="873.90" y2="681.08"/><line x1="108.45" y1="755.44" x2="117.15" y2="755.44"/><line x1="882.60" y1="755.44" x2="873.90" y2="755.44"/><line x1="253.60" y1="788.90" x2="253.60" y2="780.20"/><line x1="253.60" y1="15.56" x2="253.60" y2="24.26"/><line x1="402.48" y1="788.90" x2="402.48" y2="780.20"/><line x1="402.48" y1="15.56" x2="402.48" y2="24.26"/><line x1="551.35" y1="788.90" x2="551.35" y2="780.20"/><line x1="551.35" y1="15.56" x2="551.35" y2="24.26"/><line x1="700.23" y1="788.90" x2="700.23" y2="780.20"/><line x1="700.23" y1="15.56" x2="700.23" y2="24.26"/><line x1="849.10" y1="788.90" x2="849.10" y2="780.20"/><line x1="849.10" y1="15.56" x2="849.10" y2="24.26"/><line x1="946.60" y1="711.57" x2="955.00" y2="711.57"/><line x1="946.60" y1="634.23" x2="955.00" y2="634.23"/><line x1="946.60" y1="556.90" x2="955.00" y2="556.90"/><line x1="946.60" y1="479.56" x2="955.00" y2="479.56"/><line x1="946.60" y1="402.23" x2="955.00" y2="402.23"/><line x1="946.60" y1="324.90" x2="955.00" y2="324.90"/><line x1="946.60" y1="247.56" x2="955.00" y2="247.56"/><line x1="946.60" y1="170.23" x2="955.00" y2="170.23"/><line x1="946.60" y1="92.89" x2="955.00" y2="92.89"/></g>
<rect x="109" y="15.5" width="773.85" height="773.35" fill="none" stroke="#262626" stroke-width="1.7"/>
<rect x="906.30" y="15.50" width="48.70" height="773.30" fill="none" stroke="#262626" stroke-width="1.6"/>
<text x="96" y="87.20" text-anchor="end" dy="0.36em">10</text>
<text x="96" y="161.56" text-anchor="end" dy="0.36em">20</text>
<text x="96" y="235.92" text-anchor="end" dy="0.36em">30</text>
<text x="96" y="310.28" text-anchor="end" dy="0.36em">40</text>
<text x="96" y="384.64" text-anchor="end" dy="0.36em">50</text>
<text x="96" y="459.00" text-anchor="end" dy="0.36em">60</text>
<text x="96" y="533.36" text-anchor="end" dy="0.36em">70</text>
<text x="96" y="607.72" text-anchor="end" dy="0.36em">80</text>
<text x="96" y="682.08" text-anchor="end" dy="0.36em">90</text>
<text x="96" y="756.44" text-anchor="end" dy="0.36em">100</text>
<text x="253.60" y="832" text-anchor="middle">20</text>
<text x="402.48" y="832" text-anchor="middle">40</text>
<text x="551.35" y="832" text-anchor="middle">60</text>
<text x="700.23" y="832" text-anchor="middle">80</text>
<text x="849.10" y="832" text-anchor="middle">100</text>
<text x="966" y="789.90" dy="0.36em" style="font-size:28.5px">0</text>
<text x="966" y="712.58" dy="0.36em" style="font-size:28.5px">0.1</text>
<text x="966" y="635.26" dy="0.36em" style="font-size:28.5px">0.2</text>
<text x="966" y="557.94" dy="0.36em" style="font-size:28.5px">0.3</text>
<text x="966" y="480.62" dy="0.36em" style="font-size:28.5px">0.4</text>
<text x="966" y="403.30" dy="0.36em" style="font-size:28.5px">0.5</text>
<text x="966" y="325.98" dy="0.36em" style="font-size:28.5px">0.6</text>
<text x="966" y="248.66" dy="0.36em" style="font-size:28.5px">0.7</text>
<text x="966" y="171.34" dy="0.36em" style="font-size:28.5px">0.8</text>
<text x="966" y="94.02" dy="0.36em" style="font-size:28.5px">0.9</text>
<text x="966" y="16.70" dy="0.36em" style="font-size:28.5px">1</text>
<text x="495" y="876" text-anchor="middle" style="font-size:33.0px">window</text>
<text transform="translate(28.8 402.5) rotate(-90)" text-anchor="middle" style="font-size:33.0px">window</text>
</svg>
</body></html>
